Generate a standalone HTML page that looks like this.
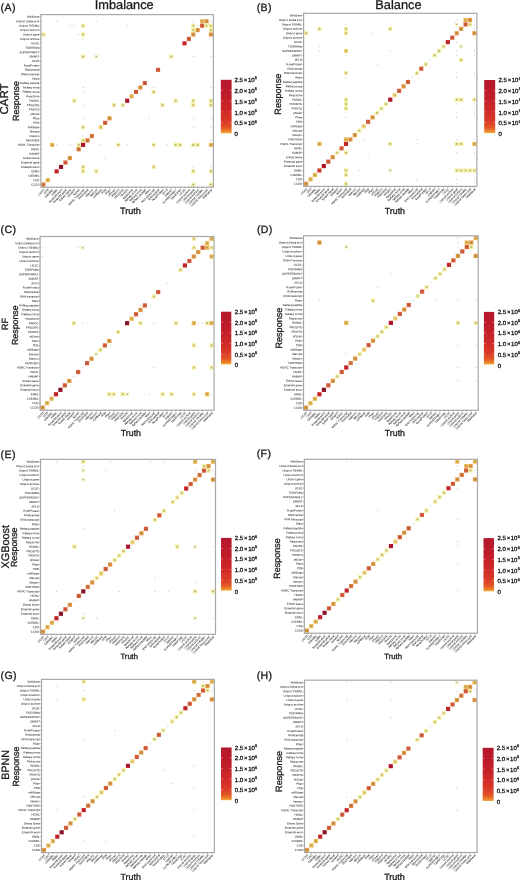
<!DOCTYPE html>
<html><head><meta charset="utf-8"><title>Confusion matrices</title>
<style>
html,body{margin:0;padding:0;background:#fff;}
svg{display:block;will-change:transform;filter:blur(0.45px);}
text{font-family:"Liberation Sans",sans-serif;text-rendering:geometricPrecision;}
.tl{fill:#222;stroke:#222;stroke-width:0.03px;}
.lb{fill:#1a1a1a;stroke:#1a1a1a;stroke-width:0.3px;}
</style></head><body>
<svg width="520" height="880" viewBox="0 0 520 880">
<defs><linearGradient id="cb" x1="0" y1="0" x2="0" y2="1"><stop offset="0" stop-color="#b3182c"/><stop offset="0.3" stop-color="#c01c2a"/><stop offset="0.6" stop-color="#cf2a28"/><stop offset="0.8" stop-color="#db3d26"/><stop offset="0.9" stop-color="#e35826"/><stop offset="0.97" stop-color="#ed8a2c"/><stop offset="1" stop-color="#f4b040"/></linearGradient></defs>
<rect x="0" y="0" width="520" height="880" fill="#fff"/>
<text class="lb" x="94.7" y="9.2" font-size="12.8">Imbalance</text>
<text class="lb" x="375.3" y="8.9" font-size="12.8">Balance</text>
<text class="lb" x="0.6" y="10.5" font-size="10.6" letter-spacing="0.35">(A)</text>
<text class="lb" x="256.7" y="10.5" font-size="10.6" letter-spacing="0.35">(B)</text>
<text class="lb" x="0.6" y="232.6" font-size="10.6" letter-spacing="0.35">(C)</text>
<text class="lb" x="256.9" y="232.8" font-size="10.6" letter-spacing="0.35">(D)</text>
<text class="lb" x="0.6" y="457.8" font-size="10.6" letter-spacing="0.35">(E)</text>
<text class="lb" x="256.7" y="456.8" font-size="10.6" letter-spacing="0.35">(F)</text>
<text class="lb" x="0.6" y="678.5" font-size="10.6" letter-spacing="0.35">(G)</text>
<text class="lb" x="256.7" y="679" font-size="10.6" letter-spacing="0.35">(H)</text>
<text class="lb" font-size="11.4" text-anchor="middle" transform="translate(8.3 99) rotate(-90)">CART</text>
<text class="lb" font-size="9" text-anchor="middle" transform="translate(7.9 324) rotate(-90)">RF</text>
<text class="lb" font-size="10.9" text-anchor="middle" transform="translate(8.6 546.8) rotate(-90)">XGBoost</text>
<text class="lb" font-size="10.7" text-anchor="middle" transform="translate(8.6 764.8) rotate(-90)">BPNN</text>
<text class="lb" font-size="8.85" text-anchor="middle" transform="translate(18.6 101) rotate(-90)">Response</text>
<text class="lb" font-size="9.1" text-anchor="middle" transform="translate(280.8 94.2) rotate(-90)">Response</text>
<text class="lb" font-size="8.8" text-anchor="middle" transform="translate(18.4 325.2) rotate(-90)">Response</text>
<text class="lb" font-size="9.1" text-anchor="middle" transform="translate(281.8 328.1) rotate(-90)">Response</text>
<text class="lb" font-size="8.8" text-anchor="middle" transform="translate(17.3 547.3) rotate(-90)">Response</text>
<text class="lb" font-size="9" text-anchor="middle" transform="translate(280.3 558.5) rotate(-90)">Response</text>
<text class="lb" font-size="8.9" text-anchor="middle" transform="translate(19 766.6) rotate(-90)">Response</text>
<text class="lb" font-size="9.15" text-anchor="middle" transform="translate(282.2 771.4) rotate(-90)">Response</text>
<text class="lb" x="120" y="213.8" font-size="9.1">Truth</text>
<text class="lb" x="384.8" y="213.5" font-size="8.8">Truth</text>
<text class="lb" x="120.8" y="436.1" font-size="8.8">Truth</text>
<text class="lb" x="384.8" y="436.1" font-size="8.8">Truth</text>
<text class="lb" x="120.5" y="658.7" font-size="7.6">Truth</text>
<text class="lb" x="384.2" y="658.5" font-size="7.8">Truth</text>
<text class="lb" x="120.5" y="880" font-size="8.9">Truth</text>
<text class="lb" x="384.2" y="880" font-size="9">Truth</text>
<rect x="41.33" y="32.44" width="4.14" height="4.14" fill="#f6f0a4"/>
<path d="M42.55 33.66L44.25 35.36M44.25 33.66L42.55 35.36" stroke="#3e4518" stroke-opacity="0.48" stroke-width="0.7"/>
<rect x="41.33" y="182.52" width="4.14" height="4.14" fill="#dc7a3c"/>
<path d="M42.55 183.74L44.25 185.44M44.25 183.74L42.55 185.44" stroke="#3c3028" stroke-opacity="0.32" stroke-width="0.7"/>
<rect x="45.74" y="178.11" width="4.14" height="4.14" fill="#eab954"/>
<path d="M46.96 179.33L48.66 181.03M48.66 179.33L46.96 181.03" stroke="#3c3028" stroke-opacity="0.32" stroke-width="0.7"/>
<rect x="50.15" y="142.79" width="4.14" height="4.14" fill="#eab954"/>
<path d="M51.37 144.02L53.07 145.72M53.07 144.02L51.37 145.72" stroke="#3c3028" stroke-opacity="0.32" stroke-width="0.7"/>
<rect x="56.08" y="20.72" width="1.1" height="1.1" fill="#6a7078" fill-opacity="0.35"/>
<rect x="56.08" y="144.32" width="1.1" height="1.1" fill="#6a7078" fill-opacity="0.35"/>
<rect x="54.56" y="169.28" width="4.14" height="4.14" fill="#cb2629"/>
<path d="M55.78 170.5L57.48 172.2M57.48 170.5L55.78 172.2" stroke="#3c3028" stroke-opacity="0.32" stroke-width="0.7"/>
<rect x="58.97" y="164.86" width="4.14" height="4.14" fill="#8f1228"/>
<path d="M60.19 166.09L61.89 167.79M61.89 166.09L60.19 167.79" stroke="#3c3028" stroke-opacity="0.32" stroke-width="0.7"/>
<rect x="63.38" y="160.45" width="4.14" height="4.14" fill="#d9603a"/>
<path d="M64.6 161.67L66.3 163.37M66.3 161.67L64.6 163.37" stroke="#3c3028" stroke-opacity="0.32" stroke-width="0.7"/>
<rect x="69.31" y="25.14" width="1.1" height="1.1" fill="#6a7078" fill-opacity="0.35"/>
<rect x="69.31" y="144.32" width="1.1" height="1.1" fill="#6a7078" fill-opacity="0.35"/>
<rect x="67.79" y="156.04" width="4.14" height="4.14" fill="#e29a44"/>
<path d="M69.01 157.26L70.71 158.96M70.71 157.26L69.01 158.96" stroke="#3c3028" stroke-opacity="0.32" stroke-width="0.7"/>
<rect x="73.72" y="25.14" width="1.1" height="1.1" fill="#6a7078" fill-opacity="0.35"/>
<rect x="72.2" y="98.65" width="4.14" height="4.14" fill="#f6f0a4"/>
<path d="M73.42 99.88L75.12 101.57M75.12 99.88L73.42 101.57" stroke="#3e4518" stroke-opacity="0.48" stroke-width="0.7"/>
<rect x="78.13" y="33.96" width="1.1" height="1.1" fill="#6a7078" fill-opacity="0.35"/>
<rect x="76.6" y="142.79" width="4.14" height="4.14" fill="#f6f0a4"/>
<path d="M77.83 144.02L79.53 145.72M79.53 144.02L77.83 145.72" stroke="#3e4518" stroke-opacity="0.48" stroke-width="0.7"/>
<rect x="76.6" y="147.21" width="4.14" height="4.14" fill="#dc7a3c"/>
<path d="M77.83 148.43L79.53 150.13M79.53 148.43L77.83 150.13" stroke="#3c3028" stroke-opacity="0.32" stroke-width="0.7"/>
<rect x="81.01" y="23.61" width="4.14" height="4.14" fill="#f6f0a4"/>
<path d="M82.24 24.84L83.94 26.54M83.94 24.84L82.24 26.54" stroke="#3e4518" stroke-opacity="0.48" stroke-width="0.7"/>
<rect x="81.01" y="32.44" width="4.14" height="4.14" fill="#f6f0a4"/>
<path d="M82.24 33.66L83.94 35.36M83.94 33.66L82.24 35.36" stroke="#3e4518" stroke-opacity="0.48" stroke-width="0.7"/>
<rect x="82.54" y="38.38" width="1.1" height="1.1" fill="#6a7078" fill-opacity="0.35"/>
<rect x="81.01" y="54.51" width="4.14" height="4.14" fill="#f6f0a4"/>
<path d="M82.24 55.73L83.94 57.43M83.94 55.73L82.24 57.43" stroke="#3e4518" stroke-opacity="0.48" stroke-width="0.7"/>
<rect x="82.54" y="86.93" width="1.1" height="1.1" fill="#6a7078" fill-opacity="0.35"/>
<rect x="82.54" y="91.35" width="1.1" height="1.1" fill="#6a7078" fill-opacity="0.35"/>
<rect x="82.54" y="104.59" width="1.1" height="1.1" fill="#6a7078" fill-opacity="0.35"/>
<rect x="82.54" y="117.83" width="1.1" height="1.1" fill="#6a7078" fill-opacity="0.35"/>
<rect x="81.01" y="125.14" width="4.14" height="4.14" fill="#f6f0a4"/>
<path d="M82.24 126.36L83.94 128.06M83.94 126.36L82.24 128.06" stroke="#3e4518" stroke-opacity="0.48" stroke-width="0.7"/>
<rect x="82.54" y="135.49" width="1.1" height="1.1" fill="#6a7078" fill-opacity="0.35"/>
<rect x="81.01" y="138.38" width="4.14" height="4.14" fill="#f6f0a4"/>
<path d="M82.24 139.6L83.94 141.3M83.94 139.6L82.24 141.3" stroke="#3e4518" stroke-opacity="0.48" stroke-width="0.7"/>
<rect x="81.01" y="142.79" width="4.14" height="4.14" fill="#b5152a"/>
<path d="M82.24 144.02L83.94 145.72M83.94 144.02L82.24 145.72" stroke="#3c3028" stroke-opacity="0.32" stroke-width="0.7"/>
<rect x="81.01" y="164.86" width="4.14" height="4.14" fill="#f6f0a4"/>
<path d="M82.24 166.09L83.94 167.79M83.94 166.09L82.24 167.79" stroke="#3e4518" stroke-opacity="0.48" stroke-width="0.7"/>
<rect x="81.01" y="169.28" width="4.14" height="4.14" fill="#f6f0a4"/>
<path d="M82.24 170.5L83.94 172.2M83.94 170.5L82.24 172.2" stroke="#3e4518" stroke-opacity="0.48" stroke-width="0.7"/>
<rect x="82.54" y="184.04" width="1.1" height="1.1" fill="#6a7078" fill-opacity="0.35"/>
<rect x="85.42" y="138.38" width="4.14" height="4.14" fill="#dc7a3c"/>
<path d="M86.64 139.6L88.34 141.3M88.34 139.6L86.64 141.3" stroke="#3c3028" stroke-opacity="0.32" stroke-width="0.7"/>
<rect x="89.83" y="133.97" width="4.14" height="4.14" fill="#dc7a3c"/>
<path d="M91.05 135.19L92.75 136.89M92.75 135.19L91.05 136.89" stroke="#3c3028" stroke-opacity="0.32" stroke-width="0.7"/>
<rect x="95.76" y="20.72" width="1.1" height="1.1" fill="#6a7078" fill-opacity="0.35"/>
<rect x="94.24" y="54.51" width="4.14" height="4.14" fill="#fbf8d6"/>
<path d="M95.46 55.73L97.16 57.43M97.16 55.73L95.46 57.43" stroke="#3e4518" stroke-opacity="0.48" stroke-width="0.7"/>
<rect x="94.24" y="169.28" width="4.14" height="4.14" fill="#f6f0a4"/>
<path d="M95.46 170.5L97.16 172.2M97.16 170.5L95.46 172.2" stroke="#3e4518" stroke-opacity="0.48" stroke-width="0.7"/>
<rect x="98.65" y="125.14" width="4.14" height="4.14" fill="#f3d77c"/>
<path d="M99.87 126.36L101.57 128.06M101.57 126.36L99.87 128.06" stroke="#3e4518" stroke-opacity="0.32" stroke-width="0.7"/>
<rect x="100.17" y="144.32" width="1.1" height="1.1" fill="#6a7078" fill-opacity="0.35"/>
<rect x="103.06" y="120.72" width="4.14" height="4.14" fill="#d9603a"/>
<path d="M104.28 121.95L105.98 123.65M105.98 121.95L104.28 123.65" stroke="#3c3028" stroke-opacity="0.32" stroke-width="0.7"/>
<rect x="104.58" y="157.56" width="1.1" height="1.1" fill="#6a7078" fill-opacity="0.35"/>
<rect x="107.47" y="116.31" width="4.14" height="4.14" fill="#e29a44"/>
<path d="M108.69 117.53L110.39 119.23M110.39 117.53L108.69 119.23" stroke="#3c3028" stroke-opacity="0.32" stroke-width="0.7"/>
<rect x="111.88" y="103.07" width="4.14" height="4.14" fill="#f6f0a4"/>
<path d="M113.1 104.29L114.8 105.99M114.8 104.29L113.1 105.99" stroke="#3e4518" stroke-opacity="0.48" stroke-width="0.7"/>
<rect x="116.28" y="142.79" width="4.14" height="4.14" fill="#f6f0a4"/>
<path d="M117.51 144.02L119.21 145.72M119.21 144.02L117.51 145.72" stroke="#3e4518" stroke-opacity="0.48" stroke-width="0.7"/>
<rect x="120.69" y="103.07" width="4.14" height="4.14" fill="#f6f0a4"/>
<path d="M121.92 104.29L123.62 105.99M123.62 104.29L121.92 105.99" stroke="#3e4518" stroke-opacity="0.48" stroke-width="0.7"/>
<rect x="126.63" y="25.14" width="1.1" height="1.1" fill="#6a7078" fill-opacity="0.35"/>
<rect x="125.1" y="98.65" width="4.14" height="4.14" fill="#b5152a"/>
<path d="M126.33 99.88L128.03 101.57M128.03 99.88L126.33 101.57" stroke="#3c3028" stroke-opacity="0.32" stroke-width="0.7"/>
<rect x="126.63" y="144.32" width="1.1" height="1.1" fill="#6a7078" fill-opacity="0.35"/>
<rect x="129.51" y="94.24" width="4.14" height="4.14" fill="#eab954"/>
<path d="M130.73 95.46L132.43 97.16M132.43 95.46L130.73 97.16" stroke="#3c3028" stroke-opacity="0.32" stroke-width="0.7"/>
<rect x="133.92" y="89.82" width="4.14" height="4.14" fill="#d9603a"/>
<path d="M135.14 91.05L136.84 92.75M136.84 91.05L135.14 92.75" stroke="#3c3028" stroke-opacity="0.32" stroke-width="0.7"/>
<rect x="138.33" y="85.41" width="4.14" height="4.14" fill="#e29a44"/>
<path d="M139.55 86.63L141.25 88.33M141.25 86.63L139.55 88.33" stroke="#3c3028" stroke-opacity="0.32" stroke-width="0.7"/>
<rect x="142.74" y="81" width="4.14" height="4.14" fill="#d9603a"/>
<path d="M143.96 82.22L145.66 83.92M145.66 82.22L143.96 83.92" stroke="#3c3028" stroke-opacity="0.32" stroke-width="0.7"/>
<rect x="148.67" y="117.83" width="1.1" height="1.1" fill="#6a7078" fill-opacity="0.35"/>
<rect x="153.08" y="86.93" width="1.1" height="1.1" fill="#6a7078" fill-opacity="0.35"/>
<rect x="151.56" y="89.82" width="4.14" height="4.14" fill="#f6f0a4"/>
<path d="M152.78 91.05L154.48 92.75M154.48 91.05L152.78 92.75" stroke="#3e4518" stroke-opacity="0.48" stroke-width="0.7"/>
<rect x="151.56" y="142.79" width="4.14" height="4.14" fill="#f6f0a4"/>
<path d="M152.78 144.02L154.48 145.72M154.48 144.02L152.78 145.72" stroke="#3e4518" stroke-opacity="0.48" stroke-width="0.7"/>
<rect x="151.56" y="164.86" width="4.14" height="4.14" fill="#f6f0a4"/>
<path d="M152.78 166.09L154.48 167.79M154.48 166.09L152.78 167.79" stroke="#3e4518" stroke-opacity="0.48" stroke-width="0.7"/>
<rect x="155.97" y="67.75" width="4.14" height="4.14" fill="#d9603a"/>
<path d="M157.19 68.98L158.89 70.68M158.89 68.98L157.19 70.68" stroke="#3c3028" stroke-opacity="0.32" stroke-width="0.7"/>
<rect x="160.37" y="103.07" width="4.14" height="4.14" fill="#f6f0a4"/>
<path d="M161.6 104.29L163.3 105.99M163.3 104.29L161.6 105.99" stroke="#3e4518" stroke-opacity="0.48" stroke-width="0.7"/>
<rect x="166.31" y="144.32" width="1.1" height="1.1" fill="#6a7078" fill-opacity="0.35"/>
<rect x="169.19" y="54.51" width="4.14" height="4.14" fill="#f6f0a4"/>
<path d="M170.41 55.73L172.11 57.43M172.11 55.73L170.41 57.43" stroke="#3e4518" stroke-opacity="0.48" stroke-width="0.7"/>
<rect x="173.6" y="98.65" width="4.14" height="4.14" fill="#f6f0a4"/>
<path d="M174.82 99.88L176.52 101.57M176.52 99.88L174.82 101.57" stroke="#3e4518" stroke-opacity="0.48" stroke-width="0.7"/>
<rect x="173.6" y="142.79" width="4.14" height="4.14" fill="#f6f0a4"/>
<path d="M174.82 144.02L176.52 145.72M176.52 144.02L174.82 145.72" stroke="#3e4518" stroke-opacity="0.48" stroke-width="0.7"/>
<rect x="178.01" y="142.79" width="4.14" height="4.14" fill="#f6f0a4"/>
<path d="M179.23 144.02L180.93 145.72M180.93 144.02L179.23 145.72" stroke="#3e4518" stroke-opacity="0.48" stroke-width="0.7"/>
<rect x="182.42" y="41.27" width="4.14" height="4.14" fill="#cb2629"/>
<path d="M183.64 42.49L185.34 44.19M185.34 42.49L183.64 44.19" stroke="#3c3028" stroke-opacity="0.32" stroke-width="0.7"/>
<rect x="186.83" y="36.86" width="4.14" height="4.14" fill="#d9603a"/>
<path d="M188.05 38.08L189.75 39.78M189.75 38.08L188.05 39.78" stroke="#3c3028" stroke-opacity="0.32" stroke-width="0.7"/>
<rect x="192.76" y="20.72" width="1.1" height="1.1" fill="#6a7078" fill-opacity="0.35"/>
<rect x="191.24" y="23.61" width="4.14" height="4.14" fill="#f6f0a4"/>
<path d="M192.46 24.84L194.16 26.54M194.16 24.84L192.46 26.54" stroke="#3e4518" stroke-opacity="0.48" stroke-width="0.7"/>
<rect x="191.24" y="28.03" width="4.14" height="4.14" fill="#f6f0a4"/>
<path d="M192.46 29.25L194.16 30.95M194.16 29.25L192.46 30.95" stroke="#3e4518" stroke-opacity="0.48" stroke-width="0.7"/>
<rect x="191.24" y="32.44" width="4.14" height="4.14" fill="#e29a44"/>
<path d="M192.46 33.66L194.16 35.36M194.16 33.66L192.46 35.36" stroke="#3c3028" stroke-opacity="0.32" stroke-width="0.7"/>
<rect x="192.76" y="56.03" width="1.1" height="1.1" fill="#6a7078" fill-opacity="0.35"/>
<rect x="191.24" y="98.65" width="4.14" height="4.14" fill="#f6f0a4"/>
<path d="M192.46 99.88L194.16 101.57M194.16 99.88L192.46 101.57" stroke="#3e4518" stroke-opacity="0.48" stroke-width="0.7"/>
<rect x="191.24" y="103.07" width="4.14" height="4.14" fill="#f6f0a4"/>
<path d="M192.46 104.29L194.16 105.99M194.16 104.29L192.46 105.99" stroke="#3e4518" stroke-opacity="0.48" stroke-width="0.7"/>
<rect x="192.76" y="117.83" width="1.1" height="1.1" fill="#6a7078" fill-opacity="0.35"/>
<rect x="192.76" y="126.66" width="1.1" height="1.1" fill="#6a7078" fill-opacity="0.35"/>
<rect x="191.24" y="142.79" width="4.14" height="4.14" fill="#f6f0a4"/>
<path d="M192.46 144.02L194.16 145.72M194.16 144.02L192.46 145.72" stroke="#3e4518" stroke-opacity="0.48" stroke-width="0.7"/>
<rect x="192.76" y="166.39" width="1.1" height="1.1" fill="#6a7078" fill-opacity="0.35"/>
<rect x="191.24" y="169.28" width="4.14" height="4.14" fill="#f6f0a4"/>
<path d="M192.46 170.5L194.16 172.2M194.16 170.5L192.46 172.2" stroke="#3e4518" stroke-opacity="0.48" stroke-width="0.7"/>
<rect x="191.24" y="182.52" width="4.14" height="4.14" fill="#f6f0a4"/>
<path d="M192.46 183.74L194.16 185.44M194.16 183.74L192.46 185.44" stroke="#3e4518" stroke-opacity="0.48" stroke-width="0.7"/>
<rect x="197.17" y="25.14" width="1.1" height="1.1" fill="#6a7078" fill-opacity="0.35"/>
<rect x="195.65" y="28.03" width="4.14" height="4.14" fill="#e29a44"/>
<path d="M196.87 29.25L198.57 30.95M198.57 29.25L196.87 30.95" stroke="#3c3028" stroke-opacity="0.32" stroke-width="0.7"/>
<rect x="195.65" y="142.79" width="4.14" height="4.14" fill="#f6f0a4"/>
<path d="M196.87 144.02L198.57 145.72M198.57 144.02L196.87 145.72" stroke="#3e4518" stroke-opacity="0.48" stroke-width="0.7"/>
<rect x="200.06" y="19.2" width="4.14" height="4.14" fill="#eab954"/>
<path d="M201.28 20.42L202.98 22.12M202.98 20.42L201.28 22.12" stroke="#3c3028" stroke-opacity="0.32" stroke-width="0.7"/>
<rect x="200.06" y="23.61" width="4.14" height="4.14" fill="#d9603a"/>
<path d="M201.28 24.84L202.98 26.54M202.98 24.84L201.28 26.54" stroke="#3c3028" stroke-opacity="0.32" stroke-width="0.7"/>
<rect x="204.46" y="19.2" width="4.14" height="4.14" fill="#e29a44"/>
<path d="M205.69 20.42L207.39 22.12M207.39 20.42L205.69 22.12" stroke="#3c3028" stroke-opacity="0.32" stroke-width="0.7"/>
<rect x="204.46" y="23.61" width="4.14" height="4.14" fill="#f6f0a4"/>
<path d="M205.69 24.84L207.39 26.54M207.39 24.84L205.69 26.54" stroke="#3e4518" stroke-opacity="0.48" stroke-width="0.7"/>
<rect x="210.4" y="20.72" width="1.1" height="1.1" fill="#6a7078" fill-opacity="0.35"/>
<rect x="208.87" y="23.61" width="4.14" height="4.14" fill="#f6f0a4"/>
<path d="M210.1 24.84L211.8 26.54M211.8 24.84L210.1 26.54" stroke="#3e4518" stroke-opacity="0.48" stroke-width="0.7"/>
<rect x="208.87" y="28.03" width="4.14" height="4.14" fill="#f6f0a4"/>
<path d="M210.1 29.25L211.8 30.95M211.8 29.25L210.1 30.95" stroke="#3e4518" stroke-opacity="0.48" stroke-width="0.7"/>
<rect x="208.87" y="32.44" width="4.14" height="4.14" fill="#e29a44"/>
<path d="M210.1 33.66L211.8 35.36M211.8 33.66L210.1 35.36" stroke="#3c3028" stroke-opacity="0.32" stroke-width="0.7"/>
<rect x="210.4" y="56.03" width="1.1" height="1.1" fill="#6a7078" fill-opacity="0.35"/>
<rect x="210.4" y="86.93" width="1.1" height="1.1" fill="#6a7078" fill-opacity="0.35"/>
<rect x="208.87" y="98.65" width="4.14" height="4.14" fill="#f6f0a4"/>
<path d="M210.1 99.88L211.8 101.57M211.8 99.88L210.1 101.57" stroke="#3e4518" stroke-opacity="0.48" stroke-width="0.7"/>
<rect x="208.87" y="103.07" width="4.14" height="4.14" fill="#f6f0a4"/>
<path d="M210.1 104.29L211.8 105.99M211.8 104.29L210.1 105.99" stroke="#3e4518" stroke-opacity="0.48" stroke-width="0.7"/>
<rect x="210.4" y="117.83" width="1.1" height="1.1" fill="#6a7078" fill-opacity="0.35"/>
<rect x="210.4" y="126.66" width="1.1" height="1.1" fill="#6a7078" fill-opacity="0.35"/>
<rect x="210.4" y="139.9" width="1.1" height="1.1" fill="#6a7078" fill-opacity="0.35"/>
<rect x="208.87" y="142.79" width="4.14" height="4.14" fill="#eab954"/>
<path d="M210.1 144.02L211.8 145.72M211.8 144.02L210.1 145.72" stroke="#3c3028" stroke-opacity="0.32" stroke-width="0.7"/>
<rect x="210.4" y="166.39" width="1.1" height="1.1" fill="#6a7078" fill-opacity="0.35"/>
<rect x="208.87" y="169.28" width="4.14" height="4.14" fill="#f6f0a4"/>
<path d="M210.1 170.5L211.8 172.2M211.8 170.5L210.1 172.2" stroke="#3e4518" stroke-opacity="0.48" stroke-width="0.7"/>
<rect x="208.87" y="182.52" width="4.14" height="4.14" fill="#f6f0a4"/>
<path d="M210.1 183.74L211.8 185.44M211.8 183.74L210.1 185.44" stroke="#3e4518" stroke-opacity="0.48" stroke-width="0.7"/>
<rect x="40.9" y="14.6" width="172.5" height="172.6" fill="none" stroke="#a9a9a9" stroke-width="1.2"/>
<path d="M40.9 16.86h-1.2M43.4 187.2v1.2M40.9 21.27h-1.2M47.81 187.2v1.2M40.9 25.69h-1.2M52.22 187.2v1.2M40.9 30.1h-1.2M56.63 187.2v1.2M40.9 34.51h-1.2M61.04 187.2v1.2M40.9 38.93h-1.2M65.45 187.2v1.2M40.9 43.34h-1.2M69.86 187.2v1.2M40.9 47.76h-1.2M74.27 187.2v1.2M40.9 52.17h-1.2M78.68 187.2v1.2M40.9 56.58h-1.2M83.09 187.2v1.2M40.9 61h-1.2M87.49 187.2v1.2M40.9 65.41h-1.2M91.9 187.2v1.2M40.9 69.83h-1.2M96.31 187.2v1.2M40.9 74.24h-1.2M100.72 187.2v1.2M40.9 78.65h-1.2M105.13 187.2v1.2M40.9 83.07h-1.2M109.54 187.2v1.2M40.9 87.48h-1.2M113.95 187.2v1.2M40.9 91.9h-1.2M118.36 187.2v1.2M40.9 96.31h-1.2M122.77 187.2v1.2M40.9 100.72h-1.2M127.18 187.2v1.2M40.9 105.14h-1.2M131.58 187.2v1.2M40.9 109.55h-1.2M135.99 187.2v1.2M40.9 113.97h-1.2M140.4 187.2v1.2M40.9 118.38h-1.2M144.81 187.2v1.2M40.9 122.8h-1.2M149.22 187.2v1.2M40.9 127.21h-1.2M153.63 187.2v1.2M40.9 131.62h-1.2M158.04 187.2v1.2M40.9 136.04h-1.2M162.45 187.2v1.2M40.9 140.45h-1.2M166.86 187.2v1.2M40.9 144.87h-1.2M171.26 187.2v1.2M40.9 149.28h-1.2M175.67 187.2v1.2M40.9 153.69h-1.2M180.08 187.2v1.2M40.9 158.11h-1.2M184.49 187.2v1.2M40.9 162.52h-1.2M188.9 187.2v1.2M40.9 166.94h-1.2M193.31 187.2v1.2M40.9 171.35h-1.2M197.72 187.2v1.2M40.9 175.76h-1.2M202.13 187.2v1.2M40.9 180.18h-1.2M206.54 187.2v1.2M40.9 184.59h-1.2M210.95 187.2v1.2" stroke="#777" stroke-width="0.5" fill="none"/>
<g class="tl" font-size="2.85" text-anchor="end"><text transform="translate(39.3 17.85) rotate(0.1)">WikiGene</text><text transform="translate(39.3 22.27) rotate(0.1)">Uniprot Swiss-prot</text><text transform="translate(39.3 26.68) rotate(0.1)">Uniprot TrEMBL</text><text transform="translate(39.3 31.1) rotate(0.1)">Uniprot isoform</text><text transform="translate(39.3 35.51) rotate(0.1)">Uniprot gene</text><text transform="translate(39.3 39.93) rotate(0.1)">Uniprot archive</text><text transform="translate(39.3 44.34) rotate(0.1)">UCSC</text><text transform="translate(39.3 48.75) rotate(0.1)">TIGRFAMs</text><text transform="translate(39.3 53.17) rotate(0.1)">SUPERFAMILY</text><text transform="translate(39.3 57.58) rotate(0.1)">SMART</text><text transform="translate(39.3 62) rotate(0.1)">SFLD</text><text transform="translate(39.3 66.41) rotate(0.1)">RoseProtein</text><text transform="translate(39.3 70.82) rotate(0.1)">RNAcentral</text><text transform="translate(39.3 75.24) rotate(0.1)">RNA transcript</text><text transform="translate(39.3 79.65) rotate(0.1)">Rfam</text><text transform="translate(39.3 84.07) rotate(0.1)">Refseq peptide</text><text transform="translate(39.3 88.48) rotate(0.1)">Refseq mrna</text><text transform="translate(39.3 92.89) rotate(0.1)">Refseq ncrna</text><text transform="translate(39.3 97.31) rotate(0.1)">Reactome</text><text transform="translate(39.3 101.72) rotate(0.1)">PANDC</text><text transform="translate(39.3 106.14) rotate(0.1)">PROSITE</text><text transform="translate(39.3 110.55) rotate(0.1)">PRINTS</text><text transform="translate(39.3 114.96) rotate(0.1)">pfScan</text><text transform="translate(39.3 119.38) rotate(0.1)">Pfam</text><text transform="translate(39.3 123.79) rotate(0.1)">PDB</text><text transform="translate(39.3 128.21) rotate(0.1)">miRBase</text><text transform="translate(39.3 132.62) rotate(0.1)">Merops</text><text transform="translate(39.3 137.04) rotate(0.1)">Interpro</text><text transform="translate(39.3 141.45) rotate(0.1)">PANTHER</text><text transform="translate(39.3 145.86) rotate(0.1)">HGNC Transcript</text><text transform="translate(39.3 150.28) rotate(0.1)">HGNC</text><text transform="translate(39.3 154.69) rotate(0.1)">HAMAP</text><text transform="translate(39.3 159.11) rotate(0.1)">Entrez Gene</text><text transform="translate(39.3 163.52) rotate(0.1)">Ensembl gene</text><text transform="translate(39.3 167.93) rotate(0.1)">Ensembl exon</text><text transform="translate(39.3 172.35) rotate(0.1)">EMBL</text><text transform="translate(39.3 176.76) rotate(0.1)">ChEMBL</text><text transform="translate(39.3 181.18) rotate(0.1)">CDD</text><text transform="translate(39.3 185.59) rotate(0.1)">CCDS</text></g>
<g class="tl" font-size="2.85" text-anchor="end"><text transform="translate(44.8 190.1) rotate(-46)">CCDS</text><text transform="translate(49.21 190.1) rotate(-46)">CDD</text><text transform="translate(53.62 190.1) rotate(-46)">ChEMBL</text><text transform="translate(58.03 190.1) rotate(-46)">EMBL</text><text transform="translate(62.44 190.1) rotate(-46)">Ensembl exon</text><text transform="translate(66.85 190.1) rotate(-46)">Ensembl gene</text><text transform="translate(71.26 190.1) rotate(-46)">Entrez Gene</text><text transform="translate(75.67 190.1) rotate(-46)">HAMAP</text><text transform="translate(80.08 190.1) rotate(-46)">HGNC</text><text transform="translate(84.49 190.1) rotate(-46)">HGNC Transcript</text><text transform="translate(88.89 190.1) rotate(-46)">PANTHER</text><text transform="translate(93.3 190.1) rotate(-46)">Interpro</text><text transform="translate(97.71 190.1) rotate(-46)">Merops</text><text transform="translate(102.12 190.1) rotate(-46)">miRBase</text><text transform="translate(106.53 190.1) rotate(-46)">PDB</text><text transform="translate(110.94 190.1) rotate(-46)">Pfam</text><text transform="translate(115.35 190.1) rotate(-46)">pfScan</text><text transform="translate(119.76 190.1) rotate(-46)">PRINTS</text><text transform="translate(124.17 190.1) rotate(-46)">PROSITE</text><text transform="translate(128.58 190.1) rotate(-46)">PANDC</text><text transform="translate(132.98 190.1) rotate(-46)">Reactome</text><text transform="translate(137.39 190.1) rotate(-46)">Refseq ncrna</text><text transform="translate(141.8 190.1) rotate(-46)">Refseq mrna</text><text transform="translate(146.21 190.1) rotate(-46)">Refseq peptide</text><text transform="translate(150.62 190.1) rotate(-46)">Rfam</text><text transform="translate(155.03 190.1) rotate(-46)">RNA transcript</text><text transform="translate(159.44 190.1) rotate(-46)">RNAcentral</text><text transform="translate(163.85 190.1) rotate(-46)">RoseProtein</text><text transform="translate(168.26 190.1) rotate(-46)">SFLD</text><text transform="translate(172.66 190.1) rotate(-46)">SMART</text><text transform="translate(177.07 190.1) rotate(-46)">SUPERFAMILY</text><text transform="translate(181.48 190.1) rotate(-46)">TIGRFAMs</text><text transform="translate(185.89 190.1) rotate(-46)">UCSC</text><text transform="translate(190.3 190.1) rotate(-46)">Uniprot archive</text><text transform="translate(194.71 190.1) rotate(-46)">Uniprot gene</text><text transform="translate(199.12 190.1) rotate(-46)">Uniprot isoform</text><text transform="translate(203.53 190.1) rotate(-46)">Uniprot TrEMBL</text><text transform="translate(207.94 190.1) rotate(-46)">Uniprot Swiss-prot</text><text transform="translate(212.35 190.1) rotate(-46)">WikiGene</text></g>
<rect x="304.03" y="31.19" width="4.16" height="4.16" fill="#f6f0a4"/>
<path d="M305.26 32.42L306.96 34.12M306.96 32.42L305.26 34.12" stroke="#3e4518" stroke-opacity="0.48" stroke-width="0.7"/>
<rect x="304.03" y="181.7" width="4.16" height="4.16" fill="#e29a44"/>
<path d="M305.26 182.94L306.96 184.64M306.96 182.94L305.26 184.64" stroke="#3c3028" stroke-opacity="0.32" stroke-width="0.7"/>
<rect x="308.46" y="177.28" width="4.16" height="4.16" fill="#eab954"/>
<path d="M309.69 178.51L311.39 180.21M311.39 178.51L309.69 180.21" stroke="#3c3028" stroke-opacity="0.32" stroke-width="0.7"/>
<rect x="312.89" y="172.85" width="4.16" height="4.16" fill="#eab954"/>
<path d="M314.12 174.08L315.82 175.78M315.82 174.08L314.12 175.78" stroke="#3c3028" stroke-opacity="0.32" stroke-width="0.7"/>
<rect x="317.32" y="26.76" width="4.16" height="4.16" fill="#f6f0a4"/>
<path d="M318.55 27.99L320.25 29.69M320.25 27.99L318.55 29.69" stroke="#3e4518" stroke-opacity="0.48" stroke-width="0.7"/>
<rect x="318.85" y="46" width="1.1" height="1.1" fill="#6a7078" fill-opacity="0.35"/>
<rect x="318.85" y="50.43" width="1.1" height="1.1" fill="#6a7078" fill-opacity="0.35"/>
<rect x="318.85" y="103.55" width="1.1" height="1.1" fill="#6a7078" fill-opacity="0.35"/>
<rect x="317.32" y="141.86" width="4.16" height="4.16" fill="#eab954"/>
<path d="M318.55 143.09L320.25 144.79M320.25 143.09L318.55 144.79" stroke="#3c3028" stroke-opacity="0.32" stroke-width="0.7"/>
<rect x="317.32" y="168.42" width="4.16" height="4.16" fill="#d0402e"/>
<path d="M318.55 169.66L320.25 171.36M320.25 169.66L318.55 171.36" stroke="#3c3028" stroke-opacity="0.32" stroke-width="0.7"/>
<rect x="321.75" y="164" width="4.16" height="4.16" fill="#b5152a"/>
<path d="M322.98 165.23L324.68 166.93M324.68 165.23L322.98 166.93" stroke="#3c3028" stroke-opacity="0.32" stroke-width="0.7"/>
<rect x="326.18" y="159.57" width="4.16" height="4.16" fill="#d9603a"/>
<path d="M327.41 160.8L329.11 162.5M329.11 160.8L327.41 162.5" stroke="#3c3028" stroke-opacity="0.32" stroke-width="0.7"/>
<rect x="330.61" y="155.14" width="4.16" height="4.16" fill="#e29a44"/>
<path d="M331.84 156.38L333.54 158.07M333.54 156.38L331.84 158.07" stroke="#3c3028" stroke-opacity="0.32" stroke-width="0.7"/>
<rect x="335.04" y="150.72" width="4.16" height="4.16" fill="#f6f0a4"/>
<path d="M336.27 151.95L337.97 153.65M337.97 151.95L336.27 153.65" stroke="#3e4518" stroke-opacity="0.48" stroke-width="0.7"/>
<rect x="339.47" y="146.29" width="4.16" height="4.16" fill="#d9603a"/>
<path d="M340.7 147.52L342.4 149.22M342.4 147.52L340.7 149.22" stroke="#3c3028" stroke-opacity="0.32" stroke-width="0.7"/>
<rect x="345.43" y="23.87" width="1.1" height="1.1" fill="#6a7078" fill-opacity="0.35"/>
<rect x="343.9" y="26.76" width="4.16" height="4.16" fill="#f6f0a4"/>
<path d="M345.13 27.99L346.83 29.69M346.83 27.99L345.13 29.69" stroke="#3e4518" stroke-opacity="0.48" stroke-width="0.7"/>
<rect x="343.9" y="31.19" width="4.16" height="4.16" fill="#f6f0a4"/>
<path d="M345.13 32.42L346.83 34.12M346.83 32.42L345.13 34.12" stroke="#3e4518" stroke-opacity="0.48" stroke-width="0.7"/>
<rect x="343.9" y="48.9" width="4.16" height="4.16" fill="#f3d77c"/>
<path d="M345.13 50.13L346.83 51.83M346.83 50.13L345.13 51.83" stroke="#3e4518" stroke-opacity="0.32" stroke-width="0.7"/>
<rect x="345.43" y="54.86" width="1.1" height="1.1" fill="#6a7078" fill-opacity="0.35"/>
<rect x="343.9" y="71.03" width="4.16" height="4.16" fill="#f6f0a4"/>
<path d="M345.13 72.26L346.83 73.96M346.83 72.26L345.13 73.96" stroke="#3e4518" stroke-opacity="0.48" stroke-width="0.7"/>
<rect x="345.43" y="76.99" width="1.1" height="1.1" fill="#6a7078" fill-opacity="0.35"/>
<rect x="343.9" y="97.59" width="4.16" height="4.16" fill="#f6f0a4"/>
<path d="M345.13 98.83L346.83 100.53M346.83 98.83L345.13 100.53" stroke="#3e4518" stroke-opacity="0.48" stroke-width="0.7"/>
<rect x="343.9" y="102.02" width="4.16" height="4.16" fill="#f6f0a4"/>
<path d="M345.13 103.25L346.83 104.95M346.83 103.25L345.13 104.95" stroke="#3e4518" stroke-opacity="0.48" stroke-width="0.7"/>
<rect x="343.9" y="106.45" width="4.16" height="4.16" fill="#f6f0a4"/>
<path d="M345.13 107.68L346.83 109.38M346.83 107.68L345.13 109.38" stroke="#3e4518" stroke-opacity="0.48" stroke-width="0.7"/>
<rect x="345.43" y="116.83" width="1.1" height="1.1" fill="#6a7078" fill-opacity="0.35"/>
<rect x="343.9" y="137.44" width="4.16" height="4.16" fill="#eab954"/>
<path d="M345.13 138.67L346.83 140.37M346.83 138.67L345.13 140.37" stroke="#3c3028" stroke-opacity="0.32" stroke-width="0.7"/>
<rect x="343.9" y="141.86" width="4.16" height="4.16" fill="#cb2629"/>
<path d="M345.13 143.09L346.83 144.79M346.83 143.09L345.13 144.79" stroke="#3c3028" stroke-opacity="0.32" stroke-width="0.7"/>
<rect x="343.9" y="150.72" width="4.16" height="4.16" fill="#f6f0a4"/>
<path d="M345.13 151.95L346.83 153.65M346.83 151.95L345.13 153.65" stroke="#3e4518" stroke-opacity="0.48" stroke-width="0.7"/>
<rect x="343.9" y="168.42" width="4.16" height="4.16" fill="#f6f0a4"/>
<path d="M345.13 169.66L346.83 171.36M346.83 169.66L345.13 171.36" stroke="#3e4518" stroke-opacity="0.48" stroke-width="0.7"/>
<rect x="343.9" y="172.85" width="4.16" height="4.16" fill="#f6f0a4"/>
<path d="M345.13 174.08L346.83 175.78M346.83 174.08L345.13 175.78" stroke="#3e4518" stroke-opacity="0.48" stroke-width="0.7"/>
<rect x="343.9" y="181.7" width="4.16" height="4.16" fill="#f6f0a4"/>
<path d="M345.13 182.94L346.83 184.64M346.83 182.94L345.13 184.64" stroke="#3e4518" stroke-opacity="0.48" stroke-width="0.7"/>
<rect x="348.33" y="137.44" width="4.16" height="4.16" fill="#e29a44"/>
<path d="M349.56 138.67L351.26 140.37M351.26 138.67L349.56 140.37" stroke="#3c3028" stroke-opacity="0.32" stroke-width="0.7"/>
<rect x="352.76" y="133.01" width="4.16" height="4.16" fill="#e29a44"/>
<path d="M353.99 134.24L355.69 135.94M355.69 134.24L353.99 135.94" stroke="#3c3028" stroke-opacity="0.32" stroke-width="0.7"/>
<rect x="357.19" y="128.58" width="4.16" height="4.16" fill="#f6f0a4"/>
<path d="M358.42 129.81L360.12 131.51M360.12 129.81L358.42 131.51" stroke="#3e4518" stroke-opacity="0.48" stroke-width="0.7"/>
<rect x="358.72" y="169.96" width="1.1" height="1.1" fill="#6a7078" fill-opacity="0.35"/>
<rect x="361.62" y="124.15" width="4.16" height="4.16" fill="#f3d77c"/>
<path d="M362.85 125.39L364.55 127.09M364.55 125.39L362.85 127.09" stroke="#3e4518" stroke-opacity="0.32" stroke-width="0.7"/>
<rect x="363.15" y="138.97" width="1.1" height="1.1" fill="#6a7078" fill-opacity="0.35"/>
<rect x="366.05" y="119.73" width="4.16" height="4.16" fill="#d9603a"/>
<path d="M367.28 120.96L368.98 122.66M368.98 120.96L367.28 122.66" stroke="#3c3028" stroke-opacity="0.32" stroke-width="0.7"/>
<rect x="367.58" y="156.67" width="1.1" height="1.1" fill="#6a7078" fill-opacity="0.35"/>
<rect x="372.01" y="32.72" width="1.1" height="1.1" fill="#6a7078" fill-opacity="0.35"/>
<rect x="370.48" y="115.3" width="4.16" height="4.16" fill="#e29a44"/>
<path d="M371.71 116.53L373.41 118.23M373.41 116.53L371.71 118.23" stroke="#3c3028" stroke-opacity="0.32" stroke-width="0.7"/>
<rect x="376.44" y="63.71" width="1.1" height="1.1" fill="#6a7078" fill-opacity="0.35"/>
<rect x="374.9" y="110.87" width="4.16" height="4.16" fill="#f6f0a4"/>
<path d="M376.14 112.11L377.84 113.81M377.84 112.11L376.14 113.81" stroke="#3e4518" stroke-opacity="0.48" stroke-width="0.7"/>
<rect x="379.33" y="106.45" width="4.16" height="4.16" fill="#f6f0a4"/>
<path d="M380.57 107.68L382.27 109.38M382.27 107.68L380.57 109.38" stroke="#3e4518" stroke-opacity="0.48" stroke-width="0.7"/>
<rect x="383.76" y="102.02" width="4.16" height="4.16" fill="#f6f0a4"/>
<path d="M385 103.25L386.7 104.95M386.7 103.25L385 104.95" stroke="#3e4518" stroke-opacity="0.48" stroke-width="0.7"/>
<rect x="388.19" y="26.76" width="4.16" height="4.16" fill="#f6f0a4"/>
<path d="M389.42 27.99L391.12 29.69M391.12 27.99L389.42 29.69" stroke="#3e4518" stroke-opacity="0.48" stroke-width="0.7"/>
<rect x="389.72" y="50.43" width="1.1" height="1.1" fill="#6a7078" fill-opacity="0.35"/>
<rect x="388.19" y="97.59" width="4.16" height="4.16" fill="#b5152a"/>
<path d="M389.42 98.83L391.12 100.53M391.12 98.83L389.42 100.53" stroke="#3c3028" stroke-opacity="0.32" stroke-width="0.7"/>
<rect x="388.19" y="141.86" width="4.16" height="4.16" fill="#f6f0a4"/>
<path d="M389.42 143.09L391.12 144.79M391.12 143.09L389.42 144.79" stroke="#3e4518" stroke-opacity="0.48" stroke-width="0.7"/>
<rect x="388.19" y="168.42" width="4.16" height="4.16" fill="#fbf8d6"/>
<path d="M389.42 169.66L391.12 171.36M391.12 169.66L389.42 171.36" stroke="#3e4518" stroke-opacity="0.48" stroke-width="0.7"/>
<rect x="392.62" y="93.17" width="4.16" height="4.16" fill="#f3d77c"/>
<path d="M393.85 94.4L395.55 96.1M395.55 94.4L393.85 96.1" stroke="#3e4518" stroke-opacity="0.32" stroke-width="0.7"/>
<rect x="397.05" y="88.74" width="4.16" height="4.16" fill="#d9603a"/>
<path d="M398.28 89.97L399.98 91.67M399.98 89.97L398.28 91.67" stroke="#3c3028" stroke-opacity="0.32" stroke-width="0.7"/>
<rect x="401.48" y="84.31" width="4.16" height="4.16" fill="#e29a44"/>
<path d="M402.71 85.54L404.41 87.24M404.41 85.54L402.71 87.24" stroke="#3c3028" stroke-opacity="0.32" stroke-width="0.7"/>
<rect x="405.91" y="79.89" width="4.16" height="4.16" fill="#d9603a"/>
<path d="M407.14 81.12L408.84 82.82M408.84 81.12L407.14 82.82" stroke="#3c3028" stroke-opacity="0.32" stroke-width="0.7"/>
<rect x="411.87" y="76.99" width="1.1" height="1.1" fill="#6a7078" fill-opacity="0.35"/>
<rect x="414.77" y="71.03" width="4.16" height="4.16" fill="#f6f0a4"/>
<path d="M416 72.26L417.7 73.96M417.7 72.26L416 73.96" stroke="#3e4518" stroke-opacity="0.48" stroke-width="0.7"/>
<rect x="416.3" y="138.97" width="1.1" height="1.1" fill="#6a7078" fill-opacity="0.35"/>
<rect x="416.3" y="143.39" width="1.1" height="1.1" fill="#6a7078" fill-opacity="0.35"/>
<rect x="416.3" y="178.81" width="1.1" height="1.1" fill="#6a7078" fill-opacity="0.35"/>
<rect x="419.2" y="66.6" width="4.16" height="4.16" fill="#d9603a"/>
<path d="M420.43 67.84L422.13 69.54M422.13 67.84L420.43 69.54" stroke="#3c3028" stroke-opacity="0.32" stroke-width="0.7"/>
<rect x="423.63" y="62.18" width="4.16" height="4.16" fill="#f6f0a4"/>
<path d="M424.86 63.41L426.56 65.11M426.56 63.41L424.86 65.11" stroke="#3e4518" stroke-opacity="0.48" stroke-width="0.7"/>
<rect x="429.59" y="59.28" width="1.1" height="1.1" fill="#6a7078" fill-opacity="0.35"/>
<rect x="432.49" y="53.32" width="4.16" height="4.16" fill="#f6f0a4"/>
<path d="M433.72 54.56L435.42 56.26M435.42 54.56L433.72 56.26" stroke="#3e4518" stroke-opacity="0.48" stroke-width="0.7"/>
<rect x="436.92" y="48.9" width="4.16" height="4.16" fill="#f6f0a4"/>
<path d="M438.15 50.13L439.85 51.83M439.85 50.13L438.15 51.83" stroke="#3e4518" stroke-opacity="0.48" stroke-width="0.7"/>
<rect x="441.35" y="44.47" width="4.16" height="4.16" fill="#f6f0a4"/>
<path d="M442.58 45.7L444.28 47.4M444.28 45.7L442.58 47.4" stroke="#3e4518" stroke-opacity="0.48" stroke-width="0.7"/>
<rect x="445.78" y="40.04" width="4.16" height="4.16" fill="#cb2629"/>
<path d="M447.01 41.27L448.71 42.98M448.71 41.27L447.01 42.98" stroke="#3c3028" stroke-opacity="0.32" stroke-width="0.7"/>
<rect x="450.21" y="35.62" width="4.16" height="4.16" fill="#d9603a"/>
<path d="M451.44 36.85L453.14 38.55M453.14 36.85L451.44 38.55" stroke="#3c3028" stroke-opacity="0.32" stroke-width="0.7"/>
<rect x="456.17" y="19.44" width="1.1" height="1.1" fill="#6a7078" fill-opacity="0.35"/>
<rect x="454.64" y="22.34" width="4.16" height="4.16" fill="#fbf8d6"/>
<path d="M455.87 23.57L457.57 25.27M457.57 23.57L455.87 25.27" stroke="#3e4518" stroke-opacity="0.48" stroke-width="0.7"/>
<rect x="454.64" y="31.19" width="4.16" height="4.16" fill="#e29a44"/>
<path d="M455.87 32.42L457.57 34.12M457.57 32.42L455.87 34.12" stroke="#3c3028" stroke-opacity="0.32" stroke-width="0.7"/>
<rect x="456.17" y="41.58" width="1.1" height="1.1" fill="#6a7078" fill-opacity="0.35"/>
<rect x="456.17" y="50.43" width="1.1" height="1.1" fill="#6a7078" fill-opacity="0.35"/>
<rect x="456.17" y="54.86" width="1.1" height="1.1" fill="#6a7078" fill-opacity="0.35"/>
<rect x="456.17" y="72.56" width="1.1" height="1.1" fill="#6a7078" fill-opacity="0.35"/>
<rect x="456.17" y="76.99" width="1.1" height="1.1" fill="#6a7078" fill-opacity="0.35"/>
<rect x="454.64" y="97.59" width="4.16" height="4.16" fill="#f6f0a4"/>
<path d="M455.87 98.83L457.57 100.53M457.57 98.83L455.87 100.53" stroke="#3e4518" stroke-opacity="0.48" stroke-width="0.7"/>
<rect x="456.17" y="103.55" width="1.1" height="1.1" fill="#6a7078" fill-opacity="0.35"/>
<rect x="456.17" y="112.41" width="1.1" height="1.1" fill="#6a7078" fill-opacity="0.35"/>
<rect x="456.17" y="116.83" width="1.1" height="1.1" fill="#6a7078" fill-opacity="0.35"/>
<rect x="456.17" y="138.97" width="1.1" height="1.1" fill="#6a7078" fill-opacity="0.35"/>
<rect x="454.64" y="141.86" width="4.16" height="4.16" fill="#f6f0a4"/>
<path d="M455.87 143.09L457.57 144.79M457.57 143.09L455.87 144.79" stroke="#3e4518" stroke-opacity="0.48" stroke-width="0.7"/>
<rect x="456.17" y="152.25" width="1.1" height="1.1" fill="#6a7078" fill-opacity="0.35"/>
<rect x="454.64" y="168.42" width="4.16" height="4.16" fill="#f6f0a4"/>
<path d="M455.87 169.66L457.57 171.36M457.57 169.66L455.87 171.36" stroke="#3e4518" stroke-opacity="0.48" stroke-width="0.7"/>
<rect x="456.17" y="178.81" width="1.1" height="1.1" fill="#6a7078" fill-opacity="0.35"/>
<rect x="456.17" y="183.24" width="1.1" height="1.1" fill="#6a7078" fill-opacity="0.35"/>
<rect x="459.06" y="26.76" width="4.16" height="4.16" fill="#e29a44"/>
<path d="M460.3 27.99L462 29.69M462 27.99L460.3 29.69" stroke="#3c3028" stroke-opacity="0.32" stroke-width="0.7"/>
<rect x="459.06" y="44.47" width="4.16" height="4.16" fill="#fbf8d6"/>
<path d="M460.3 45.7L462 47.4M462 45.7L460.3 47.4" stroke="#3e4518" stroke-opacity="0.48" stroke-width="0.7"/>
<rect x="459.06" y="57.75" width="4.16" height="4.16" fill="#f6f0a4"/>
<path d="M460.3 58.98L462 60.68M462 58.98L460.3 60.68" stroke="#3e4518" stroke-opacity="0.48" stroke-width="0.7"/>
<rect x="459.06" y="97.59" width="4.16" height="4.16" fill="#f6f0a4"/>
<path d="M460.3 98.83L462 100.53M462 98.83L460.3 100.53" stroke="#3e4518" stroke-opacity="0.48" stroke-width="0.7"/>
<rect x="459.06" y="141.86" width="4.16" height="4.16" fill="#f6f0a4"/>
<path d="M460.3 143.09L462 144.79M462 143.09L460.3 144.79" stroke="#3e4518" stroke-opacity="0.48" stroke-width="0.7"/>
<rect x="459.06" y="168.42" width="4.16" height="4.16" fill="#f6f0a4"/>
<path d="M460.3 169.66L462 171.36M462 169.66L460.3 171.36" stroke="#3e4518" stroke-opacity="0.48" stroke-width="0.7"/>
<rect x="463.49" y="17.91" width="4.16" height="4.16" fill="#eab954"/>
<path d="M464.73 19.14L466.43 20.84M466.43 19.14L464.73 20.84" stroke="#3c3028" stroke-opacity="0.32" stroke-width="0.7"/>
<rect x="463.49" y="22.34" width="4.16" height="4.16" fill="#d9603a"/>
<path d="M464.73 23.57L466.43 25.27M466.43 23.57L464.73 25.27" stroke="#3c3028" stroke-opacity="0.32" stroke-width="0.7"/>
<rect x="463.49" y="168.42" width="4.16" height="4.16" fill="#f6f0a4"/>
<path d="M464.73 169.66L466.43 171.36M466.43 169.66L464.73 171.36" stroke="#3e4518" stroke-opacity="0.48" stroke-width="0.7"/>
<rect x="467.92" y="17.91" width="4.16" height="4.16" fill="#e29a44"/>
<path d="M469.16 19.14L470.86 20.84M470.86 19.14L469.16 20.84" stroke="#3c3028" stroke-opacity="0.32" stroke-width="0.7"/>
<rect x="467.92" y="22.34" width="4.16" height="4.16" fill="#f6f0a4"/>
<path d="M469.16 23.57L470.86 25.27M470.86 23.57L469.16 25.27" stroke="#3e4518" stroke-opacity="0.48" stroke-width="0.7"/>
<rect x="467.92" y="168.42" width="4.16" height="4.16" fill="#f6f0a4"/>
<path d="M469.16 169.66L470.86 171.36M470.86 169.66L469.16 171.36" stroke="#3e4518" stroke-opacity="0.48" stroke-width="0.7"/>
<rect x="473.89" y="19.44" width="1.1" height="1.1" fill="#6a7078" fill-opacity="0.35"/>
<rect x="473.89" y="23.87" width="1.1" height="1.1" fill="#6a7078" fill-opacity="0.35"/>
<rect x="473.89" y="28.29" width="1.1" height="1.1" fill="#6a7078" fill-opacity="0.35"/>
<rect x="472.35" y="31.19" width="4.16" height="4.16" fill="#e29a44"/>
<path d="M473.59 32.42L475.29 34.12M475.29 32.42L473.59 34.12" stroke="#3c3028" stroke-opacity="0.32" stroke-width="0.7"/>
<rect x="473.89" y="50.43" width="1.1" height="1.1" fill="#6a7078" fill-opacity="0.35"/>
<rect x="473.89" y="54.86" width="1.1" height="1.1" fill="#6a7078" fill-opacity="0.35"/>
<rect x="473.89" y="72.56" width="1.1" height="1.1" fill="#6a7078" fill-opacity="0.35"/>
<rect x="472.35" y="97.59" width="4.16" height="4.16" fill="#f6f0a4"/>
<path d="M473.59 98.83L475.29 100.53M475.29 98.83L473.59 100.53" stroke="#3e4518" stroke-opacity="0.48" stroke-width="0.7"/>
<rect x="473.89" y="103.55" width="1.1" height="1.1" fill="#6a7078" fill-opacity="0.35"/>
<rect x="473.89" y="112.41" width="1.1" height="1.1" fill="#6a7078" fill-opacity="0.35"/>
<rect x="473.89" y="138.97" width="1.1" height="1.1" fill="#6a7078" fill-opacity="0.35"/>
<rect x="472.35" y="141.86" width="4.16" height="4.16" fill="#eab954"/>
<path d="M473.59 143.09L475.29 144.79M475.29 143.09L473.59 144.79" stroke="#3c3028" stroke-opacity="0.32" stroke-width="0.7"/>
<rect x="473.89" y="152.25" width="1.1" height="1.1" fill="#6a7078" fill-opacity="0.35"/>
<rect x="472.35" y="168.42" width="4.16" height="4.16" fill="#f6f0a4"/>
<path d="M473.59 169.66L475.29 171.36M475.29 169.66L473.59 171.36" stroke="#3e4518" stroke-opacity="0.48" stroke-width="0.7"/>
<rect x="473.89" y="183.24" width="1.1" height="1.1" fill="#6a7078" fill-opacity="0.35"/>
<rect x="303.6" y="13.3" width="173.3" height="173.1" fill="none" stroke="#a9a9a9" stroke-width="1.2"/>
<path d="M303.6 15.56h-1.2M306.11 186.4v1.2M303.6 19.99h-1.2M310.54 186.4v1.2M303.6 24.42h-1.2M314.97 186.4v1.2M303.6 28.84h-1.2M319.4 186.4v1.2M303.6 33.27h-1.2M323.83 186.4v1.2M303.6 37.7h-1.2M328.26 186.4v1.2M303.6 42.12h-1.2M332.69 186.4v1.2M303.6 46.55h-1.2M337.12 186.4v1.2M303.6 50.98h-1.2M341.55 186.4v1.2M303.6 55.41h-1.2M345.98 186.4v1.2M303.6 59.83h-1.2M350.41 186.4v1.2M303.6 64.26h-1.2M354.84 186.4v1.2M303.6 68.69h-1.2M359.27 186.4v1.2M303.6 73.11h-1.2M363.7 186.4v1.2M303.6 77.54h-1.2M368.13 186.4v1.2M303.6 81.97h-1.2M372.56 186.4v1.2M303.6 86.39h-1.2M376.99 186.4v1.2M303.6 90.82h-1.2M381.42 186.4v1.2M303.6 95.25h-1.2M385.85 186.4v1.2M303.6 99.68h-1.2M390.27 186.4v1.2M303.6 104.1h-1.2M394.7 186.4v1.2M303.6 108.53h-1.2M399.13 186.4v1.2M303.6 112.96h-1.2M403.56 186.4v1.2M303.6 117.38h-1.2M407.99 186.4v1.2M303.6 121.81h-1.2M412.42 186.4v1.2M303.6 126.24h-1.2M416.85 186.4v1.2M303.6 130.66h-1.2M421.28 186.4v1.2M303.6 135.09h-1.2M425.71 186.4v1.2M303.6 139.52h-1.2M430.14 186.4v1.2M303.6 143.94h-1.2M434.57 186.4v1.2M303.6 148.37h-1.2M439 186.4v1.2M303.6 152.8h-1.2M443.43 186.4v1.2M303.6 157.22h-1.2M447.86 186.4v1.2M303.6 161.65h-1.2M452.29 186.4v1.2M303.6 166.08h-1.2M456.72 186.4v1.2M303.6 170.51h-1.2M461.15 186.4v1.2M303.6 174.93h-1.2M465.58 186.4v1.2M303.6 179.36h-1.2M470.01 186.4v1.2M303.6 183.79h-1.2M474.44 186.4v1.2" stroke="#777" stroke-width="0.5" fill="none"/>
<g class="tl" font-size="2.85" text-anchor="end"><text transform="translate(302 16.56) rotate(0.1)">WikiGene</text><text transform="translate(302 20.99) rotate(0.1)">Uniprot Swiss-prot</text><text transform="translate(302 25.41) rotate(0.1)">Uniprot TrEMBL</text><text transform="translate(302 29.84) rotate(0.1)">Uniprot isoform</text><text transform="translate(302 34.27) rotate(0.1)">Uniprot gene</text><text transform="translate(302 38.7) rotate(0.1)">Uniprot archive</text><text transform="translate(302 43.12) rotate(0.1)">UCSC</text><text transform="translate(302 47.55) rotate(0.1)">TIGRFAMs</text><text transform="translate(302 51.98) rotate(0.1)">SUPERFAMILY</text><text transform="translate(302 56.4) rotate(0.1)">SMART</text><text transform="translate(302 60.83) rotate(0.1)">SFLD</text><text transform="translate(302 65.26) rotate(0.1)">RoseProtein</text><text transform="translate(302 69.68) rotate(0.1)">RNAcentral</text><text transform="translate(302 74.11) rotate(0.1)">RNA transcript</text><text transform="translate(302 78.54) rotate(0.1)">Rfam</text><text transform="translate(302 82.96) rotate(0.1)">Refseq peptide</text><text transform="translate(302 87.39) rotate(0.1)">Refseq mrna</text><text transform="translate(302 91.82) rotate(0.1)">Refseq ncrna</text><text transform="translate(302 96.25) rotate(0.1)">Reactome</text><text transform="translate(302 100.67) rotate(0.1)">PANDC</text><text transform="translate(302 105.1) rotate(0.1)">PROSITE</text><text transform="translate(302 109.53) rotate(0.1)">PRINTS</text><text transform="translate(302 113.95) rotate(0.1)">pfScan</text><text transform="translate(302 118.38) rotate(0.1)">Pfam</text><text transform="translate(302 122.81) rotate(0.1)">PDB</text><text transform="translate(302 127.23) rotate(0.1)">miRBase</text><text transform="translate(302 131.66) rotate(0.1)">Merops</text><text transform="translate(302 136.09) rotate(0.1)">Interpro</text><text transform="translate(302 140.51) rotate(0.1)">PANTHER</text><text transform="translate(302 144.94) rotate(0.1)">HGNC Transcript</text><text transform="translate(302 149.37) rotate(0.1)">HGNC</text><text transform="translate(302 153.8) rotate(0.1)">HAMAP</text><text transform="translate(302 158.22) rotate(0.1)">Entrez Gene</text><text transform="translate(302 162.65) rotate(0.1)">Ensembl gene</text><text transform="translate(302 167.08) rotate(0.1)">Ensembl exon</text><text transform="translate(302 171.5) rotate(0.1)">EMBL</text><text transform="translate(302 175.93) rotate(0.1)">ChEMBL</text><text transform="translate(302 180.36) rotate(0.1)">CDD</text><text transform="translate(302 184.78) rotate(0.1)">CCDS</text></g>
<g class="tl" font-size="2.85" text-anchor="end"><text transform="translate(307.51 189.3) rotate(-46)">CCDS</text><text transform="translate(311.94 189.3) rotate(-46)">CDD</text><text transform="translate(316.37 189.3) rotate(-46)">ChEMBL</text><text transform="translate(320.8 189.3) rotate(-46)">EMBL</text><text transform="translate(325.23 189.3) rotate(-46)">Ensembl exon</text><text transform="translate(329.66 189.3) rotate(-46)">Ensembl gene</text><text transform="translate(334.09 189.3) rotate(-46)">Entrez Gene</text><text transform="translate(338.52 189.3) rotate(-46)">HAMAP</text><text transform="translate(342.95 189.3) rotate(-46)">HGNC</text><text transform="translate(347.38 189.3) rotate(-46)">HGNC Transcript</text><text transform="translate(351.81 189.3) rotate(-46)">PANTHER</text><text transform="translate(356.24 189.3) rotate(-46)">Interpro</text><text transform="translate(360.67 189.3) rotate(-46)">Merops</text><text transform="translate(365.1 189.3) rotate(-46)">miRBase</text><text transform="translate(369.53 189.3) rotate(-46)">PDB</text><text transform="translate(373.96 189.3) rotate(-46)">Pfam</text><text transform="translate(378.39 189.3) rotate(-46)">pfScan</text><text transform="translate(382.82 189.3) rotate(-46)">PRINTS</text><text transform="translate(387.25 189.3) rotate(-46)">PROSITE</text><text transform="translate(391.67 189.3) rotate(-46)">PANDC</text><text transform="translate(396.1 189.3) rotate(-46)">Reactome</text><text transform="translate(400.53 189.3) rotate(-46)">Refseq ncrna</text><text transform="translate(404.96 189.3) rotate(-46)">Refseq mrna</text><text transform="translate(409.39 189.3) rotate(-46)">Refseq peptide</text><text transform="translate(413.82 189.3) rotate(-46)">Rfam</text><text transform="translate(418.25 189.3) rotate(-46)">RNA transcript</text><text transform="translate(422.68 189.3) rotate(-46)">RNAcentral</text><text transform="translate(427.11 189.3) rotate(-46)">RoseProtein</text><text transform="translate(431.54 189.3) rotate(-46)">SFLD</text><text transform="translate(435.97 189.3) rotate(-46)">SMART</text><text transform="translate(440.4 189.3) rotate(-46)">SUPERFAMILY</text><text transform="translate(444.83 189.3) rotate(-46)">TIGRFAMs</text><text transform="translate(449.26 189.3) rotate(-46)">UCSC</text><text transform="translate(453.69 189.3) rotate(-46)">Uniprot archive</text><text transform="translate(458.12 189.3) rotate(-46)">Uniprot gene</text><text transform="translate(462.55 189.3) rotate(-46)">Uniprot isoform</text><text transform="translate(466.98 189.3) rotate(-46)">Uniprot TrEMBL</text><text transform="translate(471.41 189.3) rotate(-46)">Uniprot Swiss-prot</text><text transform="translate(475.84 189.3) rotate(-46)">WikiGene</text></g>
<rect x="42.07" y="247.11" width="1.1" height="1.1" fill="#6a7078" fill-opacity="0.35"/>
<rect x="42.07" y="255.99" width="1.1" height="1.1" fill="#6a7078" fill-opacity="0.35"/>
<rect x="40.53" y="405.49" width="4.18" height="4.18" fill="#e29a44"/>
<path d="M41.77 406.73L43.47 408.43M43.47 406.73L41.77 408.43" stroke="#3c3028" stroke-opacity="0.32" stroke-width="0.7"/>
<rect x="44.98" y="401.05" width="4.18" height="4.18" fill="#eab954"/>
<path d="M46.22 402.29L47.92 403.99M47.92 402.29L46.22 403.99" stroke="#3c3028" stroke-opacity="0.32" stroke-width="0.7"/>
<rect x="49.43" y="396.6" width="4.18" height="4.18" fill="#eab954"/>
<path d="M50.67 397.84L52.37 399.54M52.37 397.84L50.67 399.54" stroke="#3c3028" stroke-opacity="0.32" stroke-width="0.7"/>
<rect x="53.87" y="392.16" width="4.18" height="4.18" fill="#cb2629"/>
<path d="M55.11 393.4L56.81 395.1M56.81 393.4L55.11 395.1" stroke="#3c3028" stroke-opacity="0.32" stroke-width="0.7"/>
<rect x="58.32" y="387.72" width="4.18" height="4.18" fill="#8f1228"/>
<path d="M59.56 388.96L61.26 390.66M61.26 388.96L59.56 390.66" stroke="#3c3028" stroke-opacity="0.32" stroke-width="0.7"/>
<rect x="62.76" y="383.28" width="4.18" height="4.18" fill="#d9603a"/>
<path d="M64 384.52L65.7 386.22M65.7 384.52L64 386.22" stroke="#3c3028" stroke-opacity="0.32" stroke-width="0.7"/>
<rect x="67.21" y="378.84" width="4.18" height="4.18" fill="#e29a44"/>
<path d="M68.45 380.07L70.15 381.78M70.15 380.07L68.45 381.78" stroke="#3c3028" stroke-opacity="0.32" stroke-width="0.7"/>
<rect x="71.66" y="321.09" width="4.18" height="4.18" fill="#f6f0a4"/>
<path d="M72.9 322.32L74.6 324.03M74.6 322.32L72.9 324.03" stroke="#3e4518" stroke-opacity="0.48" stroke-width="0.7"/>
<rect x="73.2" y="375.93" width="1.1" height="1.1" fill="#6a7078" fill-opacity="0.35"/>
<rect x="77.64" y="247.11" width="1.1" height="1.1" fill="#6a7078" fill-opacity="0.35"/>
<rect x="76.1" y="369.95" width="4.18" height="4.18" fill="#d9603a"/>
<path d="M77.34 371.19L79.04 372.89M79.04 371.19L77.34 372.89" stroke="#3c3028" stroke-opacity="0.32" stroke-width="0.7"/>
<rect x="80.55" y="245.57" width="4.18" height="4.18" fill="#fbf8d6"/>
<path d="M81.79 246.81L83.49 248.51M83.49 246.81L81.79 248.51" stroke="#3e4518" stroke-opacity="0.48" stroke-width="0.7"/>
<rect x="82.09" y="322.62" width="1.1" height="1.1" fill="#6a7078" fill-opacity="0.35"/>
<rect x="82.09" y="367.05" width="1.1" height="1.1" fill="#6a7078" fill-opacity="0.35"/>
<rect x="84.99" y="361.07" width="4.18" height="4.18" fill="#d9603a"/>
<path d="M86.23 362.31L87.93 364.01M87.93 362.31L86.23 364.01" stroke="#3c3028" stroke-opacity="0.32" stroke-width="0.7"/>
<rect x="89.44" y="356.62" width="4.18" height="4.18" fill="#e29a44"/>
<path d="M90.68 357.86L92.38 359.56M92.38 357.86L90.68 359.56" stroke="#3c3028" stroke-opacity="0.32" stroke-width="0.7"/>
<rect x="93.89" y="352.18" width="4.18" height="4.18" fill="#fbf8d6"/>
<path d="M95.13 353.42L96.83 355.12M96.83 353.42L95.13 355.12" stroke="#3e4518" stroke-opacity="0.48" stroke-width="0.7"/>
<rect x="98.33" y="347.74" width="4.18" height="4.18" fill="#f6f0a4"/>
<path d="M99.57 348.98L101.27 350.68M101.27 348.98L99.57 350.68" stroke="#3e4518" stroke-opacity="0.48" stroke-width="0.7"/>
<rect x="102.78" y="343.3" width="4.18" height="4.18" fill="#d9603a"/>
<path d="M104.02 344.54L105.72 346.24M105.72 344.54L104.02 346.24" stroke="#3c3028" stroke-opacity="0.32" stroke-width="0.7"/>
<rect x="107.23" y="338.85" width="4.18" height="4.18" fill="#e29a44"/>
<path d="M108.47 340.09L110.17 341.79M110.17 340.09L108.47 341.79" stroke="#3c3028" stroke-opacity="0.32" stroke-width="0.7"/>
<rect x="107.23" y="392.16" width="4.18" height="4.18" fill="#f6f0a4"/>
<path d="M108.47 393.4L110.17 395.1M110.17 393.4L108.47 395.1" stroke="#3e4518" stroke-opacity="0.48" stroke-width="0.7"/>
<rect x="111.67" y="392.16" width="4.18" height="4.18" fill="#f6f0a4"/>
<path d="M112.91 393.4L114.61 395.1M114.61 393.4L112.91 395.1" stroke="#3e4518" stroke-opacity="0.48" stroke-width="0.7"/>
<rect x="116.12" y="329.97" width="4.18" height="4.18" fill="#f6f0a4"/>
<path d="M117.36 331.21L119.06 332.91M119.06 331.21L117.36 332.91" stroke="#3e4518" stroke-opacity="0.48" stroke-width="0.7"/>
<rect x="120.56" y="392.16" width="4.18" height="4.18" fill="#f6f0a4"/>
<path d="M121.8 393.4L123.5 395.1M123.5 393.4L121.8 395.1" stroke="#3e4518" stroke-opacity="0.48" stroke-width="0.7"/>
<rect x="125.01" y="321.09" width="4.18" height="4.18" fill="#8f1228"/>
<path d="M126.25 322.32L127.95 324.03M127.95 322.32L126.25 324.03" stroke="#3c3028" stroke-opacity="0.32" stroke-width="0.7"/>
<rect x="125.01" y="392.16" width="4.18" height="4.18" fill="#fbf8d6"/>
<path d="M126.25 393.4L127.95 395.1M127.95 393.4L126.25 395.1" stroke="#3e4518" stroke-opacity="0.48" stroke-width="0.7"/>
<rect x="129.46" y="316.64" width="4.18" height="4.18" fill="#eab954"/>
<path d="M130.7 317.88L132.4 319.58M132.4 317.88L130.7 319.58" stroke="#3c3028" stroke-opacity="0.32" stroke-width="0.7"/>
<rect x="133.9" y="312.2" width="4.18" height="4.18" fill="#d9603a"/>
<path d="M135.14 313.44L136.84 315.14M136.84 313.44L135.14 315.14" stroke="#3c3028" stroke-opacity="0.32" stroke-width="0.7"/>
<rect x="139.89" y="304.86" width="1.1" height="1.1" fill="#6a7078" fill-opacity="0.35"/>
<rect x="138.35" y="307.76" width="4.18" height="4.18" fill="#e29a44"/>
<path d="M139.59 309L141.29 310.7M141.29 309L139.59 310.7" stroke="#3c3028" stroke-opacity="0.32" stroke-width="0.7"/>
<rect x="138.35" y="321.09" width="4.18" height="4.18" fill="#f6f0a4"/>
<path d="M139.59 322.32L141.29 324.03M141.29 322.32L139.59 324.03" stroke="#3e4518" stroke-opacity="0.48" stroke-width="0.7"/>
<rect x="142.79" y="303.32" width="4.18" height="4.18" fill="#d9603a"/>
<path d="M144.03 304.56L145.73 306.26M145.73 304.56L144.03 306.26" stroke="#3c3028" stroke-opacity="0.32" stroke-width="0.7"/>
<rect x="148.78" y="393.7" width="1.1" height="1.1" fill="#6a7078" fill-opacity="0.35"/>
<rect x="151.69" y="294.43" width="4.18" height="4.18" fill="#f6f0a4"/>
<path d="M152.93 295.67L154.63 297.37M154.63 295.67L152.93 297.37" stroke="#3e4518" stroke-opacity="0.48" stroke-width="0.7"/>
<rect x="153.23" y="322.62" width="1.1" height="1.1" fill="#6a7078" fill-opacity="0.35"/>
<rect x="153.23" y="367.05" width="1.1" height="1.1" fill="#6a7078" fill-opacity="0.35"/>
<rect x="156.13" y="289.99" width="4.18" height="4.18" fill="#d9603a"/>
<path d="M157.37 291.23L159.07 292.93M159.07 291.23L157.37 292.93" stroke="#3c3028" stroke-opacity="0.32" stroke-width="0.7"/>
<rect x="160.58" y="392.16" width="4.18" height="4.18" fill="#f6f0a4"/>
<path d="M161.82 393.4L163.52 395.1M163.52 393.4L161.82 395.1" stroke="#3e4518" stroke-opacity="0.48" stroke-width="0.7"/>
<rect x="166.57" y="282.64" width="1.1" height="1.1" fill="#6a7078" fill-opacity="0.35"/>
<rect x="169.47" y="392.16" width="4.18" height="4.18" fill="#f6f0a4"/>
<path d="M170.71 393.4L172.41 395.1M172.41 393.4L170.71 395.1" stroke="#3e4518" stroke-opacity="0.48" stroke-width="0.7"/>
<rect x="173.92" y="321.09" width="4.18" height="4.18" fill="#f6f0a4"/>
<path d="M175.16 322.32L176.86 324.03M176.86 322.32L175.16 324.03" stroke="#3e4518" stroke-opacity="0.48" stroke-width="0.7"/>
<rect x="178.36" y="267.78" width="4.18" height="4.18" fill="#f6f0a4"/>
<path d="M179.6 269.02L181.3 270.72M181.3 269.02L179.6 270.72" stroke="#3e4518" stroke-opacity="0.48" stroke-width="0.7"/>
<rect x="182.81" y="263.34" width="4.18" height="4.18" fill="#cb2629"/>
<path d="M184.05 264.57L185.75 266.28M185.75 264.57L184.05 266.28" stroke="#3c3028" stroke-opacity="0.32" stroke-width="0.7"/>
<rect x="187.26" y="258.89" width="4.18" height="4.18" fill="#d9603a"/>
<path d="M188.5 260.13L190.2 261.83M190.2 260.13L188.5 261.83" stroke="#3c3028" stroke-opacity="0.32" stroke-width="0.7"/>
<rect x="191.7" y="236.68" width="4.18" height="4.18" fill="#f6f0a4"/>
<path d="M192.94 237.92L194.64 239.62M194.64 237.92L192.94 239.62" stroke="#3e4518" stroke-opacity="0.48" stroke-width="0.7"/>
<rect x="191.7" y="245.57" width="4.18" height="4.18" fill="#f6f0a4"/>
<path d="M192.94 246.81L194.64 248.51M194.64 246.81L192.94 248.51" stroke="#3e4518" stroke-opacity="0.48" stroke-width="0.7"/>
<rect x="191.7" y="254.45" width="4.18" height="4.18" fill="#e29a44"/>
<path d="M192.94 255.69L194.64 257.39M194.64 255.69L192.94 257.39" stroke="#3c3028" stroke-opacity="0.32" stroke-width="0.7"/>
<rect x="191.7" y="321.09" width="4.18" height="4.18" fill="#eab954"/>
<path d="M192.94 322.32L194.64 324.03M194.64 322.32L192.94 324.03" stroke="#3c3028" stroke-opacity="0.32" stroke-width="0.7"/>
<rect x="191.7" y="343.3" width="4.18" height="4.18" fill="#f6f0a4"/>
<path d="M192.94 344.54L194.64 346.24M194.64 344.54L192.94 346.24" stroke="#3e4518" stroke-opacity="0.48" stroke-width="0.7"/>
<rect x="191.7" y="365.51" width="4.18" height="4.18" fill="#f6f0a4"/>
<path d="M192.94 366.75L194.64 368.45M194.64 366.75L192.94 368.45" stroke="#3e4518" stroke-opacity="0.48" stroke-width="0.7"/>
<rect x="191.7" y="392.16" width="4.18" height="4.18" fill="#f6f0a4"/>
<path d="M192.94 393.4L194.64 395.1M194.64 393.4L192.94 395.1" stroke="#3e4518" stroke-opacity="0.48" stroke-width="0.7"/>
<rect x="196.15" y="250.01" width="4.18" height="4.18" fill="#e29a44"/>
<path d="M197.39 251.25L199.09 252.95M199.09 251.25L197.39 252.95" stroke="#3c3028" stroke-opacity="0.32" stroke-width="0.7"/>
<rect x="197.69" y="322.62" width="1.1" height="1.1" fill="#6a7078" fill-opacity="0.35"/>
<rect x="202.13" y="242.66" width="1.1" height="1.1" fill="#6a7078" fill-opacity="0.35"/>
<rect x="200.59" y="245.57" width="4.18" height="4.18" fill="#d9603a"/>
<path d="M201.83 246.81L203.53 248.51M203.53 246.81L201.83 248.51" stroke="#3c3028" stroke-opacity="0.32" stroke-width="0.7"/>
<rect x="202.13" y="322.62" width="1.1" height="1.1" fill="#6a7078" fill-opacity="0.35"/>
<rect x="202.13" y="393.7" width="1.1" height="1.1" fill="#6a7078" fill-opacity="0.35"/>
<rect x="205.04" y="241.12" width="4.18" height="4.18" fill="#eab954"/>
<path d="M206.28 242.36L207.98 244.06M207.98 242.36L206.28 244.06" stroke="#3c3028" stroke-opacity="0.32" stroke-width="0.7"/>
<rect x="205.04" y="245.57" width="4.18" height="4.18" fill="#eab954"/>
<path d="M206.28 246.81L207.98 248.51M207.98 246.81L206.28 248.51" stroke="#3c3028" stroke-opacity="0.32" stroke-width="0.7"/>
<rect x="205.04" y="321.09" width="4.18" height="4.18" fill="#f6f0a4"/>
<path d="M206.28 322.32L207.98 324.03M207.98 322.32L206.28 324.03" stroke="#3e4518" stroke-opacity="0.48" stroke-width="0.7"/>
<rect x="205.04" y="392.16" width="4.18" height="4.18" fill="#eab954"/>
<path d="M206.28 393.4L207.98 395.1M207.98 393.4L206.28 395.1" stroke="#3c3028" stroke-opacity="0.32" stroke-width="0.7"/>
<rect x="209.49" y="236.68" width="4.18" height="4.18" fill="#eab954"/>
<path d="M210.73 237.92L212.43 239.62M212.43 237.92L210.73 239.62" stroke="#3c3028" stroke-opacity="0.32" stroke-width="0.7"/>
<rect x="209.49" y="245.57" width="4.18" height="4.18" fill="#f6f0a4"/>
<path d="M210.73 246.81L212.43 248.51M212.43 246.81L210.73 248.51" stroke="#3e4518" stroke-opacity="0.48" stroke-width="0.7"/>
<rect x="209.49" y="254.45" width="4.18" height="4.18" fill="#eab954"/>
<path d="M210.73 255.69L212.43 257.39M212.43 255.69L210.73 257.39" stroke="#3c3028" stroke-opacity="0.32" stroke-width="0.7"/>
<rect x="209.49" y="321.09" width="4.18" height="4.18" fill="#eab954"/>
<path d="M210.73 322.32L212.43 324.03M212.43 322.32L210.73 324.03" stroke="#3c3028" stroke-opacity="0.32" stroke-width="0.7"/>
<rect x="209.49" y="343.3" width="4.18" height="4.18" fill="#f6f0a4"/>
<path d="M210.73 344.54L212.43 346.24M212.43 344.54L210.73 346.24" stroke="#3e4518" stroke-opacity="0.48" stroke-width="0.7"/>
<rect x="209.49" y="365.51" width="4.18" height="4.18" fill="#f6f0a4"/>
<path d="M210.73 366.75L212.43 368.45M212.43 366.75L210.73 368.45" stroke="#3e4518" stroke-opacity="0.48" stroke-width="0.7"/>
<rect x="211.03" y="393.7" width="1.1" height="1.1" fill="#6a7078" fill-opacity="0.35"/>
<rect x="40.1" y="236.5" width="173.95" height="173.7" fill="none" stroke="#a9a9a9" stroke-width="1.2"/>
<path d="M40.1 238.77h-1.2M42.62 410.2v1.2M40.1 243.21h-1.2M47.07 410.2v1.2M40.1 247.66h-1.2M51.52 410.2v1.2M40.1 252.1h-1.2M55.96 410.2v1.2M40.1 256.54h-1.2M60.41 410.2v1.2M40.1 260.98h-1.2M64.85 410.2v1.2M40.1 265.43h-1.2M69.3 410.2v1.2M40.1 269.87h-1.2M73.75 410.2v1.2M40.1 274.31h-1.2M78.19 410.2v1.2M40.1 278.75h-1.2M82.64 410.2v1.2M40.1 283.19h-1.2M87.08 410.2v1.2M40.1 287.64h-1.2M91.53 410.2v1.2M40.1 292.08h-1.2M95.98 410.2v1.2M40.1 296.52h-1.2M100.42 410.2v1.2M40.1 300.96h-1.2M104.87 410.2v1.2M40.1 305.41h-1.2M109.32 410.2v1.2M40.1 309.85h-1.2M113.76 410.2v1.2M40.1 314.29h-1.2M118.21 410.2v1.2M40.1 318.73h-1.2M122.65 410.2v1.2M40.1 323.18h-1.2M127.1 410.2v1.2M40.1 327.62h-1.2M131.55 410.2v1.2M40.1 332.06h-1.2M135.99 410.2v1.2M40.1 336.5h-1.2M140.44 410.2v1.2M40.1 340.94h-1.2M144.88 410.2v1.2M40.1 345.39h-1.2M149.33 410.2v1.2M40.1 349.83h-1.2M153.78 410.2v1.2M40.1 354.27h-1.2M158.22 410.2v1.2M40.1 358.71h-1.2M162.67 410.2v1.2M40.1 363.16h-1.2M167.12 410.2v1.2M40.1 367.6h-1.2M171.56 410.2v1.2M40.1 372.04h-1.2M176.01 410.2v1.2M40.1 376.48h-1.2M180.45 410.2v1.2M40.1 380.93h-1.2M184.9 410.2v1.2M40.1 385.37h-1.2M189.35 410.2v1.2M40.1 389.81h-1.2M193.79 410.2v1.2M40.1 394.25h-1.2M198.24 410.2v1.2M40.1 398.69h-1.2M202.68 410.2v1.2M40.1 403.14h-1.2M207.13 410.2v1.2M40.1 407.58h-1.2M211.58 410.2v1.2" stroke="#777" stroke-width="0.5" fill="none"/>
<g class="tl" font-size="2.85" text-anchor="end"><text transform="translate(38.5 239.77) rotate(0.1)">WikiGene</text><text transform="translate(38.5 244.21) rotate(0.1)">Uniprot Swiss-prot</text><text transform="translate(38.5 248.65) rotate(0.1)">Uniprot TrEMBL</text><text transform="translate(38.5 253.1) rotate(0.1)">Uniprot isoform</text><text transform="translate(38.5 257.54) rotate(0.1)">Uniprot gene</text><text transform="translate(38.5 261.98) rotate(0.1)">Uniprot archive</text><text transform="translate(38.5 266.42) rotate(0.1)">UCSC</text><text transform="translate(38.5 270.86) rotate(0.1)">TIGRFAMs</text><text transform="translate(38.5 275.31) rotate(0.1)">SUPERFAMILY</text><text transform="translate(38.5 279.75) rotate(0.1)">SMART</text><text transform="translate(38.5 284.19) rotate(0.1)">SFLD</text><text transform="translate(38.5 288.63) rotate(0.1)">RoseProtein</text><text transform="translate(38.5 293.08) rotate(0.1)">RNAcentral</text><text transform="translate(38.5 297.52) rotate(0.1)">RNA transcript</text><text transform="translate(38.5 301.96) rotate(0.1)">Rfam</text><text transform="translate(38.5 306.4) rotate(0.1)">Refseq peptide</text><text transform="translate(38.5 310.85) rotate(0.1)">Refseq mrna</text><text transform="translate(38.5 315.29) rotate(0.1)">Refseq ncrna</text><text transform="translate(38.5 319.73) rotate(0.1)">Reactome</text><text transform="translate(38.5 324.17) rotate(0.1)">PANDC</text><text transform="translate(38.5 328.61) rotate(0.1)">PROSITE</text><text transform="translate(38.5 333.06) rotate(0.1)">PRINTS</text><text transform="translate(38.5 337.5) rotate(0.1)">pfScan</text><text transform="translate(38.5 341.94) rotate(0.1)">Pfam</text><text transform="translate(38.5 346.38) rotate(0.1)">PDB</text><text transform="translate(38.5 350.83) rotate(0.1)">miRBase</text><text transform="translate(38.5 355.27) rotate(0.1)">Merops</text><text transform="translate(38.5 359.71) rotate(0.1)">Interpro</text><text transform="translate(38.5 364.15) rotate(0.1)">PANTHER</text><text transform="translate(38.5 368.6) rotate(0.1)">HGNC Transcript</text><text transform="translate(38.5 373.04) rotate(0.1)">HGNC</text><text transform="translate(38.5 377.48) rotate(0.1)">HAMAP</text><text transform="translate(38.5 381.92) rotate(0.1)">Entrez Gene</text><text transform="translate(38.5 386.36) rotate(0.1)">Ensembl gene</text><text transform="translate(38.5 390.81) rotate(0.1)">Ensembl exon</text><text transform="translate(38.5 395.25) rotate(0.1)">EMBL</text><text transform="translate(38.5 399.69) rotate(0.1)">ChEMBL</text><text transform="translate(38.5 404.13) rotate(0.1)">CDD</text><text transform="translate(38.5 408.58) rotate(0.1)">CCDS</text></g>
<g class="tl" font-size="2.85" text-anchor="end"><text transform="translate(44.02 413.1) rotate(-46)">CCDS</text><text transform="translate(48.47 413.1) rotate(-46)">CDD</text><text transform="translate(52.92 413.1) rotate(-46)">ChEMBL</text><text transform="translate(57.36 413.1) rotate(-46)">EMBL</text><text transform="translate(61.81 413.1) rotate(-46)">Ensembl exon</text><text transform="translate(66.25 413.1) rotate(-46)">Ensembl gene</text><text transform="translate(70.7 413.1) rotate(-46)">Entrez Gene</text><text transform="translate(75.15 413.1) rotate(-46)">HAMAP</text><text transform="translate(79.59 413.1) rotate(-46)">HGNC</text><text transform="translate(84.04 413.1) rotate(-46)">HGNC Transcript</text><text transform="translate(88.48 413.1) rotate(-46)">PANTHER</text><text transform="translate(92.93 413.1) rotate(-46)">Interpro</text><text transform="translate(97.38 413.1) rotate(-46)">Merops</text><text transform="translate(101.82 413.1) rotate(-46)">miRBase</text><text transform="translate(106.27 413.1) rotate(-46)">PDB</text><text transform="translate(110.72 413.1) rotate(-46)">Pfam</text><text transform="translate(115.16 413.1) rotate(-46)">pfScan</text><text transform="translate(119.61 413.1) rotate(-46)">PRINTS</text><text transform="translate(124.05 413.1) rotate(-46)">PROSITE</text><text transform="translate(128.5 413.1) rotate(-46)">PANDC</text><text transform="translate(132.95 413.1) rotate(-46)">Reactome</text><text transform="translate(137.39 413.1) rotate(-46)">Refseq ncrna</text><text transform="translate(141.84 413.1) rotate(-46)">Refseq mrna</text><text transform="translate(146.28 413.1) rotate(-46)">Refseq peptide</text><text transform="translate(150.73 413.1) rotate(-46)">Rfam</text><text transform="translate(155.18 413.1) rotate(-46)">RNA transcript</text><text transform="translate(159.62 413.1) rotate(-46)">RNAcentral</text><text transform="translate(164.07 413.1) rotate(-46)">RoseProtein</text><text transform="translate(168.52 413.1) rotate(-46)">SFLD</text><text transform="translate(172.96 413.1) rotate(-46)">SMART</text><text transform="translate(177.41 413.1) rotate(-46)">SUPERFAMILY</text><text transform="translate(181.85 413.1) rotate(-46)">TIGRFAMs</text><text transform="translate(186.3 413.1) rotate(-46)">UCSC</text><text transform="translate(190.75 413.1) rotate(-46)">Uniprot archive</text><text transform="translate(195.19 413.1) rotate(-46)">Uniprot gene</text><text transform="translate(199.64 413.1) rotate(-46)">Uniprot isoform</text><text transform="translate(204.08 413.1) rotate(-46)">Uniprot TrEMBL</text><text transform="translate(208.53 413.1) rotate(-46)">Uniprot Swiss-prot</text><text transform="translate(212.98 413.1) rotate(-46)">WikiGene</text></g>
<rect x="305.48" y="255.38" width="1.1" height="1.1" fill="#6a7078" fill-opacity="0.35"/>
<rect x="303.93" y="405.57" width="4.2" height="4.2" fill="#e29a44"/>
<path d="M305.18 406.82L306.88 408.52M306.88 406.82L305.18 408.52" stroke="#3c3028" stroke-opacity="0.32" stroke-width="0.7"/>
<rect x="308.4" y="401.11" width="4.2" height="4.2" fill="#eab954"/>
<path d="M309.65 402.36L311.35 404.06M311.35 402.36L309.65 404.06" stroke="#3c3028" stroke-opacity="0.32" stroke-width="0.7"/>
<rect x="312.86" y="396.64" width="4.2" height="4.2" fill="#eab954"/>
<path d="M314.11 397.89L315.81 399.59M315.81 397.89L314.11 399.59" stroke="#3c3028" stroke-opacity="0.32" stroke-width="0.7"/>
<rect x="317.33" y="240.45" width="4.2" height="4.2" fill="#e29a44"/>
<path d="M318.58 241.69L320.28 243.39M320.28 241.69L318.58 243.39" stroke="#3c3028" stroke-opacity="0.32" stroke-width="0.7"/>
<rect x="318.88" y="300.01" width="1.1" height="1.1" fill="#6a7078" fill-opacity="0.35"/>
<rect x="317.33" y="392.18" width="4.2" height="4.2" fill="#cb2629"/>
<path d="M318.58 393.43L320.28 395.13M320.28 393.43L318.58 395.13" stroke="#3c3028" stroke-opacity="0.32" stroke-width="0.7"/>
<rect x="321.8" y="387.72" width="4.2" height="4.2" fill="#8f1228"/>
<path d="M323.04 388.97L324.74 390.67M324.74 388.97L323.04 390.67" stroke="#3c3028" stroke-opacity="0.32" stroke-width="0.7"/>
<rect x="326.26" y="383.26" width="4.2" height="4.2" fill="#d9603a"/>
<path d="M327.51 384.5L329.21 386.2M329.21 384.5L327.51 386.2" stroke="#3c3028" stroke-opacity="0.32" stroke-width="0.7"/>
<rect x="330.73" y="378.79" width="4.2" height="4.2" fill="#e29a44"/>
<path d="M331.97 380.04L333.68 381.74M333.68 380.04L331.97 381.74" stroke="#3c3028" stroke-opacity="0.32" stroke-width="0.7"/>
<rect x="335.19" y="374.33" width="4.2" height="4.2" fill="#f6f0a4"/>
<path d="M336.44 375.58L338.14 377.28M338.14 375.58L336.44 377.28" stroke="#3e4518" stroke-opacity="0.48" stroke-width="0.7"/>
<rect x="339.66" y="369.87" width="4.2" height="4.2" fill="#d9603a"/>
<path d="M340.91 371.12L342.61 372.82M342.61 371.12L340.91 372.82" stroke="#3c3028" stroke-opacity="0.32" stroke-width="0.7"/>
<rect x="344.12" y="244.91" width="4.2" height="4.2" fill="#fbf8d6"/>
<path d="M345.37 246.16L347.07 247.86M347.07 246.16L345.37 247.86" stroke="#3e4518" stroke-opacity="0.48" stroke-width="0.7"/>
<rect x="345.67" y="295.55" width="1.1" height="1.1" fill="#6a7078" fill-opacity="0.35"/>
<rect x="344.12" y="320.78" width="4.2" height="4.2" fill="#eab954"/>
<path d="M345.37 322.02L347.07 323.73M347.07 322.02L345.37 323.73" stroke="#3c3028" stroke-opacity="0.32" stroke-width="0.7"/>
<rect x="345.67" y="353.56" width="1.1" height="1.1" fill="#6a7078" fill-opacity="0.35"/>
<rect x="344.12" y="365.4" width="4.2" height="4.2" fill="#cb2629"/>
<path d="M345.37 366.65L347.07 368.35M347.07 366.65L345.37 368.35" stroke="#3c3028" stroke-opacity="0.32" stroke-width="0.7"/>
<rect x="348.59" y="360.94" width="4.2" height="4.2" fill="#dc7a3c"/>
<path d="M349.84 362.19L351.54 363.89M351.54 362.19L349.84 363.89" stroke="#3c3028" stroke-opacity="0.32" stroke-width="0.7"/>
<rect x="353.05" y="356.48" width="4.2" height="4.2" fill="#e29a44"/>
<path d="M354.3 357.73L356 359.43M356 357.73L354.3 359.43" stroke="#3c3028" stroke-opacity="0.32" stroke-width="0.7"/>
<rect x="357.52" y="352.02" width="4.2" height="4.2" fill="#f6f0a4"/>
<path d="M358.77 353.26L360.47 354.96M360.47 353.26L358.77 354.96" stroke="#3e4518" stroke-opacity="0.48" stroke-width="0.7"/>
<rect x="361.98" y="347.55" width="4.2" height="4.2" fill="#f3d77c"/>
<path d="M363.23 348.8L364.93 350.5M364.93 348.8L363.23 350.5" stroke="#3e4518" stroke-opacity="0.32" stroke-width="0.7"/>
<rect x="366.45" y="343.09" width="4.2" height="4.2" fill="#d9603a"/>
<path d="M367.7 344.34L369.4 346.04M369.4 344.34L367.7 346.04" stroke="#3c3028" stroke-opacity="0.32" stroke-width="0.7"/>
<rect x="370.91" y="298.46" width="4.2" height="4.2" fill="#f6f0a4"/>
<path d="M372.16 299.71L373.86 301.41M373.86 299.71L372.16 301.41" stroke="#3e4518" stroke-opacity="0.48" stroke-width="0.7"/>
<rect x="370.91" y="338.63" width="4.2" height="4.2" fill="#e29a44"/>
<path d="M372.16 339.88L373.86 341.58M373.86 339.88L372.16 341.58" stroke="#3c3028" stroke-opacity="0.32" stroke-width="0.7"/>
<rect x="376.93" y="286.62" width="1.1" height="1.1" fill="#6a7078" fill-opacity="0.35"/>
<rect x="375.38" y="334.16" width="4.2" height="4.2" fill="#f6f0a4"/>
<path d="M376.63 335.41L378.33 337.11M378.33 335.41L376.63 337.11" stroke="#3e4518" stroke-opacity="0.48" stroke-width="0.7"/>
<rect x="379.85" y="329.7" width="4.2" height="4.2" fill="#f6f0a4"/>
<path d="M381.09 330.95L382.79 332.65M382.79 330.95L381.09 332.65" stroke="#3e4518" stroke-opacity="0.48" stroke-width="0.7"/>
<rect x="384.31" y="325.24" width="4.2" height="4.2" fill="#f6f0a4"/>
<path d="M385.56 326.49L387.26 328.19M387.26 326.49L385.56 328.19" stroke="#3e4518" stroke-opacity="0.48" stroke-width="0.7"/>
<rect x="390.32" y="273.23" width="1.1" height="1.1" fill="#6a7078" fill-opacity="0.35"/>
<rect x="388.78" y="320.78" width="4.2" height="4.2" fill="#b5152a"/>
<path d="M390.02 322.02L391.73 323.73M391.73 322.02L390.02 323.73" stroke="#3c3028" stroke-opacity="0.32" stroke-width="0.7"/>
<rect x="393.24" y="316.31" width="4.2" height="4.2" fill="#f3d77c"/>
<path d="M394.49 317.56L396.19 319.26M396.19 317.56L394.49 319.26" stroke="#3e4518" stroke-opacity="0.32" stroke-width="0.7"/>
<rect x="397.71" y="311.85" width="4.2" height="4.2" fill="#d9603a"/>
<path d="M398.96 313.1L400.66 314.8M400.66 313.1L398.96 314.8" stroke="#3c3028" stroke-opacity="0.32" stroke-width="0.7"/>
<rect x="402.17" y="307.39" width="4.2" height="4.2" fill="#e29a44"/>
<path d="M403.42 308.64L405.12 310.34M405.12 308.64L403.42 310.34" stroke="#3c3028" stroke-opacity="0.32" stroke-width="0.7"/>
<rect x="406.64" y="302.92" width="4.2" height="4.2" fill="#d9603a"/>
<path d="M407.89 304.17L409.59 305.87M409.59 304.17L407.89 305.87" stroke="#3c3028" stroke-opacity="0.32" stroke-width="0.7"/>
<rect x="412.65" y="300.01" width="1.1" height="1.1" fill="#6a7078" fill-opacity="0.35"/>
<rect x="415.57" y="294" width="4.2" height="4.2" fill="#f6f0a4"/>
<path d="M416.82 295.25L418.52 296.95M418.52 295.25L416.82 296.95" stroke="#3e4518" stroke-opacity="0.48" stroke-width="0.7"/>
<rect x="420.03" y="289.54" width="4.2" height="4.2" fill="#d9603a"/>
<path d="M421.28 290.79L422.98 292.49M422.98 290.79L421.28 292.49" stroke="#3c3028" stroke-opacity="0.32" stroke-width="0.7"/>
<rect x="424.5" y="285.07" width="4.2" height="4.2" fill="#f6f0a4"/>
<path d="M425.75 286.32L427.45 288.02M427.45 286.32L425.75 288.02" stroke="#3e4518" stroke-opacity="0.48" stroke-width="0.7"/>
<rect x="430.51" y="282.16" width="1.1" height="1.1" fill="#6a7078" fill-opacity="0.35"/>
<rect x="433.43" y="276.15" width="4.2" height="4.2" fill="#f6f0a4"/>
<path d="M434.68 277.4L436.38 279.1M436.38 277.4L434.68 279.1" stroke="#3e4518" stroke-opacity="0.48" stroke-width="0.7"/>
<rect x="434.98" y="300.01" width="1.1" height="1.1" fill="#6a7078" fill-opacity="0.35"/>
<rect x="437.9" y="271.69" width="4.2" height="4.2" fill="#f6f0a4"/>
<path d="M439.14 272.93L440.84 274.63M440.84 272.93L439.14 274.63" stroke="#3e4518" stroke-opacity="0.48" stroke-width="0.7"/>
<rect x="442.36" y="267.22" width="4.2" height="4.2" fill="#f6f0a4"/>
<path d="M443.61 268.47L445.31 270.17M445.31 268.47L443.61 270.17" stroke="#3e4518" stroke-opacity="0.48" stroke-width="0.7"/>
<rect x="446.83" y="262.76" width="4.2" height="4.2" fill="#cb2629"/>
<path d="M448.07 264.01L449.77 265.71M449.77 264.01L448.07 265.71" stroke="#3c3028" stroke-opacity="0.32" stroke-width="0.7"/>
<rect x="451.29" y="258.3" width="4.2" height="4.2" fill="#d9603a"/>
<path d="M452.54 259.55L454.24 261.25M454.24 259.55L452.54 261.25" stroke="#3c3028" stroke-opacity="0.32" stroke-width="0.7"/>
<rect x="457.31" y="237.53" width="1.1" height="1.1" fill="#6a7078" fill-opacity="0.35"/>
<rect x="457.31" y="241.99" width="1.1" height="1.1" fill="#6a7078" fill-opacity="0.35"/>
<rect x="457.31" y="246.46" width="1.1" height="1.1" fill="#6a7078" fill-opacity="0.35"/>
<rect x="455.76" y="253.83" width="4.2" height="4.2" fill="#e29a44"/>
<path d="M457.01 255.08L458.71 256.78M458.71 255.08L457.01 256.78" stroke="#3c3028" stroke-opacity="0.32" stroke-width="0.7"/>
<rect x="457.31" y="300.01" width="1.1" height="1.1" fill="#6a7078" fill-opacity="0.35"/>
<rect x="455.76" y="320.78" width="4.2" height="4.2" fill="#f6f0a4"/>
<path d="M457.01 322.02L458.71 323.73M458.71 322.02L457.01 323.73" stroke="#3e4518" stroke-opacity="0.48" stroke-width="0.7"/>
<rect x="457.31" y="344.64" width="1.1" height="1.1" fill="#6a7078" fill-opacity="0.35"/>
<rect x="457.31" y="366.95" width="1.1" height="1.1" fill="#6a7078" fill-opacity="0.35"/>
<rect x="457.31" y="380.34" width="1.1" height="1.1" fill="#6a7078" fill-opacity="0.35"/>
<rect x="460.22" y="249.37" width="4.2" height="4.2" fill="#d9603a"/>
<path d="M461.47 250.62L463.17 252.32M463.17 250.62L461.47 252.32" stroke="#3c3028" stroke-opacity="0.32" stroke-width="0.7"/>
<rect x="464.69" y="240.45" width="4.2" height="4.2" fill="#eab954"/>
<path d="M465.94 241.69L467.64 243.39M467.64 241.69L465.94 243.39" stroke="#3c3028" stroke-opacity="0.32" stroke-width="0.7"/>
<rect x="464.69" y="244.91" width="4.2" height="4.2" fill="#d9603a"/>
<path d="M465.94 246.16L467.64 247.86M467.64 246.16L465.94 247.86" stroke="#3c3028" stroke-opacity="0.32" stroke-width="0.7"/>
<rect x="469.15" y="240.45" width="4.2" height="4.2" fill="#e29a44"/>
<path d="M470.4 241.69L472.1 243.39M472.1 241.69L470.4 243.39" stroke="#3c3028" stroke-opacity="0.32" stroke-width="0.7"/>
<rect x="469.15" y="244.91" width="4.2" height="4.2" fill="#f6f0a4"/>
<path d="M470.4 246.16L472.1 247.86M472.1 246.16L470.4 247.86" stroke="#3e4518" stroke-opacity="0.48" stroke-width="0.7"/>
<rect x="473.62" y="235.98" width="4.2" height="4.2" fill="#eab954"/>
<path d="M474.87 237.23L476.57 238.93M476.57 237.23L474.87 238.93" stroke="#3c3028" stroke-opacity="0.32" stroke-width="0.7"/>
<rect x="473.62" y="253.83" width="4.2" height="4.2" fill="#e29a44"/>
<path d="M474.87 255.08L476.57 256.78M476.57 255.08L474.87 256.78" stroke="#3c3028" stroke-opacity="0.32" stroke-width="0.7"/>
<rect x="475.17" y="300.01" width="1.1" height="1.1" fill="#6a7078" fill-opacity="0.35"/>
<rect x="473.62" y="320.78" width="4.2" height="4.2" fill="#f6f0a4"/>
<path d="M474.87 322.02L476.57 323.73M476.57 322.02L474.87 323.73" stroke="#3e4518" stroke-opacity="0.48" stroke-width="0.7"/>
<rect x="475.17" y="344.64" width="1.1" height="1.1" fill="#6a7078" fill-opacity="0.35"/>
<rect x="475.17" y="366.95" width="1.1" height="1.1" fill="#6a7078" fill-opacity="0.35"/>
<rect x="475.17" y="380.34" width="1.1" height="1.1" fill="#6a7078" fill-opacity="0.35"/>
<rect x="303.5" y="235.8" width="174.7" height="174.5" fill="none" stroke="#a9a9a9" stroke-width="1.2"/>
<path d="M303.5 238.08h-1.2M306.03 410.3v1.2M303.5 242.54h-1.2M310.5 410.3v1.2M303.5 247.01h-1.2M314.96 410.3v1.2M303.5 251.47h-1.2M319.43 410.3v1.2M303.5 255.93h-1.2M323.89 410.3v1.2M303.5 260.4h-1.2M328.36 410.3v1.2M303.5 264.86h-1.2M332.82 410.3v1.2M303.5 269.32h-1.2M337.29 410.3v1.2M303.5 273.78h-1.2M341.76 410.3v1.2M303.5 278.25h-1.2M346.22 410.3v1.2M303.5 282.71h-1.2M350.69 410.3v1.2M303.5 287.17h-1.2M355.15 410.3v1.2M303.5 291.64h-1.2M359.62 410.3v1.2M303.5 296.1h-1.2M364.08 410.3v1.2M303.5 300.56h-1.2M368.55 410.3v1.2M303.5 305.02h-1.2M373.01 410.3v1.2M303.5 309.49h-1.2M377.48 410.3v1.2M303.5 313.95h-1.2M381.94 410.3v1.2M303.5 318.41h-1.2M386.41 410.3v1.2M303.5 322.88h-1.2M390.88 410.3v1.2M303.5 327.34h-1.2M395.34 410.3v1.2M303.5 331.8h-1.2M399.81 410.3v1.2M303.5 336.26h-1.2M404.27 410.3v1.2M303.5 340.73h-1.2M408.74 410.3v1.2M303.5 345.19h-1.2M413.2 410.3v1.2M303.5 349.65h-1.2M417.67 410.3v1.2M303.5 354.11h-1.2M422.13 410.3v1.2M303.5 358.58h-1.2M426.6 410.3v1.2M303.5 363.04h-1.2M431.06 410.3v1.2M303.5 367.5h-1.2M435.53 410.3v1.2M303.5 371.97h-1.2M439.99 410.3v1.2M303.5 376.43h-1.2M444.46 410.3v1.2M303.5 380.89h-1.2M448.92 410.3v1.2M303.5 385.35h-1.2M453.39 410.3v1.2M303.5 389.82h-1.2M457.86 410.3v1.2M303.5 394.28h-1.2M462.32 410.3v1.2M303.5 398.74h-1.2M466.79 410.3v1.2M303.5 403.21h-1.2M471.25 410.3v1.2M303.5 407.67h-1.2M475.72 410.3v1.2" stroke="#777" stroke-width="0.5" fill="none"/>
<g class="tl" font-size="2.85" text-anchor="end"><text transform="translate(301.9 239.08) rotate(0.1)">WikiGene</text><text transform="translate(301.9 243.54) rotate(0.1)">Uniprot Swiss-prot</text><text transform="translate(301.9 248) rotate(0.1)">Uniprot TrEMBL</text><text transform="translate(301.9 252.47) rotate(0.1)">Uniprot isoform</text><text transform="translate(301.9 256.93) rotate(0.1)">Uniprot gene</text><text transform="translate(301.9 261.39) rotate(0.1)">Uniprot archive</text><text transform="translate(301.9 265.86) rotate(0.1)">UCSC</text><text transform="translate(301.9 270.32) rotate(0.1)">TIGRFAMs</text><text transform="translate(301.9 274.78) rotate(0.1)">SUPERFAMILY</text><text transform="translate(301.9 279.24) rotate(0.1)">SMART</text><text transform="translate(301.9 283.71) rotate(0.1)">SFLD</text><text transform="translate(301.9 288.17) rotate(0.1)">RoseProtein</text><text transform="translate(301.9 292.63) rotate(0.1)">RNAcentral</text><text transform="translate(301.9 297.1) rotate(0.1)">RNA transcript</text><text transform="translate(301.9 301.56) rotate(0.1)">Rfam</text><text transform="translate(301.9 306.02) rotate(0.1)">Refseq peptide</text><text transform="translate(301.9 310.48) rotate(0.1)">Refseq mrna</text><text transform="translate(301.9 314.95) rotate(0.1)">Refseq ncrna</text><text transform="translate(301.9 319.41) rotate(0.1)">Reactome</text><text transform="translate(301.9 323.87) rotate(0.1)">PANDC</text><text transform="translate(301.9 328.34) rotate(0.1)">PROSITE</text><text transform="translate(301.9 332.8) rotate(0.1)">PRINTS</text><text transform="translate(301.9 337.26) rotate(0.1)">pfScan</text><text transform="translate(301.9 341.72) rotate(0.1)">Pfam</text><text transform="translate(301.9 346.19) rotate(0.1)">PDB</text><text transform="translate(301.9 350.65) rotate(0.1)">miRBase</text><text transform="translate(301.9 355.11) rotate(0.1)">Merops</text><text transform="translate(301.9 359.58) rotate(0.1)">Interpro</text><text transform="translate(301.9 364.04) rotate(0.1)">PANTHER</text><text transform="translate(301.9 368.5) rotate(0.1)">HGNC Transcript</text><text transform="translate(301.9 372.96) rotate(0.1)">HGNC</text><text transform="translate(301.9 377.43) rotate(0.1)">HAMAP</text><text transform="translate(301.9 381.89) rotate(0.1)">Entrez Gene</text><text transform="translate(301.9 386.35) rotate(0.1)">Ensembl gene</text><text transform="translate(301.9 390.81) rotate(0.1)">Ensembl exon</text><text transform="translate(301.9 395.28) rotate(0.1)">EMBL</text><text transform="translate(301.9 399.74) rotate(0.1)">ChEMBL</text><text transform="translate(301.9 404.2) rotate(0.1)">CDD</text><text transform="translate(301.9 408.67) rotate(0.1)">CCDS</text></g>
<g class="tl" font-size="2.85" text-anchor="end"><text transform="translate(307.43 413.2) rotate(-46)">CCDS</text><text transform="translate(311.9 413.2) rotate(-46)">CDD</text><text transform="translate(316.36 413.2) rotate(-46)">ChEMBL</text><text transform="translate(320.83 413.2) rotate(-46)">EMBL</text><text transform="translate(325.29 413.2) rotate(-46)">Ensembl exon</text><text transform="translate(329.76 413.2) rotate(-46)">Ensembl gene</text><text transform="translate(334.22 413.2) rotate(-46)">Entrez Gene</text><text transform="translate(338.69 413.2) rotate(-46)">HAMAP</text><text transform="translate(343.16 413.2) rotate(-46)">HGNC</text><text transform="translate(347.62 413.2) rotate(-46)">HGNC Transcript</text><text transform="translate(352.09 413.2) rotate(-46)">PANTHER</text><text transform="translate(356.55 413.2) rotate(-46)">Interpro</text><text transform="translate(361.02 413.2) rotate(-46)">Merops</text><text transform="translate(365.48 413.2) rotate(-46)">miRBase</text><text transform="translate(369.95 413.2) rotate(-46)">PDB</text><text transform="translate(374.41 413.2) rotate(-46)">Pfam</text><text transform="translate(378.88 413.2) rotate(-46)">pfScan</text><text transform="translate(383.34 413.2) rotate(-46)">PRINTS</text><text transform="translate(387.81 413.2) rotate(-46)">PROSITE</text><text transform="translate(392.27 413.2) rotate(-46)">PANDC</text><text transform="translate(396.74 413.2) rotate(-46)">Reactome</text><text transform="translate(401.21 413.2) rotate(-46)">Refseq ncrna</text><text transform="translate(405.67 413.2) rotate(-46)">Refseq mrna</text><text transform="translate(410.14 413.2) rotate(-46)">Refseq peptide</text><text transform="translate(414.6 413.2) rotate(-46)">Rfam</text><text transform="translate(419.07 413.2) rotate(-46)">RNA transcript</text><text transform="translate(423.53 413.2) rotate(-46)">RNAcentral</text><text transform="translate(428 413.2) rotate(-46)">RoseProtein</text><text transform="translate(432.46 413.2) rotate(-46)">SFLD</text><text transform="translate(436.93 413.2) rotate(-46)">SMART</text><text transform="translate(441.39 413.2) rotate(-46)">SUPERFAMILY</text><text transform="translate(445.86 413.2) rotate(-46)">TIGRFAMs</text><text transform="translate(450.32 413.2) rotate(-46)">UCSC</text><text transform="translate(454.79 413.2) rotate(-46)">Uniprot archive</text><text transform="translate(459.26 413.2) rotate(-46)">Uniprot gene</text><text transform="translate(463.72 413.2) rotate(-46)">Uniprot isoform</text><text transform="translate(468.19 413.2) rotate(-46)">Uniprot TrEMBL</text><text transform="translate(472.65 413.2) rotate(-46)">Uniprot Swiss-prot</text><text transform="translate(477.12 413.2) rotate(-46)">WikiGene</text></g>
<rect x="40.93" y="629.56" width="4.2" height="4.2" fill="#e29a44"/>
<path d="M42.19 630.81L43.89 632.51M43.89 630.81L42.19 632.51" stroke="#3c3028" stroke-opacity="0.32" stroke-width="0.7"/>
<rect x="45.41" y="625.09" width="4.2" height="4.2" fill="#eab954"/>
<path d="M46.66 626.34L48.36 628.04M48.36 626.34L46.66 628.04" stroke="#3c3028" stroke-opacity="0.32" stroke-width="0.7"/>
<rect x="49.88" y="620.61" width="4.2" height="4.2" fill="#eab954"/>
<path d="M51.13 621.87L52.83 623.57M52.83 621.87L51.13 623.57" stroke="#3c3028" stroke-opacity="0.32" stroke-width="0.7"/>
<rect x="55.91" y="461.14" width="1.1" height="1.1" fill="#6a7078" fill-opacity="0.35"/>
<rect x="55.91" y="590.86" width="1.1" height="1.1" fill="#6a7078" fill-opacity="0.35"/>
<rect x="54.35" y="616.14" width="4.2" height="4.2" fill="#cb2629"/>
<path d="M55.61 617.39L57.31 619.09M57.31 617.39L55.61 619.09" stroke="#3c3028" stroke-opacity="0.32" stroke-width="0.7"/>
<rect x="58.83" y="611.67" width="4.2" height="4.2" fill="#8f1228"/>
<path d="M60.08 612.92L61.78 614.62M61.78 612.92L60.08 614.62" stroke="#3c3028" stroke-opacity="0.32" stroke-width="0.7"/>
<rect x="63.3" y="607.2" width="4.2" height="4.2" fill="#d9603a"/>
<path d="M64.55 608.45L66.25 610.15M66.25 608.45L64.55 610.15" stroke="#3c3028" stroke-opacity="0.32" stroke-width="0.7"/>
<rect x="67.77" y="602.72" width="4.2" height="4.2" fill="#e29a44"/>
<path d="M69.03 603.98L70.72 605.68M70.72 603.98L69.03 605.68" stroke="#3c3028" stroke-opacity="0.32" stroke-width="0.7"/>
<rect x="72.25" y="544.57" width="4.2" height="4.2" fill="#f6f0a4"/>
<path d="M73.5 545.82L75.2 547.52M75.2 545.82L73.5 547.52" stroke="#3e4518" stroke-opacity="0.48" stroke-width="0.7"/>
<rect x="73.8" y="599.8" width="1.1" height="1.1" fill="#6a7078" fill-opacity="0.35"/>
<rect x="76.72" y="593.78" width="4.2" height="4.2" fill="#d9603a"/>
<path d="M77.97 595.03L79.67 596.73M79.67 595.03L77.97 596.73" stroke="#3c3028" stroke-opacity="0.32" stroke-width="0.7"/>
<rect x="81.19" y="459.58" width="4.2" height="4.2" fill="#f6f0a4"/>
<path d="M82.44 460.84L84.14 462.54M84.14 460.84L82.44 462.54" stroke="#3e4518" stroke-opacity="0.48" stroke-width="0.7"/>
<rect x="82.74" y="465.61" width="1.1" height="1.1" fill="#6a7078" fill-opacity="0.35"/>
<rect x="81.19" y="468.53" width="4.2" height="4.2" fill="#fbf8d6"/>
<path d="M82.44 469.78L84.14 471.48M84.14 469.78L82.44 471.48" stroke="#3e4518" stroke-opacity="0.48" stroke-width="0.7"/>
<rect x="81.19" y="477.48" width="4.2" height="4.2" fill="#fbf8d6"/>
<path d="M82.44 478.73L84.14 480.43M84.14 478.73L82.44 480.43" stroke="#3e4518" stroke-opacity="0.48" stroke-width="0.7"/>
<rect x="82.74" y="528.23" width="1.1" height="1.1" fill="#6a7078" fill-opacity="0.35"/>
<rect x="81.19" y="589.3" width="4.2" height="4.2" fill="#8f1228"/>
<path d="M82.44 590.56L84.14 592.26M84.14 590.56L82.44 592.26" stroke="#3c3028" stroke-opacity="0.32" stroke-width="0.7"/>
<rect x="82.74" y="613.22" width="1.1" height="1.1" fill="#6a7078" fill-opacity="0.35"/>
<rect x="81.19" y="616.14" width="4.2" height="4.2" fill="#fbf8d6"/>
<path d="M82.44 617.39L84.14 619.09M84.14 617.39L82.44 619.09" stroke="#3e4518" stroke-opacity="0.48" stroke-width="0.7"/>
<rect x="85.66" y="584.83" width="4.2" height="4.2" fill="#dc7a3c"/>
<path d="M86.92 586.08L88.62 587.78M88.62 586.08L86.92 587.78" stroke="#3c3028" stroke-opacity="0.32" stroke-width="0.7"/>
<rect x="90.14" y="580.36" width="4.2" height="4.2" fill="#e29a44"/>
<path d="M91.39 581.61L93.09 583.31M93.09 581.61L91.39 583.31" stroke="#3c3028" stroke-opacity="0.32" stroke-width="0.7"/>
<rect x="94.61" y="575.88" width="4.2" height="4.2" fill="#f6f0a4"/>
<path d="M95.86 577.14L97.56 578.84M97.56 577.14L95.86 578.84" stroke="#3e4518" stroke-opacity="0.48" stroke-width="0.7"/>
<rect x="96.16" y="617.69" width="1.1" height="1.1" fill="#6a7078" fill-opacity="0.35"/>
<rect x="99.08" y="571.41" width="4.2" height="4.2" fill="#f3d77c"/>
<path d="M100.34 572.66L102.04 574.36M102.04 572.66L100.34 574.36" stroke="#3e4518" stroke-opacity="0.32" stroke-width="0.7"/>
<rect x="105.11" y="470.08" width="1.1" height="1.1" fill="#6a7078" fill-opacity="0.35"/>
<rect x="103.56" y="566.94" width="4.2" height="4.2" fill="#d9603a"/>
<path d="M104.81 568.19L106.51 569.89M106.51 568.19L104.81 569.89" stroke="#3c3028" stroke-opacity="0.32" stroke-width="0.7"/>
<rect x="109.58" y="461.14" width="1.1" height="1.1" fill="#6a7078" fill-opacity="0.35"/>
<rect x="108.03" y="562.46" width="4.2" height="4.2" fill="#e29a44"/>
<path d="M109.28 563.72L110.98 565.42M110.98 563.72L109.28 565.42" stroke="#3c3028" stroke-opacity="0.32" stroke-width="0.7"/>
<rect x="114.06" y="510.34" width="1.1" height="1.1" fill="#6a7078" fill-opacity="0.35"/>
<rect x="112.5" y="557.99" width="4.2" height="4.2" fill="#f6f0a4"/>
<path d="M113.76 559.24L115.46 560.94M115.46 559.24L113.76 560.94" stroke="#3e4518" stroke-opacity="0.48" stroke-width="0.7"/>
<rect x="116.98" y="553.52" width="4.2" height="4.2" fill="#f6f0a4"/>
<path d="M118.23 554.77L119.93 556.47M119.93 554.77L118.23 556.47" stroke="#3e4518" stroke-opacity="0.48" stroke-width="0.7"/>
<rect x="118.53" y="590.86" width="1.1" height="1.1" fill="#6a7078" fill-opacity="0.35"/>
<rect x="121.45" y="549.05" width="4.2" height="4.2" fill="#f6f0a4"/>
<path d="M122.7 550.3L124.4 552M124.4 550.3L122.7 552" stroke="#3e4518" stroke-opacity="0.48" stroke-width="0.7"/>
<rect x="125.92" y="544.57" width="4.2" height="4.2" fill="#b5152a"/>
<path d="M127.18 545.82L128.88 547.52M128.88 545.82L127.18 547.52" stroke="#3c3028" stroke-opacity="0.32" stroke-width="0.7"/>
<rect x="130.4" y="540.1" width="4.2" height="4.2" fill="#f3d77c"/>
<path d="M131.65 541.35L133.35 543.05M133.35 541.35L131.65 543.05" stroke="#3e4518" stroke-opacity="0.32" stroke-width="0.7"/>
<rect x="134.87" y="535.63" width="4.2" height="4.2" fill="#d9603a"/>
<path d="M136.12 536.88L137.82 538.58M137.82 536.88L136.12 538.58" stroke="#3c3028" stroke-opacity="0.32" stroke-width="0.7"/>
<rect x="139.34" y="531.15" width="4.2" height="4.2" fill="#e29a44"/>
<path d="M140.59 532.41L142.29 534.11M142.29 532.41L140.59 534.11" stroke="#3c3028" stroke-opacity="0.32" stroke-width="0.7"/>
<rect x="143.81" y="526.68" width="4.2" height="4.2" fill="#d9603a"/>
<path d="M145.07 527.93L146.77 529.63M146.77 527.93L145.07 529.63" stroke="#3c3028" stroke-opacity="0.32" stroke-width="0.7"/>
<rect x="149.84" y="461.14" width="1.1" height="1.1" fill="#6a7078" fill-opacity="0.35"/>
<rect x="152.76" y="517.73" width="4.2" height="4.2" fill="#f6f0a4"/>
<path d="M154.01 518.99L155.71 520.69M155.71 518.99L154.01 520.69" stroke="#3e4518" stroke-opacity="0.48" stroke-width="0.7"/>
<rect x="154.31" y="577.44" width="1.1" height="1.1" fill="#6a7078" fill-opacity="0.35"/>
<rect x="154.31" y="590.86" width="1.1" height="1.1" fill="#6a7078" fill-opacity="0.35"/>
<rect x="157.23" y="513.26" width="4.2" height="4.2" fill="#d9603a"/>
<path d="M158.49 514.51L160.19 516.21M160.19 514.51L158.49 516.21" stroke="#3c3028" stroke-opacity="0.32" stroke-width="0.7"/>
<rect x="163.26" y="461.14" width="1.1" height="1.1" fill="#6a7078" fill-opacity="0.35"/>
<rect x="161.71" y="508.79" width="4.2" height="4.2" fill="#f6f0a4"/>
<path d="M162.96 510.04L164.66 511.74M164.66 510.04L162.96 511.74" stroke="#3e4518" stroke-opacity="0.48" stroke-width="0.7"/>
<rect x="167.73" y="590.86" width="1.1" height="1.1" fill="#6a7078" fill-opacity="0.35"/>
<rect x="170.65" y="499.84" width="4.2" height="4.2" fill="#f6f0a4"/>
<path d="M171.91 501.09L173.61 502.79M173.61 501.09L171.91 502.79" stroke="#3e4518" stroke-opacity="0.48" stroke-width="0.7"/>
<rect x="175.13" y="495.37" width="4.2" height="4.2" fill="#f6f0a4"/>
<path d="M176.38 496.62L178.08 498.32M178.08 496.62L176.38 498.32" stroke="#3e4518" stroke-opacity="0.48" stroke-width="0.7"/>
<rect x="175.13" y="544.57" width="4.2" height="4.2" fill="#f6f0a4"/>
<path d="M176.38 545.82L178.08 547.52M178.08 545.82L176.38 547.52" stroke="#3e4518" stroke-opacity="0.48" stroke-width="0.7"/>
<rect x="179.6" y="490.9" width="4.2" height="4.2" fill="#f6f0a4"/>
<path d="M180.85 492.15L182.55 493.85M182.55 492.15L180.85 493.85" stroke="#3e4518" stroke-opacity="0.48" stroke-width="0.7"/>
<rect x="184.07" y="486.42" width="4.2" height="4.2" fill="#cb2629"/>
<path d="M185.33 487.67L187.03 489.38M187.03 487.67L185.33 489.38" stroke="#3c3028" stroke-opacity="0.32" stroke-width="0.7"/>
<rect x="188.55" y="481.95" width="4.2" height="4.2" fill="#d9603a"/>
<path d="M189.8 483.2L191.5 484.9M191.5 483.2L189.8 484.9" stroke="#3c3028" stroke-opacity="0.32" stroke-width="0.7"/>
<rect x="193.02" y="459.58" width="4.2" height="4.2" fill="#eab954"/>
<path d="M194.27 460.84L195.97 462.54M195.97 460.84L194.27 462.54" stroke="#3c3028" stroke-opacity="0.32" stroke-width="0.7"/>
<rect x="194.57" y="470.08" width="1.1" height="1.1" fill="#6a7078" fill-opacity="0.35"/>
<rect x="193.02" y="477.48" width="4.2" height="4.2" fill="#e29a44"/>
<path d="M194.27 478.73L195.97 480.43M195.97 478.73L194.27 480.43" stroke="#3c3028" stroke-opacity="0.32" stroke-width="0.7"/>
<rect x="193.02" y="544.57" width="4.2" height="4.2" fill="#fbf8d6"/>
<path d="M194.27 545.82L195.97 547.52M195.97 545.82L194.27 547.52" stroke="#3e4518" stroke-opacity="0.48" stroke-width="0.7"/>
<rect x="194.57" y="581.91" width="1.1" height="1.1" fill="#6a7078" fill-opacity="0.35"/>
<rect x="193.02" y="589.3" width="4.2" height="4.2" fill="#f6f0a4"/>
<path d="M194.27 590.56L195.97 592.26M195.97 590.56L194.27 592.26" stroke="#3e4518" stroke-opacity="0.48" stroke-width="0.7"/>
<rect x="193.02" y="616.14" width="4.2" height="4.2" fill="#fbf8d6"/>
<path d="M194.27 617.39L195.97 619.09M195.97 617.39L194.27 619.09" stroke="#3e4518" stroke-opacity="0.48" stroke-width="0.7"/>
<rect x="197.49" y="473" width="4.2" height="4.2" fill="#dc7a3c"/>
<path d="M198.74 474.26L200.44 475.96M200.44 474.26L198.74 475.96" stroke="#3c3028" stroke-opacity="0.32" stroke-width="0.7"/>
<rect x="201.96" y="464.06" width="4.2" height="4.2" fill="#f6f0a4"/>
<path d="M203.22 465.31L204.92 467.01M204.92 465.31L203.22 467.01" stroke="#3e4518" stroke-opacity="0.48" stroke-width="0.7"/>
<rect x="201.96" y="468.53" width="4.2" height="4.2" fill="#d9603a"/>
<path d="M203.22 469.78L204.92 471.48M204.92 469.78L203.22 471.48" stroke="#3c3028" stroke-opacity="0.32" stroke-width="0.7"/>
<rect x="206.44" y="464.06" width="4.2" height="4.2" fill="#e29a44"/>
<path d="M207.69 465.31L209.39 467.01M209.39 465.31L207.69 467.01" stroke="#3c3028" stroke-opacity="0.32" stroke-width="0.7"/>
<rect x="206.44" y="468.53" width="4.2" height="4.2" fill="#f6f0a4"/>
<path d="M207.69 469.78L209.39 471.48M209.39 469.78L207.69 471.48" stroke="#3e4518" stroke-opacity="0.48" stroke-width="0.7"/>
<rect x="210.91" y="459.58" width="4.2" height="4.2" fill="#eab954"/>
<path d="M212.16 460.84L213.86 462.54M213.86 460.84L212.16 462.54" stroke="#3c3028" stroke-opacity="0.32" stroke-width="0.7"/>
<rect x="212.46" y="470.08" width="1.1" height="1.1" fill="#6a7078" fill-opacity="0.35"/>
<rect x="210.91" y="477.48" width="4.2" height="4.2" fill="#e29a44"/>
<path d="M212.16 478.73L213.86 480.43M213.86 478.73L212.16 480.43" stroke="#3c3028" stroke-opacity="0.32" stroke-width="0.7"/>
<rect x="212.46" y="546.12" width="1.1" height="1.1" fill="#6a7078" fill-opacity="0.35"/>
<rect x="210.91" y="589.3" width="4.2" height="4.2" fill="#f6f0a4"/>
<path d="M212.16 590.56L213.86 592.26M213.86 590.56L212.16 592.26" stroke="#3e4518" stroke-opacity="0.48" stroke-width="0.7"/>
<rect x="212.46" y="617.69" width="1.1" height="1.1" fill="#6a7078" fill-opacity="0.35"/>
<rect x="40.5" y="459.4" width="175" height="174.9" fill="none" stroke="#a9a9a9" stroke-width="1.2"/>
<path d="M40.5 461.69h-1.2M43.04 634.3v1.2M40.5 466.16h-1.2M47.51 634.3v1.2M40.5 470.63h-1.2M51.98 634.3v1.2M40.5 475.11h-1.2M56.46 634.3v1.2M40.5 479.58h-1.2M60.93 634.3v1.2M40.5 484.05h-1.2M65.4 634.3v1.2M40.5 488.52h-1.2M69.88 634.3v1.2M40.5 493h-1.2M74.35 634.3v1.2M40.5 497.47h-1.2M78.82 634.3v1.2M40.5 501.94h-1.2M83.29 634.3v1.2M40.5 506.42h-1.2M87.77 634.3v1.2M40.5 510.89h-1.2M92.24 634.3v1.2M40.5 515.36h-1.2M96.71 634.3v1.2M40.5 519.84h-1.2M101.19 634.3v1.2M40.5 524.31h-1.2M105.66 634.3v1.2M40.5 528.78h-1.2M110.13 634.3v1.2M40.5 533.26h-1.2M114.61 634.3v1.2M40.5 537.73h-1.2M119.08 634.3v1.2M40.5 542.2h-1.2M123.55 634.3v1.2M40.5 546.67h-1.2M128.03 634.3v1.2M40.5 551.15h-1.2M132.5 634.3v1.2M40.5 555.62h-1.2M136.97 634.3v1.2M40.5 560.09h-1.2M141.44 634.3v1.2M40.5 564.57h-1.2M145.92 634.3v1.2M40.5 569.04h-1.2M150.39 634.3v1.2M40.5 573.51h-1.2M154.86 634.3v1.2M40.5 577.99h-1.2M159.34 634.3v1.2M40.5 582.46h-1.2M163.81 634.3v1.2M40.5 586.93h-1.2M168.28 634.3v1.2M40.5 591.41h-1.2M172.76 634.3v1.2M40.5 595.88h-1.2M177.23 634.3v1.2M40.5 600.35h-1.2M181.7 634.3v1.2M40.5 604.83h-1.2M186.18 634.3v1.2M40.5 609.3h-1.2M190.65 634.3v1.2M40.5 613.77h-1.2M195.12 634.3v1.2M40.5 618.24h-1.2M199.59 634.3v1.2M40.5 622.72h-1.2M204.07 634.3v1.2M40.5 627.19h-1.2M208.54 634.3v1.2M40.5 631.66h-1.2M213.01 634.3v1.2" stroke="#777" stroke-width="0.5" fill="none"/>
<g class="tl" font-size="2.85" text-anchor="end"><text transform="translate(38.9 462.68) rotate(0.1)">WikiGene</text><text transform="translate(38.9 467.16) rotate(0.1)">Uniprot Swiss-prot</text><text transform="translate(38.9 471.63) rotate(0.1)">Uniprot TrEMBL</text><text transform="translate(38.9 476.1) rotate(0.1)">Uniprot isoform</text><text transform="translate(38.9 480.58) rotate(0.1)">Uniprot gene</text><text transform="translate(38.9 485.05) rotate(0.1)">Uniprot archive</text><text transform="translate(38.9 489.52) rotate(0.1)">UCSC</text><text transform="translate(38.9 494) rotate(0.1)">TIGRFAMs</text><text transform="translate(38.9 498.47) rotate(0.1)">SUPERFAMILY</text><text transform="translate(38.9 502.94) rotate(0.1)">SMART</text><text transform="translate(38.9 507.41) rotate(0.1)">SFLD</text><text transform="translate(38.9 511.89) rotate(0.1)">RoseProtein</text><text transform="translate(38.9 516.36) rotate(0.1)">RNAcentral</text><text transform="translate(38.9 520.83) rotate(0.1)">RNA transcript</text><text transform="translate(38.9 525.31) rotate(0.1)">Rfam</text><text transform="translate(38.9 529.78) rotate(0.1)">Refseq peptide</text><text transform="translate(38.9 534.25) rotate(0.1)">Refseq mrna</text><text transform="translate(38.9 538.73) rotate(0.1)">Refseq ncrna</text><text transform="translate(38.9 543.2) rotate(0.1)">Reactome</text><text transform="translate(38.9 547.67) rotate(0.1)">PANDC</text><text transform="translate(38.9 552.15) rotate(0.1)">PROSITE</text><text transform="translate(38.9 556.62) rotate(0.1)">PRINTS</text><text transform="translate(38.9 561.09) rotate(0.1)">pfScan</text><text transform="translate(38.9 565.56) rotate(0.1)">Pfam</text><text transform="translate(38.9 570.04) rotate(0.1)">PDB</text><text transform="translate(38.9 574.51) rotate(0.1)">miRBase</text><text transform="translate(38.9 578.98) rotate(0.1)">Merops</text><text transform="translate(38.9 583.46) rotate(0.1)">Interpro</text><text transform="translate(38.9 587.93) rotate(0.1)">PANTHER</text><text transform="translate(38.9 592.4) rotate(0.1)">HGNC Transcript</text><text transform="translate(38.9 596.88) rotate(0.1)">HGNC</text><text transform="translate(38.9 601.35) rotate(0.1)">HAMAP</text><text transform="translate(38.9 605.82) rotate(0.1)">Entrez Gene</text><text transform="translate(38.9 610.3) rotate(0.1)">Ensembl gene</text><text transform="translate(38.9 614.77) rotate(0.1)">Ensembl exon</text><text transform="translate(38.9 619.24) rotate(0.1)">EMBL</text><text transform="translate(38.9 623.71) rotate(0.1)">ChEMBL</text><text transform="translate(38.9 628.19) rotate(0.1)">CDD</text><text transform="translate(38.9 632.66) rotate(0.1)">CCDS</text></g>
<g class="tl" font-size="2.85" text-anchor="end"><text transform="translate(44.44 637.2) rotate(-46)">CCDS</text><text transform="translate(48.91 637.2) rotate(-46)">CDD</text><text transform="translate(53.38 637.2) rotate(-46)">ChEMBL</text><text transform="translate(57.86 637.2) rotate(-46)">EMBL</text><text transform="translate(62.33 637.2) rotate(-46)">Ensembl exon</text><text transform="translate(66.8 637.2) rotate(-46)">Ensembl gene</text><text transform="translate(71.28 637.2) rotate(-46)">Entrez Gene</text><text transform="translate(75.75 637.2) rotate(-46)">HAMAP</text><text transform="translate(80.22 637.2) rotate(-46)">HGNC</text><text transform="translate(84.69 637.2) rotate(-46)">HGNC Transcript</text><text transform="translate(89.17 637.2) rotate(-46)">PANTHER</text><text transform="translate(93.64 637.2) rotate(-46)">Interpro</text><text transform="translate(98.11 637.2) rotate(-46)">Merops</text><text transform="translate(102.59 637.2) rotate(-46)">miRBase</text><text transform="translate(107.06 637.2) rotate(-46)">PDB</text><text transform="translate(111.53 637.2) rotate(-46)">Pfam</text><text transform="translate(116.01 637.2) rotate(-46)">pfScan</text><text transform="translate(120.48 637.2) rotate(-46)">PRINTS</text><text transform="translate(124.95 637.2) rotate(-46)">PROSITE</text><text transform="translate(129.43 637.2) rotate(-46)">PANDC</text><text transform="translate(133.9 637.2) rotate(-46)">Reactome</text><text transform="translate(138.37 637.2) rotate(-46)">Refseq ncrna</text><text transform="translate(142.84 637.2) rotate(-46)">Refseq mrna</text><text transform="translate(147.32 637.2) rotate(-46)">Refseq peptide</text><text transform="translate(151.79 637.2) rotate(-46)">Rfam</text><text transform="translate(156.26 637.2) rotate(-46)">RNA transcript</text><text transform="translate(160.74 637.2) rotate(-46)">RNAcentral</text><text transform="translate(165.21 637.2) rotate(-46)">RoseProtein</text><text transform="translate(169.68 637.2) rotate(-46)">SFLD</text><text transform="translate(174.16 637.2) rotate(-46)">SMART</text><text transform="translate(178.63 637.2) rotate(-46)">SUPERFAMILY</text><text transform="translate(183.1 637.2) rotate(-46)">TIGRFAMs</text><text transform="translate(187.58 637.2) rotate(-46)">UCSC</text><text transform="translate(192.05 637.2) rotate(-46)">Uniprot archive</text><text transform="translate(196.52 637.2) rotate(-46)">Uniprot gene</text><text transform="translate(200.99 637.2) rotate(-46)">Uniprot isoform</text><text transform="translate(205.47 637.2) rotate(-46)">Uniprot TrEMBL</text><text transform="translate(209.94 637.2) rotate(-46)">Uniprot Swiss-prot</text><text transform="translate(214.41 637.2) rotate(-46)">WikiGene</text></g>
<rect x="304.78" y="628.5" width="4.16" height="4.16" fill="#e29a44"/>
<path d="M306.01 629.73L307.71 631.43M307.71 629.73L306.01 631.43" stroke="#3c3028" stroke-opacity="0.32" stroke-width="0.7"/>
<rect x="309.21" y="624.05" width="4.16" height="4.16" fill="#eab954"/>
<path d="M310.44 625.28L312.14 626.98M312.14 625.28L310.44 626.98" stroke="#3c3028" stroke-opacity="0.32" stroke-width="0.7"/>
<rect x="313.63" y="619.6" width="4.16" height="4.16" fill="#eab954"/>
<path d="M314.86 620.83L316.56 622.53M316.56 620.83L314.86 622.53" stroke="#3c3028" stroke-opacity="0.32" stroke-width="0.7"/>
<rect x="318.06" y="615.15" width="4.16" height="4.16" fill="#cb2629"/>
<path d="M319.29 616.38L320.99 618.08M320.99 616.38L319.29 618.08" stroke="#3c3028" stroke-opacity="0.32" stroke-width="0.7"/>
<rect x="322.49" y="610.71" width="4.16" height="4.16" fill="#8f1228"/>
<path d="M323.72 611.94L325.42 613.64M325.42 611.94L323.72 613.64" stroke="#3c3028" stroke-opacity="0.32" stroke-width="0.7"/>
<rect x="326.91" y="606.26" width="4.16" height="4.16" fill="#d9603a"/>
<path d="M328.14 607.49L329.84 609.19M329.84 607.49L328.14 609.19" stroke="#3c3028" stroke-opacity="0.32" stroke-width="0.7"/>
<rect x="331.34" y="601.81" width="4.16" height="4.16" fill="#e29a44"/>
<path d="M332.57 603.04L334.27 604.74M334.27 603.04L332.57 604.74" stroke="#3c3028" stroke-opacity="0.32" stroke-width="0.7"/>
<rect x="335.76" y="597.36" width="4.16" height="4.16" fill="#f6f0a4"/>
<path d="M336.99 598.59L338.69 600.29M338.69 598.59L336.99 600.29" stroke="#3e4518" stroke-opacity="0.48" stroke-width="0.7"/>
<rect x="340.19" y="592.92" width="4.16" height="4.16" fill="#d9603a"/>
<path d="M341.42 594.15L343.12 595.85M343.12 594.15L341.42 595.85" stroke="#3c3028" stroke-opacity="0.32" stroke-width="0.7"/>
<rect x="346.14" y="461.02" width="1.1" height="1.1" fill="#6a7078" fill-opacity="0.35"/>
<rect x="344.61" y="588.47" width="4.16" height="4.16" fill="#cb2629"/>
<path d="M345.84 589.7L347.54 591.4M347.54 589.7L345.84 591.4" stroke="#3c3028" stroke-opacity="0.32" stroke-width="0.7"/>
<rect x="349.04" y="584.02" width="4.16" height="4.16" fill="#dc7a3c"/>
<path d="M350.27 585.25L351.97 586.95M351.97 585.25L350.27 586.95" stroke="#3c3028" stroke-opacity="0.32" stroke-width="0.7"/>
<rect x="353.46" y="579.57" width="4.16" height="4.16" fill="#e29a44"/>
<path d="M354.69 580.8L356.39 582.5M356.39 580.8L354.69 582.5" stroke="#3c3028" stroke-opacity="0.32" stroke-width="0.7"/>
<rect x="357.89" y="575.13" width="4.16" height="4.16" fill="#f6f0a4"/>
<path d="M359.12 576.36L360.82 578.06M360.82 576.36L359.12 578.06" stroke="#3e4518" stroke-opacity="0.48" stroke-width="0.7"/>
<rect x="362.32" y="570.68" width="4.16" height="4.16" fill="#f3d77c"/>
<path d="M363.55 571.91L365.25 573.61M365.25 571.91L363.55 573.61" stroke="#3e4518" stroke-opacity="0.32" stroke-width="0.7"/>
<rect x="366.74" y="566.23" width="4.16" height="4.16" fill="#d9603a"/>
<path d="M367.97 567.46L369.67 569.16M369.67 567.46L367.97 569.16" stroke="#3c3028" stroke-opacity="0.32" stroke-width="0.7"/>
<rect x="371.17" y="561.78" width="4.16" height="4.16" fill="#e29a44"/>
<path d="M372.4 563.01L374.1 564.71M374.1 563.01L372.4 564.71" stroke="#3c3028" stroke-opacity="0.32" stroke-width="0.7"/>
<rect x="377.12" y="509.95" width="1.1" height="1.1" fill="#6a7078" fill-opacity="0.35"/>
<rect x="375.59" y="557.34" width="4.16" height="4.16" fill="#f6f0a4"/>
<path d="M376.82 558.57L378.52 560.27M378.52 558.57L376.82 560.27" stroke="#3e4518" stroke-opacity="0.48" stroke-width="0.7"/>
<rect x="380.02" y="552.89" width="4.16" height="4.16" fill="#f6f0a4"/>
<path d="M381.25 554.12L382.95 555.82M382.95 554.12L381.25 555.82" stroke="#3e4518" stroke-opacity="0.48" stroke-width="0.7"/>
<rect x="384.44" y="548.44" width="4.16" height="4.16" fill="#f6f0a4"/>
<path d="M385.67 549.67L387.37 551.37M387.37 549.67L385.67 551.37" stroke="#3e4518" stroke-opacity="0.48" stroke-width="0.7"/>
<rect x="388.87" y="543.99" width="4.16" height="4.16" fill="#b5152a"/>
<path d="M390.1 545.23L391.8 546.93M391.8 545.23L390.1 546.93" stroke="#3c3028" stroke-opacity="0.32" stroke-width="0.7"/>
<rect x="393.3" y="539.55" width="4.16" height="4.16" fill="#f3d77c"/>
<path d="M394.53 540.78L396.23 542.48M396.23 540.78L394.53 542.48" stroke="#3e4518" stroke-opacity="0.32" stroke-width="0.7"/>
<rect x="397.72" y="535.1" width="4.16" height="4.16" fill="#d9603a"/>
<path d="M398.95 536.33L400.65 538.03M400.65 536.33L398.95 538.03" stroke="#3c3028" stroke-opacity="0.32" stroke-width="0.7"/>
<rect x="402.15" y="530.65" width="4.16" height="4.16" fill="#e29a44"/>
<path d="M403.38 531.88L405.08 533.58M405.08 531.88L403.38 533.58" stroke="#3c3028" stroke-opacity="0.32" stroke-width="0.7"/>
<rect x="406.57" y="526.21" width="4.16" height="4.16" fill="#d9603a"/>
<path d="M407.8 527.44L409.5 529.14M409.5 527.44L407.8 529.14" stroke="#3c3028" stroke-opacity="0.32" stroke-width="0.7"/>
<rect x="412.53" y="523.29" width="1.1" height="1.1" fill="#6a7078" fill-opacity="0.35"/>
<rect x="415.42" y="517.31" width="4.16" height="4.16" fill="#f6f0a4"/>
<path d="M416.65 518.54L418.35 520.24M418.35 518.54L416.65 520.24" stroke="#3e4518" stroke-opacity="0.48" stroke-width="0.7"/>
<rect x="419.85" y="512.86" width="4.16" height="4.16" fill="#d9603a"/>
<path d="M421.08 514.09L422.78 515.79M422.78 514.09L421.08 515.79" stroke="#3c3028" stroke-opacity="0.32" stroke-width="0.7"/>
<rect x="424.28" y="508.42" width="4.16" height="4.16" fill="#f6f0a4"/>
<path d="M425.51 509.65L427.21 511.35M427.21 509.65L425.51 511.35" stroke="#3e4518" stroke-opacity="0.48" stroke-width="0.7"/>
<rect x="430.23" y="505.5" width="1.1" height="1.1" fill="#6a7078" fill-opacity="0.35"/>
<rect x="433.13" y="499.52" width="4.16" height="4.16" fill="#f6f0a4"/>
<path d="M434.36 500.75L436.06 502.45M436.06 500.75L434.36 502.45" stroke="#3e4518" stroke-opacity="0.48" stroke-width="0.7"/>
<rect x="437.55" y="495.07" width="4.16" height="4.16" fill="#f6f0a4"/>
<path d="M438.78 496.3L440.48 498M440.48 496.3L438.78 498" stroke="#3e4518" stroke-opacity="0.48" stroke-width="0.7"/>
<rect x="441.98" y="490.63" width="4.16" height="4.16" fill="#f6f0a4"/>
<path d="M443.21 491.86L444.91 493.56M444.91 491.86L443.21 493.56" stroke="#3e4518" stroke-opacity="0.48" stroke-width="0.7"/>
<rect x="446.4" y="486.18" width="4.16" height="4.16" fill="#cb2629"/>
<path d="M447.63 487.41L449.33 489.11M449.33 487.41L447.63 489.11" stroke="#3c3028" stroke-opacity="0.32" stroke-width="0.7"/>
<rect x="450.83" y="481.73" width="4.16" height="4.16" fill="#d9603a"/>
<path d="M452.06 482.96L453.76 484.66M453.76 482.96L452.06 484.66" stroke="#3c3028" stroke-opacity="0.32" stroke-width="0.7"/>
<rect x="455.25" y="459.49" width="4.16" height="4.16" fill="#eab954"/>
<path d="M456.48 460.72L458.18 462.42M458.18 460.72L456.48 462.42" stroke="#3c3028" stroke-opacity="0.32" stroke-width="0.7"/>
<rect x="456.78" y="465.47" width="1.1" height="1.1" fill="#6a7078" fill-opacity="0.35"/>
<rect x="456.78" y="469.92" width="1.1" height="1.1" fill="#6a7078" fill-opacity="0.35"/>
<rect x="455.25" y="477.28" width="4.16" height="4.16" fill="#e29a44"/>
<path d="M456.48 478.51L458.18 480.21M458.18 478.51L456.48 480.21" stroke="#3c3028" stroke-opacity="0.32" stroke-width="0.7"/>
<rect x="456.78" y="487.71" width="1.1" height="1.1" fill="#6a7078" fill-opacity="0.35"/>
<rect x="456.78" y="518.84" width="1.1" height="1.1" fill="#6a7078" fill-opacity="0.35"/>
<rect x="456.78" y="541.08" width="1.1" height="1.1" fill="#6a7078" fill-opacity="0.35"/>
<rect x="456.78" y="545.53" width="1.1" height="1.1" fill="#6a7078" fill-opacity="0.35"/>
<rect x="456.78" y="563.31" width="1.1" height="1.1" fill="#6a7078" fill-opacity="0.35"/>
<rect x="456.78" y="590" width="1.1" height="1.1" fill="#6a7078" fill-opacity="0.35"/>
<rect x="459.68" y="472.84" width="4.16" height="4.16" fill="#dc7a3c"/>
<path d="M460.91 474.07L462.61 475.77M462.61 474.07L460.91 475.77" stroke="#3c3028" stroke-opacity="0.32" stroke-width="0.7"/>
<rect x="465.64" y="461.02" width="1.1" height="1.1" fill="#6a7078" fill-opacity="0.35"/>
<rect x="464.11" y="463.94" width="4.16" height="4.16" fill="#eab954"/>
<path d="M465.34 465.17L467.04 466.87M467.04 465.17L465.34 466.87" stroke="#3c3028" stroke-opacity="0.32" stroke-width="0.7"/>
<rect x="464.11" y="468.39" width="4.16" height="4.16" fill="#d9603a"/>
<path d="M465.34 469.62L467.04 471.32M467.04 469.62L465.34 471.32" stroke="#3c3028" stroke-opacity="0.32" stroke-width="0.7"/>
<rect x="468.53" y="463.94" width="4.16" height="4.16" fill="#e29a44"/>
<path d="M469.76 465.17L471.46 466.87M471.46 465.17L469.76 466.87" stroke="#3c3028" stroke-opacity="0.32" stroke-width="0.7"/>
<rect x="468.53" y="468.39" width="4.16" height="4.16" fill="#f6f0a4"/>
<path d="M469.76 469.62L471.46 471.32M471.46 469.62L469.76 471.32" stroke="#3e4518" stroke-opacity="0.48" stroke-width="0.7"/>
<rect x="472.96" y="459.49" width="4.16" height="4.16" fill="#eab954"/>
<path d="M474.19 460.72L475.89 462.42M475.89 460.72L474.19 462.42" stroke="#3c3028" stroke-opacity="0.32" stroke-width="0.7"/>
<rect x="474.49" y="469.92" width="1.1" height="1.1" fill="#6a7078" fill-opacity="0.35"/>
<rect x="472.96" y="477.28" width="4.16" height="4.16" fill="#e29a44"/>
<path d="M474.19 478.51L475.89 480.21M475.89 478.51L474.19 480.21" stroke="#3c3028" stroke-opacity="0.32" stroke-width="0.7"/>
<rect x="304.35" y="459.3" width="173.15" height="173.9" fill="none" stroke="#a9a9a9" stroke-width="1.2"/>
<path d="M304.35 461.57h-1.2M306.86 633.2v1.2M304.35 466.02h-1.2M311.29 633.2v1.2M304.35 470.47h-1.2M315.71 633.2v1.2M304.35 474.92h-1.2M320.14 633.2v1.2M304.35 479.36h-1.2M324.57 633.2v1.2M304.35 483.81h-1.2M328.99 633.2v1.2M304.35 488.26h-1.2M333.42 633.2v1.2M304.35 492.71h-1.2M337.84 633.2v1.2M304.35 497.15h-1.2M342.27 633.2v1.2M304.35 501.6h-1.2M346.69 633.2v1.2M304.35 506.05h-1.2M351.12 633.2v1.2M304.35 510.5h-1.2M355.54 633.2v1.2M304.35 514.94h-1.2M359.97 633.2v1.2M304.35 519.39h-1.2M364.4 633.2v1.2M304.35 523.84h-1.2M368.82 633.2v1.2M304.35 528.29h-1.2M373.25 633.2v1.2M304.35 532.73h-1.2M377.67 633.2v1.2M304.35 537.18h-1.2M382.1 633.2v1.2M304.35 541.63h-1.2M386.52 633.2v1.2M304.35 546.08h-1.2M390.95 633.2v1.2M304.35 550.52h-1.2M395.38 633.2v1.2M304.35 554.97h-1.2M399.8 633.2v1.2M304.35 559.42h-1.2M404.23 633.2v1.2M304.35 563.86h-1.2M408.65 633.2v1.2M304.35 568.31h-1.2M413.08 633.2v1.2M304.35 572.76h-1.2M417.5 633.2v1.2M304.35 577.21h-1.2M421.93 633.2v1.2M304.35 581.65h-1.2M426.36 633.2v1.2M304.35 586.1h-1.2M430.78 633.2v1.2M304.35 590.55h-1.2M435.21 633.2v1.2M304.35 595h-1.2M439.63 633.2v1.2M304.35 599.44h-1.2M444.06 633.2v1.2M304.35 603.89h-1.2M448.48 633.2v1.2M304.35 608.34h-1.2M452.91 633.2v1.2M304.35 612.79h-1.2M457.33 633.2v1.2M304.35 617.23h-1.2M461.76 633.2v1.2M304.35 621.68h-1.2M466.19 633.2v1.2M304.35 626.13h-1.2M470.61 633.2v1.2M304.35 630.58h-1.2M475.04 633.2v1.2" stroke="#777" stroke-width="0.5" fill="none"/>
<g class="tl" font-size="2.85" text-anchor="end"><text transform="translate(302.75 462.57) rotate(0.1)">WikiGene</text><text transform="translate(302.75 467.02) rotate(0.1)">Uniprot Swiss-prot</text><text transform="translate(302.75 471.47) rotate(0.1)">Uniprot TrEMBL</text><text transform="translate(302.75 475.91) rotate(0.1)">Uniprot isoform</text><text transform="translate(302.75 480.36) rotate(0.1)">Uniprot gene</text><text transform="translate(302.75 484.81) rotate(0.1)">Uniprot archive</text><text transform="translate(302.75 489.26) rotate(0.1)">UCSC</text><text transform="translate(302.75 493.7) rotate(0.1)">TIGRFAMs</text><text transform="translate(302.75 498.15) rotate(0.1)">SUPERFAMILY</text><text transform="translate(302.75 502.6) rotate(0.1)">SMART</text><text transform="translate(302.75 507.05) rotate(0.1)">SFLD</text><text transform="translate(302.75 511.49) rotate(0.1)">RoseProtein</text><text transform="translate(302.75 515.94) rotate(0.1)">RNAcentral</text><text transform="translate(302.75 520.39) rotate(0.1)">RNA transcript</text><text transform="translate(302.75 524.84) rotate(0.1)">Rfam</text><text transform="translate(302.75 529.28) rotate(0.1)">Refseq peptide</text><text transform="translate(302.75 533.73) rotate(0.1)">Refseq mrna</text><text transform="translate(302.75 538.18) rotate(0.1)">Refseq ncrna</text><text transform="translate(302.75 542.63) rotate(0.1)">Reactome</text><text transform="translate(302.75 547.07) rotate(0.1)">PANDC</text><text transform="translate(302.75 551.52) rotate(0.1)">PROSITE</text><text transform="translate(302.75 555.97) rotate(0.1)">PRINTS</text><text transform="translate(302.75 560.41) rotate(0.1)">pfScan</text><text transform="translate(302.75 564.86) rotate(0.1)">Pfam</text><text transform="translate(302.75 569.31) rotate(0.1)">PDB</text><text transform="translate(302.75 573.76) rotate(0.1)">miRBase</text><text transform="translate(302.75 578.2) rotate(0.1)">Merops</text><text transform="translate(302.75 582.65) rotate(0.1)">Interpro</text><text transform="translate(302.75 587.1) rotate(0.1)">PANTHER</text><text transform="translate(302.75 591.55) rotate(0.1)">HGNC Transcript</text><text transform="translate(302.75 595.99) rotate(0.1)">HGNC</text><text transform="translate(302.75 600.44) rotate(0.1)">HAMAP</text><text transform="translate(302.75 604.89) rotate(0.1)">Entrez Gene</text><text transform="translate(302.75 609.34) rotate(0.1)">Ensembl gene</text><text transform="translate(302.75 613.78) rotate(0.1)">Ensembl exon</text><text transform="translate(302.75 618.23) rotate(0.1)">EMBL</text><text transform="translate(302.75 622.68) rotate(0.1)">ChEMBL</text><text transform="translate(302.75 627.13) rotate(0.1)">CDD</text><text transform="translate(302.75 631.57) rotate(0.1)">CCDS</text></g>
<g class="tl" font-size="2.85" text-anchor="end"><text transform="translate(308.26 636.1) rotate(-46)">CCDS</text><text transform="translate(312.69 636.1) rotate(-46)">CDD</text><text transform="translate(317.11 636.1) rotate(-46)">ChEMBL</text><text transform="translate(321.54 636.1) rotate(-46)">EMBL</text><text transform="translate(325.97 636.1) rotate(-46)">Ensembl exon</text><text transform="translate(330.39 636.1) rotate(-46)">Ensembl gene</text><text transform="translate(334.82 636.1) rotate(-46)">Entrez Gene</text><text transform="translate(339.24 636.1) rotate(-46)">HAMAP</text><text transform="translate(343.67 636.1) rotate(-46)">HGNC</text><text transform="translate(348.09 636.1) rotate(-46)">HGNC Transcript</text><text transform="translate(352.52 636.1) rotate(-46)">PANTHER</text><text transform="translate(356.94 636.1) rotate(-46)">Interpro</text><text transform="translate(361.37 636.1) rotate(-46)">Merops</text><text transform="translate(365.8 636.1) rotate(-46)">miRBase</text><text transform="translate(370.22 636.1) rotate(-46)">PDB</text><text transform="translate(374.65 636.1) rotate(-46)">Pfam</text><text transform="translate(379.07 636.1) rotate(-46)">pfScan</text><text transform="translate(383.5 636.1) rotate(-46)">PRINTS</text><text transform="translate(387.92 636.1) rotate(-46)">PROSITE</text><text transform="translate(392.35 636.1) rotate(-46)">PANDC</text><text transform="translate(396.78 636.1) rotate(-46)">Reactome</text><text transform="translate(401.2 636.1) rotate(-46)">Refseq ncrna</text><text transform="translate(405.63 636.1) rotate(-46)">Refseq mrna</text><text transform="translate(410.05 636.1) rotate(-46)">Refseq peptide</text><text transform="translate(414.48 636.1) rotate(-46)">Rfam</text><text transform="translate(418.9 636.1) rotate(-46)">RNA transcript</text><text transform="translate(423.33 636.1) rotate(-46)">RNAcentral</text><text transform="translate(427.76 636.1) rotate(-46)">RoseProtein</text><text transform="translate(432.18 636.1) rotate(-46)">SFLD</text><text transform="translate(436.61 636.1) rotate(-46)">SMART</text><text transform="translate(441.03 636.1) rotate(-46)">SUPERFAMILY</text><text transform="translate(445.46 636.1) rotate(-46)">TIGRFAMs</text><text transform="translate(449.88 636.1) rotate(-46)">UCSC</text><text transform="translate(454.31 636.1) rotate(-46)">Uniprot archive</text><text transform="translate(458.73 636.1) rotate(-46)">Uniprot gene</text><text transform="translate(463.16 636.1) rotate(-46)">Uniprot isoform</text><text transform="translate(467.59 636.1) rotate(-46)">Uniprot TrEMBL</text><text transform="translate(472.01 636.1) rotate(-46)">Uniprot Swiss-prot</text><text transform="translate(476.44 636.1) rotate(-46)">WikiGene</text></g>
<rect x="41.93" y="847.91" width="4.15" height="4.15" fill="#e29a44"/>
<path d="M43.16 849.14L44.86 850.84M44.86 849.14L43.16 850.84" stroke="#3c3028" stroke-opacity="0.32" stroke-width="0.7"/>
<rect x="46.35" y="843.48" width="4.15" height="4.15" fill="#eab954"/>
<path d="M47.58 844.71L49.28 846.41M49.28 844.71L47.58 846.41" stroke="#3c3028" stroke-opacity="0.32" stroke-width="0.7"/>
<rect x="50.77" y="839.05" width="4.15" height="4.15" fill="#eab954"/>
<path d="M51.99 840.28L53.69 841.98M53.69 840.28L51.99 841.98" stroke="#3c3028" stroke-opacity="0.32" stroke-width="0.7"/>
<rect x="56.71" y="685.54" width="1.1" height="1.1" fill="#6a7078" fill-opacity="0.35"/>
<rect x="56.71" y="698.83" width="1.1" height="1.1" fill="#6a7078" fill-opacity="0.35"/>
<rect x="56.71" y="809.57" width="1.1" height="1.1" fill="#6a7078" fill-opacity="0.35"/>
<rect x="55.19" y="834.62" width="4.15" height="4.15" fill="#cb2629"/>
<path d="M56.41 835.85L58.11 837.55M58.11 835.85L56.41 837.55" stroke="#3c3028" stroke-opacity="0.32" stroke-width="0.7"/>
<rect x="59.6" y="830.19" width="4.15" height="4.15" fill="#8f1228"/>
<path d="M60.83 831.42L62.53 833.12M62.53 831.42L60.83 833.12" stroke="#3c3028" stroke-opacity="0.32" stroke-width="0.7"/>
<rect x="64.02" y="825.76" width="4.15" height="4.15" fill="#d9603a"/>
<path d="M65.25 826.99L66.95 828.69M66.95 826.99L65.25 828.69" stroke="#3c3028" stroke-opacity="0.32" stroke-width="0.7"/>
<rect x="68.44" y="821.33" width="4.15" height="4.15" fill="#e29a44"/>
<path d="M69.67 822.56L71.37 824.26M71.37 822.56L69.67 824.26" stroke="#3c3028" stroke-opacity="0.32" stroke-width="0.7"/>
<rect x="72.86" y="816.9" width="4.15" height="4.15" fill="#f6f0a4"/>
<path d="M74.08 818.13L75.78 819.83M75.78 818.13L74.08 819.83" stroke="#3e4518" stroke-opacity="0.48" stroke-width="0.7"/>
<rect x="77.28" y="812.47" width="4.15" height="4.15" fill="#d9603a"/>
<path d="M78.5 813.7L80.2 815.4M80.2 813.7L78.5 815.4" stroke="#3c3028" stroke-opacity="0.32" stroke-width="0.7"/>
<rect x="81.69" y="679.59" width="4.15" height="4.15" fill="#f6f0a4"/>
<path d="M82.92 680.81L84.62 682.51M84.62 680.81L82.92 682.51" stroke="#3e4518" stroke-opacity="0.48" stroke-width="0.7"/>
<rect x="83.22" y="689.97" width="1.1" height="1.1" fill="#6a7078" fill-opacity="0.35"/>
<rect x="81.69" y="697.31" width="4.15" height="4.15" fill="#f6f0a4"/>
<path d="M82.92 698.53L84.62 700.23M84.62 698.53L82.92 700.23" stroke="#3e4518" stroke-opacity="0.48" stroke-width="0.7"/>
<rect x="83.22" y="738.7" width="1.1" height="1.1" fill="#6a7078" fill-opacity="0.35"/>
<rect x="83.22" y="796.28" width="1.1" height="1.1" fill="#6a7078" fill-opacity="0.35"/>
<rect x="81.69" y="808.04" width="4.15" height="4.15" fill="#cb2629"/>
<path d="M82.92 809.27L84.62 810.97M84.62 809.27L82.92 810.97" stroke="#3c3028" stroke-opacity="0.32" stroke-width="0.7"/>
<rect x="83.22" y="840.58" width="1.1" height="1.1" fill="#6a7078" fill-opacity="0.35"/>
<rect x="86.11" y="803.61" width="4.15" height="4.15" fill="#dc7a3c"/>
<path d="M87.34 804.84L89.04 806.54M89.04 804.84L87.34 806.54" stroke="#3c3028" stroke-opacity="0.32" stroke-width="0.7"/>
<rect x="90.53" y="799.18" width="4.15" height="4.15" fill="#e29a44"/>
<path d="M91.76 800.41L93.46 802.11M93.46 800.41L91.76 802.11" stroke="#3c3028" stroke-opacity="0.32" stroke-width="0.7"/>
<rect x="94.95" y="794.75" width="4.15" height="4.15" fill="#f6f0a4"/>
<path d="M96.17 795.98L97.87 797.68M97.87 795.98L96.17 797.68" stroke="#3e4518" stroke-opacity="0.48" stroke-width="0.7"/>
<rect x="99.37" y="790.33" width="4.15" height="4.15" fill="#f3d77c"/>
<path d="M100.59 791.55L102.29 793.25M102.29 791.55L100.59 793.25" stroke="#3e4518" stroke-opacity="0.32" stroke-width="0.7"/>
<rect x="103.78" y="785.9" width="4.15" height="4.15" fill="#d9603a"/>
<path d="M105.01 787.12L106.71 788.82M106.71 787.12L105.01 788.82" stroke="#3c3028" stroke-opacity="0.32" stroke-width="0.7"/>
<rect x="105.31" y="840.58" width="1.1" height="1.1" fill="#6a7078" fill-opacity="0.35"/>
<rect x="108.2" y="781.47" width="4.15" height="4.15" fill="#e29a44"/>
<path d="M109.43 782.69L111.13 784.39M111.13 782.69L109.43 784.39" stroke="#3c3028" stroke-opacity="0.32" stroke-width="0.7"/>
<rect x="114.15" y="729.84" width="1.1" height="1.1" fill="#6a7078" fill-opacity="0.35"/>
<rect x="112.62" y="777.04" width="4.15" height="4.15" fill="#f6f0a4"/>
<path d="M113.85 778.26L115.55 779.96M115.55 778.26L113.85 779.96" stroke="#3e4518" stroke-opacity="0.48" stroke-width="0.7"/>
<rect x="117.04" y="772.61" width="4.15" height="4.15" fill="#f6f0a4"/>
<path d="M118.26 773.83L119.96 775.53M119.96 773.83L118.26 775.53" stroke="#3e4518" stroke-opacity="0.48" stroke-width="0.7"/>
<rect x="121.46" y="768.18" width="4.15" height="4.15" fill="#f6f0a4"/>
<path d="M122.68 769.4L124.38 771.1M124.38 769.4L122.68 771.1" stroke="#3e4518" stroke-opacity="0.48" stroke-width="0.7"/>
<rect x="127.4" y="716.55" width="1.1" height="1.1" fill="#6a7078" fill-opacity="0.35"/>
<rect x="125.87" y="763.75" width="4.15" height="4.15" fill="#b5152a"/>
<path d="M127.1 764.98L128.8 766.68M128.8 764.98L127.1 766.68" stroke="#3c3028" stroke-opacity="0.32" stroke-width="0.7"/>
<rect x="130.29" y="759.32" width="4.15" height="4.15" fill="#f3d77c"/>
<path d="M131.52 760.55L133.22 762.25M133.22 760.55L131.52 762.25" stroke="#3e4518" stroke-opacity="0.32" stroke-width="0.7"/>
<rect x="134.71" y="754.89" width="4.15" height="4.15" fill="#d9603a"/>
<path d="M135.94 756.12L137.64 757.82M137.64 756.12L135.94 757.82" stroke="#3c3028" stroke-opacity="0.32" stroke-width="0.7"/>
<rect x="139.13" y="750.46" width="4.15" height="4.15" fill="#e29a44"/>
<path d="M140.35 751.69L142.05 753.39M142.05 751.69L140.35 753.39" stroke="#3c3028" stroke-opacity="0.32" stroke-width="0.7"/>
<rect x="143.55" y="746.03" width="4.15" height="4.15" fill="#d9603a"/>
<path d="M144.77 747.26L146.47 748.96M146.47 747.26L144.77 748.96" stroke="#3c3028" stroke-opacity="0.32" stroke-width="0.7"/>
<rect x="149.49" y="743.13" width="1.1" height="1.1" fill="#6a7078" fill-opacity="0.35"/>
<rect x="152.38" y="737.17" width="4.15" height="4.15" fill="#f6f0a4"/>
<path d="M153.61 738.4L155.31 740.1M155.31 738.4L153.61 740.1" stroke="#3e4518" stroke-opacity="0.48" stroke-width="0.7"/>
<rect x="156.8" y="732.74" width="4.15" height="4.15" fill="#d9603a"/>
<path d="M158.03 733.97L159.73 735.67M159.73 733.97L158.03 735.67" stroke="#3c3028" stroke-opacity="0.32" stroke-width="0.7"/>
<rect x="161.22" y="728.31" width="4.15" height="4.15" fill="#f6f0a4"/>
<path d="M162.44 729.54L164.14 731.24M164.14 729.54L162.44 731.24" stroke="#3e4518" stroke-opacity="0.48" stroke-width="0.7"/>
<rect x="162.74" y="769.7" width="1.1" height="1.1" fill="#6a7078" fill-opacity="0.35"/>
<rect x="167.16" y="725.41" width="1.1" height="1.1" fill="#6a7078" fill-opacity="0.35"/>
<rect x="170.05" y="719.45" width="4.15" height="4.15" fill="#f6f0a4"/>
<path d="M171.28 720.68L172.98 722.38M172.98 720.68L171.28 722.38" stroke="#3e4518" stroke-opacity="0.48" stroke-width="0.7"/>
<rect x="171.58" y="782.99" width="1.1" height="1.1" fill="#6a7078" fill-opacity="0.35"/>
<rect x="174.47" y="715.02" width="4.15" height="4.15" fill="#f6f0a4"/>
<path d="M175.7 716.25L177.4 717.95M177.4 716.25L175.7 717.95" stroke="#3e4518" stroke-opacity="0.48" stroke-width="0.7"/>
<rect x="178.89" y="710.59" width="4.15" height="4.15" fill="#f6f0a4"/>
<path d="M180.12 711.82L181.82 713.52M181.82 711.82L180.12 713.52" stroke="#3e4518" stroke-opacity="0.48" stroke-width="0.7"/>
<rect x="183.31" y="706.17" width="4.15" height="4.15" fill="#cb2629"/>
<path d="M184.53 707.39L186.23 709.09M186.23 707.39L184.53 709.09" stroke="#3c3028" stroke-opacity="0.32" stroke-width="0.7"/>
<rect x="187.72" y="701.74" width="4.15" height="4.15" fill="#d9603a"/>
<path d="M188.95 702.96L190.65 704.66M190.65 702.96L188.95 704.66" stroke="#3c3028" stroke-opacity="0.32" stroke-width="0.7"/>
<rect x="192.14" y="679.59" width="4.15" height="4.15" fill="#eab954"/>
<path d="M193.37 680.81L195.07 682.51M195.07 680.81L193.37 682.51" stroke="#3c3028" stroke-opacity="0.32" stroke-width="0.7"/>
<rect x="193.67" y="689.97" width="1.1" height="1.1" fill="#6a7078" fill-opacity="0.35"/>
<rect x="192.14" y="697.31" width="4.15" height="4.15" fill="#e29a44"/>
<path d="M193.37 698.53L195.07 700.23M195.07 698.53L193.37 700.23" stroke="#3c3028" stroke-opacity="0.32" stroke-width="0.7"/>
<rect x="193.67" y="765.28" width="1.1" height="1.1" fill="#6a7078" fill-opacity="0.35"/>
<rect x="193.67" y="787.42" width="1.1" height="1.1" fill="#6a7078" fill-opacity="0.35"/>
<rect x="193.67" y="809.57" width="1.1" height="1.1" fill="#6a7078" fill-opacity="0.35"/>
<rect x="193.67" y="836.15" width="1.1" height="1.1" fill="#6a7078" fill-opacity="0.35"/>
<rect x="196.56" y="692.88" width="4.15" height="4.15" fill="#dc7a3c"/>
<path d="M197.79 694.1L199.49 695.8M199.49 694.1L197.79 695.8" stroke="#3c3028" stroke-opacity="0.32" stroke-width="0.7"/>
<rect x="202.51" y="681.11" width="1.1" height="1.1" fill="#6a7078" fill-opacity="0.35"/>
<rect x="200.98" y="684.02" width="4.15" height="4.15" fill="#f6f0a4"/>
<path d="M202.21 685.24L203.91 686.94M203.91 685.24L202.21 686.94" stroke="#3e4518" stroke-opacity="0.48" stroke-width="0.7"/>
<rect x="200.98" y="688.45" width="4.15" height="4.15" fill="#d9603a"/>
<path d="M202.21 689.67L203.91 691.37M203.91 689.67L202.21 691.37" stroke="#3c3028" stroke-opacity="0.32" stroke-width="0.7"/>
<rect x="205.4" y="684.02" width="4.15" height="4.15" fill="#e29a44"/>
<path d="M206.62 685.24L208.32 686.94M208.32 685.24L206.62 686.94" stroke="#3c3028" stroke-opacity="0.32" stroke-width="0.7"/>
<rect x="205.4" y="688.45" width="4.15" height="4.15" fill="#f6f0a4"/>
<path d="M206.62 689.67L208.32 691.37M208.32 689.67L206.62 691.37" stroke="#3e4518" stroke-opacity="0.48" stroke-width="0.7"/>
<rect x="209.81" y="679.59" width="4.15" height="4.15" fill="#eab954"/>
<path d="M211.04 680.81L212.74 682.51M212.74 680.81L211.04 682.51" stroke="#3c3028" stroke-opacity="0.32" stroke-width="0.7"/>
<rect x="211.34" y="689.97" width="1.1" height="1.1" fill="#6a7078" fill-opacity="0.35"/>
<rect x="209.81" y="697.31" width="4.15" height="4.15" fill="#e29a44"/>
<path d="M211.04 698.53L212.74 700.23M212.74 698.53L211.04 700.23" stroke="#3c3028" stroke-opacity="0.32" stroke-width="0.7"/>
<rect x="41.5" y="679.4" width="172.85" height="173.2" fill="none" stroke="#a9a9a9" stroke-width="1.2"/>
<path d="M41.5 681.66h-1.2M44.01 852.6v1.2M41.5 686.09h-1.2M48.43 852.6v1.2M41.5 690.52h-1.2M52.84 852.6v1.2M41.5 694.95h-1.2M57.26 852.6v1.2M41.5 699.38h-1.2M61.68 852.6v1.2M41.5 703.81h-1.2M66.1 852.6v1.2M41.5 708.24h-1.2M70.52 852.6v1.2M41.5 712.67h-1.2M74.93 852.6v1.2M41.5 717.1h-1.2M79.35 852.6v1.2M41.5 721.53h-1.2M83.77 852.6v1.2M41.5 725.96h-1.2M88.19 852.6v1.2M41.5 730.39h-1.2M92.61 852.6v1.2M41.5 734.82h-1.2M97.02 852.6v1.2M41.5 739.25h-1.2M101.44 852.6v1.2M41.5 743.68h-1.2M105.86 852.6v1.2M41.5 748.11h-1.2M110.28 852.6v1.2M41.5 752.54h-1.2M114.7 852.6v1.2M41.5 756.97h-1.2M119.11 852.6v1.2M41.5 761.4h-1.2M123.53 852.6v1.2M41.5 765.83h-1.2M127.95 852.6v1.2M41.5 770.25h-1.2M132.37 852.6v1.2M41.5 774.68h-1.2M136.79 852.6v1.2M41.5 779.11h-1.2M141.2 852.6v1.2M41.5 783.54h-1.2M145.62 852.6v1.2M41.5 787.97h-1.2M150.04 852.6v1.2M41.5 792.4h-1.2M154.46 852.6v1.2M41.5 796.83h-1.2M158.88 852.6v1.2M41.5 801.26h-1.2M163.29 852.6v1.2M41.5 805.69h-1.2M167.71 852.6v1.2M41.5 810.12h-1.2M172.13 852.6v1.2M41.5 814.55h-1.2M176.55 852.6v1.2M41.5 818.98h-1.2M180.97 852.6v1.2M41.5 823.41h-1.2M185.38 852.6v1.2M41.5 827.84h-1.2M189.8 852.6v1.2M41.5 832.27h-1.2M194.22 852.6v1.2M41.5 836.7h-1.2M198.64 852.6v1.2M41.5 841.13h-1.2M203.06 852.6v1.2M41.5 845.56h-1.2M207.47 852.6v1.2M41.5 849.99h-1.2M211.89 852.6v1.2" stroke="#777" stroke-width="0.5" fill="none"/>
<g class="tl" font-size="2.85" text-anchor="end"><text transform="translate(39.9 682.66) rotate(0.1)">WikiGene</text><text transform="translate(39.9 687.09) rotate(0.1)">Uniprot Swiss-prot</text><text transform="translate(39.9 691.52) rotate(0.1)">Uniprot TrEMBL</text><text transform="translate(39.9 695.95) rotate(0.1)">Uniprot isoform</text><text transform="translate(39.9 700.38) rotate(0.1)">Uniprot gene</text><text transform="translate(39.9 704.81) rotate(0.1)">Uniprot archive</text><text transform="translate(39.9 709.24) rotate(0.1)">UCSC</text><text transform="translate(39.9 713.67) rotate(0.1)">TIGRFAMs</text><text transform="translate(39.9 718.1) rotate(0.1)">SUPERFAMILY</text><text transform="translate(39.9 722.53) rotate(0.1)">SMART</text><text transform="translate(39.9 726.96) rotate(0.1)">SFLD</text><text transform="translate(39.9 731.39) rotate(0.1)">RoseProtein</text><text transform="translate(39.9 735.82) rotate(0.1)">RNAcentral</text><text transform="translate(39.9 740.25) rotate(0.1)">RNA transcript</text><text transform="translate(39.9 744.68) rotate(0.1)">Rfam</text><text transform="translate(39.9 749.1) rotate(0.1)">Refseq peptide</text><text transform="translate(39.9 753.53) rotate(0.1)">Refseq mrna</text><text transform="translate(39.9 757.96) rotate(0.1)">Refseq ncrna</text><text transform="translate(39.9 762.39) rotate(0.1)">Reactome</text><text transform="translate(39.9 766.82) rotate(0.1)">PANDC</text><text transform="translate(39.9 771.25) rotate(0.1)">PROSITE</text><text transform="translate(39.9 775.68) rotate(0.1)">PRINTS</text><text transform="translate(39.9 780.11) rotate(0.1)">pfScan</text><text transform="translate(39.9 784.54) rotate(0.1)">Pfam</text><text transform="translate(39.9 788.97) rotate(0.1)">PDB</text><text transform="translate(39.9 793.4) rotate(0.1)">miRBase</text><text transform="translate(39.9 797.83) rotate(0.1)">Merops</text><text transform="translate(39.9 802.26) rotate(0.1)">Interpro</text><text transform="translate(39.9 806.69) rotate(0.1)">PANTHER</text><text transform="translate(39.9 811.12) rotate(0.1)">HGNC Transcript</text><text transform="translate(39.9 815.55) rotate(0.1)">HGNC</text><text transform="translate(39.9 819.98) rotate(0.1)">HAMAP</text><text transform="translate(39.9 824.41) rotate(0.1)">Entrez Gene</text><text transform="translate(39.9 828.84) rotate(0.1)">Ensembl gene</text><text transform="translate(39.9 833.26) rotate(0.1)">Ensembl exon</text><text transform="translate(39.9 837.69) rotate(0.1)">EMBL</text><text transform="translate(39.9 842.12) rotate(0.1)">ChEMBL</text><text transform="translate(39.9 846.55) rotate(0.1)">CDD</text><text transform="translate(39.9 850.98) rotate(0.1)">CCDS</text></g>
<g class="tl" font-size="2.85" text-anchor="end"><text transform="translate(45.41 855.5) rotate(-46)">CCDS</text><text transform="translate(49.83 855.5) rotate(-46)">CDD</text><text transform="translate(54.24 855.5) rotate(-46)">ChEMBL</text><text transform="translate(58.66 855.5) rotate(-46)">EMBL</text><text transform="translate(63.08 855.5) rotate(-46)">Ensembl exon</text><text transform="translate(67.5 855.5) rotate(-46)">Ensembl gene</text><text transform="translate(71.92 855.5) rotate(-46)">Entrez Gene</text><text transform="translate(76.33 855.5) rotate(-46)">HAMAP</text><text transform="translate(80.75 855.5) rotate(-46)">HGNC</text><text transform="translate(85.17 855.5) rotate(-46)">HGNC Transcript</text><text transform="translate(89.59 855.5) rotate(-46)">PANTHER</text><text transform="translate(94.01 855.5) rotate(-46)">Interpro</text><text transform="translate(98.42 855.5) rotate(-46)">Merops</text><text transform="translate(102.84 855.5) rotate(-46)">miRBase</text><text transform="translate(107.26 855.5) rotate(-46)">PDB</text><text transform="translate(111.68 855.5) rotate(-46)">Pfam</text><text transform="translate(116.1 855.5) rotate(-46)">pfScan</text><text transform="translate(120.51 855.5) rotate(-46)">PRINTS</text><text transform="translate(124.93 855.5) rotate(-46)">PROSITE</text><text transform="translate(129.35 855.5) rotate(-46)">PANDC</text><text transform="translate(133.77 855.5) rotate(-46)">Reactome</text><text transform="translate(138.19 855.5) rotate(-46)">Refseq ncrna</text><text transform="translate(142.6 855.5) rotate(-46)">Refseq mrna</text><text transform="translate(147.02 855.5) rotate(-46)">Refseq peptide</text><text transform="translate(151.44 855.5) rotate(-46)">Rfam</text><text transform="translate(155.86 855.5) rotate(-46)">RNA transcript</text><text transform="translate(160.28 855.5) rotate(-46)">RNAcentral</text><text transform="translate(164.69 855.5) rotate(-46)">RoseProtein</text><text transform="translate(169.11 855.5) rotate(-46)">SFLD</text><text transform="translate(173.53 855.5) rotate(-46)">SMART</text><text transform="translate(177.95 855.5) rotate(-46)">SUPERFAMILY</text><text transform="translate(182.37 855.5) rotate(-46)">TIGRFAMs</text><text transform="translate(186.78 855.5) rotate(-46)">UCSC</text><text transform="translate(191.2 855.5) rotate(-46)">Uniprot archive</text><text transform="translate(195.62 855.5) rotate(-46)">Uniprot gene</text><text transform="translate(200.04 855.5) rotate(-46)">Uniprot isoform</text><text transform="translate(204.46 855.5) rotate(-46)">Uniprot TrEMBL</text><text transform="translate(208.87 855.5) rotate(-46)">Uniprot Swiss-prot</text><text transform="translate(213.29 855.5) rotate(-46)">WikiGene</text></g>
<rect x="304.93" y="847.82" width="4.14" height="4.14" fill="#e29a44"/>
<path d="M306.15 849.05L307.85 850.75M307.85 849.05L306.15 850.75" stroke="#3c3028" stroke-opacity="0.32" stroke-width="0.7"/>
<rect x="309.34" y="843.42" width="4.14" height="4.14" fill="#eab954"/>
<path d="M310.56 844.64L312.26 846.34M312.26 844.64L310.56 846.34" stroke="#3c3028" stroke-opacity="0.32" stroke-width="0.7"/>
<rect x="313.75" y="839.01" width="4.14" height="4.14" fill="#eab954"/>
<path d="M314.97 840.23L316.67 841.93M316.67 840.23L314.97 841.93" stroke="#3c3028" stroke-opacity="0.32" stroke-width="0.7"/>
<rect x="318.16" y="834.61" width="4.14" height="4.14" fill="#cb2629"/>
<path d="M319.38 835.83L321.08 837.53M321.08 835.83L319.38 837.53" stroke="#3c3028" stroke-opacity="0.32" stroke-width="0.7"/>
<rect x="322.57" y="830.2" width="4.14" height="4.14" fill="#8f1228"/>
<path d="M323.79 831.42L325.49 833.12M325.49 831.42L323.79 833.12" stroke="#3c3028" stroke-opacity="0.32" stroke-width="0.7"/>
<rect x="326.98" y="825.79" width="4.14" height="4.14" fill="#d9603a"/>
<path d="M328.2 827.01L329.9 828.71M329.9 827.01L328.2 828.71" stroke="#3c3028" stroke-opacity="0.32" stroke-width="0.7"/>
<rect x="331.39" y="821.39" width="4.14" height="4.14" fill="#e29a44"/>
<path d="M332.61 822.61L334.31 824.31M334.31 822.61L332.61 824.31" stroke="#3c3028" stroke-opacity="0.32" stroke-width="0.7"/>
<rect x="335.8" y="816.98" width="4.14" height="4.14" fill="#f6f0a4"/>
<path d="M337.02 818.2L338.72 819.9M338.72 818.2L337.02 819.9" stroke="#3e4518" stroke-opacity="0.48" stroke-width="0.7"/>
<rect x="340.2" y="812.57" width="4.14" height="4.14" fill="#d9603a"/>
<path d="M341.43 813.8L343.13 815.5M343.13 813.8L341.43 815.5" stroke="#3c3028" stroke-opacity="0.32" stroke-width="0.7"/>
<rect x="346.14" y="681.9" width="1.1" height="1.1" fill="#6a7078" fill-opacity="0.35"/>
<rect x="346.14" y="699.53" width="1.1" height="1.1" fill="#6a7078" fill-opacity="0.35"/>
<rect x="346.14" y="739.19" width="1.1" height="1.1" fill="#6a7078" fill-opacity="0.35"/>
<rect x="346.14" y="796.47" width="1.1" height="1.1" fill="#6a7078" fill-opacity="0.35"/>
<rect x="344.61" y="808.17" width="4.14" height="4.14" fill="#cb2629"/>
<path d="M345.84 809.39L347.54 811.09M347.54 809.39L345.84 811.09" stroke="#3c3028" stroke-opacity="0.32" stroke-width="0.7"/>
<rect x="349.02" y="803.76" width="4.14" height="4.14" fill="#dc7a3c"/>
<path d="M350.24 804.98L351.94 806.68M351.94 804.98L350.24 806.68" stroke="#3c3028" stroke-opacity="0.32" stroke-width="0.7"/>
<rect x="353.43" y="799.35" width="4.14" height="4.14" fill="#e29a44"/>
<path d="M354.65 800.58L356.35 802.28M356.35 800.58L354.65 802.28" stroke="#3c3028" stroke-opacity="0.32" stroke-width="0.7"/>
<rect x="357.84" y="794.95" width="4.14" height="4.14" fill="#f6f0a4"/>
<path d="M359.06 796.17L360.76 797.87M360.76 796.17L359.06 797.87" stroke="#3e4518" stroke-opacity="0.48" stroke-width="0.7"/>
<rect x="362.25" y="790.54" width="4.14" height="4.14" fill="#f3d77c"/>
<path d="M363.47 791.76L365.17 793.46M365.17 791.76L363.47 793.46" stroke="#3e4518" stroke-opacity="0.32" stroke-width="0.7"/>
<rect x="366.66" y="786.13" width="4.14" height="4.14" fill="#d9603a"/>
<path d="M367.88 787.36L369.58 789.06M369.58 787.36L367.88 789.06" stroke="#3c3028" stroke-opacity="0.32" stroke-width="0.7"/>
<rect x="371.07" y="781.73" width="4.14" height="4.14" fill="#e29a44"/>
<path d="M372.29 782.95L373.99 784.65M373.99 782.95L372.29 784.65" stroke="#3c3028" stroke-opacity="0.32" stroke-width="0.7"/>
<rect x="375.48" y="777.32" width="4.14" height="4.14" fill="#f6f0a4"/>
<path d="M376.7 778.54L378.4 780.24M378.4 778.54L376.7 780.24" stroke="#3e4518" stroke-opacity="0.48" stroke-width="0.7"/>
<rect x="379.88" y="772.92" width="4.14" height="4.14" fill="#f6f0a4"/>
<path d="M381.11 774.14L382.81 775.84M382.81 774.14L381.11 775.84" stroke="#3e4518" stroke-opacity="0.48" stroke-width="0.7"/>
<rect x="384.29" y="768.51" width="4.14" height="4.14" fill="#f6f0a4"/>
<path d="M385.52 769.73L387.22 771.43M387.22 769.73L385.52 771.43" stroke="#3e4518" stroke-opacity="0.48" stroke-width="0.7"/>
<rect x="390.22" y="681.9" width="1.1" height="1.1" fill="#6a7078" fill-opacity="0.35"/>
<rect x="390.22" y="699.53" width="1.1" height="1.1" fill="#6a7078" fill-opacity="0.35"/>
<rect x="390.22" y="717.15" width="1.1" height="1.1" fill="#6a7078" fill-opacity="0.35"/>
<rect x="388.7" y="764.1" width="4.14" height="4.14" fill="#b5152a"/>
<path d="M389.92 765.32L391.62 767.02M391.62 765.32L389.92 767.02" stroke="#3c3028" stroke-opacity="0.32" stroke-width="0.7"/>
<rect x="393.11" y="759.7" width="4.14" height="4.14" fill="#f3d77c"/>
<path d="M394.33 760.92L396.03 762.62M396.03 760.92L394.33 762.62" stroke="#3e4518" stroke-opacity="0.32" stroke-width="0.7"/>
<rect x="397.52" y="755.29" width="4.14" height="4.14" fill="#d9603a"/>
<path d="M398.74 756.51L400.44 758.21M400.44 756.51L398.74 758.21" stroke="#3c3028" stroke-opacity="0.32" stroke-width="0.7"/>
<rect x="401.93" y="750.88" width="4.14" height="4.14" fill="#e29a44"/>
<path d="M403.15 752.11L404.85 753.81M404.85 752.11L403.15 753.81" stroke="#3c3028" stroke-opacity="0.32" stroke-width="0.7"/>
<rect x="406.34" y="746.48" width="4.14" height="4.14" fill="#d9603a"/>
<path d="M407.56 747.7L409.26 749.4M409.26 747.7L407.56 749.4" stroke="#3c3028" stroke-opacity="0.32" stroke-width="0.7"/>
<rect x="412.27" y="743.59" width="1.1" height="1.1" fill="#6a7078" fill-opacity="0.35"/>
<rect x="415.16" y="737.66" width="4.14" height="4.14" fill="#f6f0a4"/>
<path d="M416.38 738.89L418.08 740.59M418.08 738.89L416.38 740.59" stroke="#3e4518" stroke-opacity="0.48" stroke-width="0.7"/>
<rect x="419.57" y="733.26" width="4.14" height="4.14" fill="#d9603a"/>
<path d="M420.79 734.48L422.49 736.18M422.49 734.48L420.79 736.18" stroke="#3c3028" stroke-opacity="0.32" stroke-width="0.7"/>
<rect x="423.97" y="728.85" width="4.14" height="4.14" fill="#f6f0a4"/>
<path d="M425.2 730.07L426.9 731.77M426.9 730.07L425.2 731.77" stroke="#3e4518" stroke-opacity="0.48" stroke-width="0.7"/>
<rect x="429.91" y="725.97" width="1.1" height="1.1" fill="#6a7078" fill-opacity="0.35"/>
<rect x="432.79" y="720.04" width="4.14" height="4.14" fill="#f6f0a4"/>
<path d="M434.01 721.26L435.71 722.96M435.71 721.26L434.01 722.96" stroke="#3e4518" stroke-opacity="0.48" stroke-width="0.7"/>
<rect x="437.2" y="715.63" width="4.14" height="4.14" fill="#f6f0a4"/>
<path d="M438.42 716.85L440.12 718.55M440.12 716.85L438.42 718.55" stroke="#3e4518" stroke-opacity="0.48" stroke-width="0.7"/>
<rect x="441.61" y="711.23" width="4.14" height="4.14" fill="#f6f0a4"/>
<path d="M442.83 712.45L444.53 714.15M444.53 712.45L442.83 714.15" stroke="#3e4518" stroke-opacity="0.48" stroke-width="0.7"/>
<rect x="446.02" y="706.82" width="4.14" height="4.14" fill="#cb2629"/>
<path d="M447.24 708.04L448.94 709.74M448.94 708.04L447.24 709.74" stroke="#3c3028" stroke-opacity="0.32" stroke-width="0.7"/>
<rect x="450.43" y="702.41" width="4.14" height="4.14" fill="#d9603a"/>
<path d="M451.65 703.64L453.35 705.34M453.35 703.64L451.65 705.34" stroke="#3c3028" stroke-opacity="0.32" stroke-width="0.7"/>
<rect x="454.84" y="680.38" width="4.14" height="4.14" fill="#fbf8d6"/>
<path d="M456.06 681.6L457.76 683.3M457.76 681.6L456.06 683.3" stroke="#3e4518" stroke-opacity="0.48" stroke-width="0.7"/>
<rect x="456.36" y="690.72" width="1.1" height="1.1" fill="#6a7078" fill-opacity="0.35"/>
<rect x="454.84" y="698.01" width="4.14" height="4.14" fill="#e29a44"/>
<path d="M456.06 699.23L457.76 700.93M457.76 699.23L456.06 700.93" stroke="#3c3028" stroke-opacity="0.32" stroke-width="0.7"/>
<rect x="456.36" y="787.66" width="1.1" height="1.1" fill="#6a7078" fill-opacity="0.35"/>
<rect x="456.36" y="809.69" width="1.1" height="1.1" fill="#6a7078" fill-opacity="0.35"/>
<rect x="459.25" y="693.6" width="4.14" height="4.14" fill="#dc7a3c"/>
<path d="M460.47 694.82L462.17 696.52M462.17 694.82L460.47 696.52" stroke="#3c3028" stroke-opacity="0.32" stroke-width="0.7"/>
<rect x="463.66" y="684.79" width="4.14" height="4.14" fill="#eab954"/>
<path d="M464.88 686.01L466.58 687.71M466.58 686.01L464.88 687.71" stroke="#3c3028" stroke-opacity="0.32" stroke-width="0.7"/>
<rect x="463.66" y="689.19" width="4.14" height="4.14" fill="#d9603a"/>
<path d="M464.88 690.42L466.58 692.12M466.58 690.42L464.88 692.12" stroke="#3c3028" stroke-opacity="0.32" stroke-width="0.7"/>
<rect x="468.06" y="684.79" width="4.14" height="4.14" fill="#e29a44"/>
<path d="M469.29 686.01L470.99 687.71M470.99 686.01L469.29 687.71" stroke="#3c3028" stroke-opacity="0.32" stroke-width="0.7"/>
<rect x="468.06" y="689.19" width="4.14" height="4.14" fill="#f6f0a4"/>
<path d="M469.29 690.42L470.99 692.12M470.99 690.42L469.29 692.12" stroke="#3e4518" stroke-opacity="0.48" stroke-width="0.7"/>
<rect x="472.47" y="680.38" width="4.14" height="4.14" fill="#eab954"/>
<path d="M473.7 681.6L475.4 683.3M475.4 681.6L473.7 683.3" stroke="#3c3028" stroke-opacity="0.32" stroke-width="0.7"/>
<rect x="474" y="690.72" width="1.1" height="1.1" fill="#6a7078" fill-opacity="0.35"/>
<rect x="472.47" y="698.01" width="4.14" height="4.14" fill="#e29a44"/>
<path d="M473.7 699.23L475.4 700.93M475.4 699.23L473.7 700.93" stroke="#3c3028" stroke-opacity="0.32" stroke-width="0.7"/>
<rect x="304.5" y="680.2" width="172.5" height="172.3" fill="none" stroke="#a9a9a9" stroke-width="1.2"/>
<path d="M304.5 682.45h-1.2M307 852.5v1.2M304.5 686.86h-1.2M311.41 852.5v1.2M304.5 691.27h-1.2M315.82 852.5v1.2M304.5 695.67h-1.2M320.23 852.5v1.2M304.5 700.08h-1.2M324.64 852.5v1.2M304.5 704.49h-1.2M329.05 852.5v1.2M304.5 708.89h-1.2M333.46 852.5v1.2M304.5 713.3h-1.2M337.87 852.5v1.2M304.5 717.7h-1.2M342.28 852.5v1.2M304.5 722.11h-1.2M346.69 852.5v1.2M304.5 726.52h-1.2M351.09 852.5v1.2M304.5 730.92h-1.2M355.5 852.5v1.2M304.5 735.33h-1.2M359.91 852.5v1.2M304.5 739.74h-1.2M364.32 852.5v1.2M304.5 744.14h-1.2M368.73 852.5v1.2M304.5 748.55h-1.2M373.14 852.5v1.2M304.5 752.96h-1.2M377.55 852.5v1.2M304.5 757.36h-1.2M381.96 852.5v1.2M304.5 761.77h-1.2M386.37 852.5v1.2M304.5 766.17h-1.2M390.77 852.5v1.2M304.5 770.58h-1.2M395.18 852.5v1.2M304.5 774.99h-1.2M399.59 852.5v1.2M304.5 779.39h-1.2M404 852.5v1.2M304.5 783.8h-1.2M408.41 852.5v1.2M304.5 788.21h-1.2M412.82 852.5v1.2M304.5 792.61h-1.2M417.23 852.5v1.2M304.5 797.02h-1.2M421.64 852.5v1.2M304.5 801.43h-1.2M426.05 852.5v1.2M304.5 805.83h-1.2M430.46 852.5v1.2M304.5 810.24h-1.2M434.86 852.5v1.2M304.5 814.65h-1.2M439.27 852.5v1.2M304.5 819.05h-1.2M443.68 852.5v1.2M304.5 823.46h-1.2M448.09 852.5v1.2M304.5 827.86h-1.2M452.5 852.5v1.2M304.5 832.27h-1.2M456.91 852.5v1.2M304.5 836.68h-1.2M461.32 852.5v1.2M304.5 841.08h-1.2M465.73 852.5v1.2M304.5 845.49h-1.2M470.14 852.5v1.2M304.5 849.9h-1.2M474.55 852.5v1.2" stroke="#777" stroke-width="0.5" fill="none"/>
<g class="tl" font-size="2.85" text-anchor="end"><text transform="translate(302.9 683.45) rotate(0.1)">WikiGene</text><text transform="translate(302.9 687.86) rotate(0.1)">Uniprot Swiss-prot</text><text transform="translate(302.9 692.26) rotate(0.1)">Uniprot TrEMBL</text><text transform="translate(302.9 696.67) rotate(0.1)">Uniprot isoform</text><text transform="translate(302.9 701.08) rotate(0.1)">Uniprot gene</text><text transform="translate(302.9 705.48) rotate(0.1)">Uniprot archive</text><text transform="translate(302.9 709.89) rotate(0.1)">UCSC</text><text transform="translate(302.9 714.3) rotate(0.1)">TIGRFAMs</text><text transform="translate(302.9 718.7) rotate(0.1)">SUPERFAMILY</text><text transform="translate(302.9 723.11) rotate(0.1)">SMART</text><text transform="translate(302.9 727.51) rotate(0.1)">SFLD</text><text transform="translate(302.9 731.92) rotate(0.1)">RoseProtein</text><text transform="translate(302.9 736.33) rotate(0.1)">RNAcentral</text><text transform="translate(302.9 740.73) rotate(0.1)">RNA transcript</text><text transform="translate(302.9 745.14) rotate(0.1)">Rfam</text><text transform="translate(302.9 749.55) rotate(0.1)">Refseq peptide</text><text transform="translate(302.9 753.95) rotate(0.1)">Refseq mrna</text><text transform="translate(302.9 758.36) rotate(0.1)">Refseq ncrna</text><text transform="translate(302.9 762.77) rotate(0.1)">Reactome</text><text transform="translate(302.9 767.17) rotate(0.1)">PANDC</text><text transform="translate(302.9 771.58) rotate(0.1)">PROSITE</text><text transform="translate(302.9 775.99) rotate(0.1)">PRINTS</text><text transform="translate(302.9 780.39) rotate(0.1)">pfScan</text><text transform="translate(302.9 784.8) rotate(0.1)">Pfam</text><text transform="translate(302.9 789.2) rotate(0.1)">PDB</text><text transform="translate(302.9 793.61) rotate(0.1)">miRBase</text><text transform="translate(302.9 798.02) rotate(0.1)">Merops</text><text transform="translate(302.9 802.42) rotate(0.1)">Interpro</text><text transform="translate(302.9 806.83) rotate(0.1)">PANTHER</text><text transform="translate(302.9 811.24) rotate(0.1)">HGNC Transcript</text><text transform="translate(302.9 815.64) rotate(0.1)">HGNC</text><text transform="translate(302.9 820.05) rotate(0.1)">HAMAP</text><text transform="translate(302.9 824.46) rotate(0.1)">Entrez Gene</text><text transform="translate(302.9 828.86) rotate(0.1)">Ensembl gene</text><text transform="translate(302.9 833.27) rotate(0.1)">Ensembl exon</text><text transform="translate(302.9 837.68) rotate(0.1)">EMBL</text><text transform="translate(302.9 842.08) rotate(0.1)">ChEMBL</text><text transform="translate(302.9 846.49) rotate(0.1)">CDD</text><text transform="translate(302.9 850.89) rotate(0.1)">CCDS</text></g>
<g class="tl" font-size="2.85" text-anchor="end"><text transform="translate(308.4 855.4) rotate(-46)">CCDS</text><text transform="translate(312.81 855.4) rotate(-46)">CDD</text><text transform="translate(317.22 855.4) rotate(-46)">ChEMBL</text><text transform="translate(321.63 855.4) rotate(-46)">EMBL</text><text transform="translate(326.04 855.4) rotate(-46)">Ensembl exon</text><text transform="translate(330.45 855.4) rotate(-46)">Ensembl gene</text><text transform="translate(334.86 855.4) rotate(-46)">Entrez Gene</text><text transform="translate(339.27 855.4) rotate(-46)">HAMAP</text><text transform="translate(343.68 855.4) rotate(-46)">HGNC</text><text transform="translate(348.09 855.4) rotate(-46)">HGNC Transcript</text><text transform="translate(352.49 855.4) rotate(-46)">PANTHER</text><text transform="translate(356.9 855.4) rotate(-46)">Interpro</text><text transform="translate(361.31 855.4) rotate(-46)">Merops</text><text transform="translate(365.72 855.4) rotate(-46)">miRBase</text><text transform="translate(370.13 855.4) rotate(-46)">PDB</text><text transform="translate(374.54 855.4) rotate(-46)">Pfam</text><text transform="translate(378.95 855.4) rotate(-46)">pfScan</text><text transform="translate(383.36 855.4) rotate(-46)">PRINTS</text><text transform="translate(387.77 855.4) rotate(-46)">PROSITE</text><text transform="translate(392.17 855.4) rotate(-46)">PANDC</text><text transform="translate(396.58 855.4) rotate(-46)">Reactome</text><text transform="translate(400.99 855.4) rotate(-46)">Refseq ncrna</text><text transform="translate(405.4 855.4) rotate(-46)">Refseq mrna</text><text transform="translate(409.81 855.4) rotate(-46)">Refseq peptide</text><text transform="translate(414.22 855.4) rotate(-46)">Rfam</text><text transform="translate(418.63 855.4) rotate(-46)">RNA transcript</text><text transform="translate(423.04 855.4) rotate(-46)">RNAcentral</text><text transform="translate(427.45 855.4) rotate(-46)">RoseProtein</text><text transform="translate(431.86 855.4) rotate(-46)">SFLD</text><text transform="translate(436.26 855.4) rotate(-46)">SMART</text><text transform="translate(440.67 855.4) rotate(-46)">SUPERFAMILY</text><text transform="translate(445.08 855.4) rotate(-46)">TIGRFAMs</text><text transform="translate(449.49 855.4) rotate(-46)">UCSC</text><text transform="translate(453.9 855.4) rotate(-46)">Uniprot archive</text><text transform="translate(458.31 855.4) rotate(-46)">Uniprot gene</text><text transform="translate(462.72 855.4) rotate(-46)">Uniprot isoform</text><text transform="translate(467.13 855.4) rotate(-46)">Uniprot TrEMBL</text><text transform="translate(471.54 855.4) rotate(-46)">Uniprot Swiss-prot</text><text transform="translate(475.95 855.4) rotate(-46)">WikiGene</text></g>
<rect x="220.8" y="79.8" width="10.8" height="53.5" fill="url(#cb)"/>
<path d="M220.8 90.5h2M231.6 90.5h-2M220.8 101.2h2M231.6 101.2h-2M220.8 111.9h2M231.6 111.9h-2M220.8 122.6h2M231.6 122.6h-2" stroke="#fff" stroke-opacity="0.55" stroke-width="0.6"/>
<text class="lb" x="234.6" y="81.9" font-size="6">2.5<tspan dx="0.9">×</tspan><tspan dx="0.6">10</tspan><tspan font-size="3.8" dx="0.2" dy="-2.5">5</tspan></text>
<text class="lb" x="234.6" y="92.78" font-size="6">2.0<tspan dx="0.9">×</tspan><tspan dx="0.6">10</tspan><tspan font-size="3.8" dx="0.2" dy="-2.5">5</tspan></text>
<text class="lb" x="234.6" y="103.66" font-size="6">1.5<tspan dx="0.9">×</tspan><tspan dx="0.6">10</tspan><tspan font-size="3.8" dx="0.2" dy="-2.5">5</tspan></text>
<text class="lb" x="234.6" y="114.54" font-size="6">1.0<tspan dx="0.9">×</tspan><tspan dx="0.6">10</tspan><tspan font-size="3.8" dx="0.2" dy="-2.5">5</tspan></text>
<text class="lb" x="234.6" y="125.42" font-size="6">0.5<tspan dx="0.9">×</tspan><tspan dx="0.6">10</tspan><tspan font-size="3.8" dx="0.2" dy="-2.5">5</tspan></text>
<text class="lb" x="234.6" y="136.3" font-size="6">0</text>
<rect x="484.2" y="80" width="11" height="53.1" fill="url(#cb)"/>
<path d="M484.2 90.62h2M495.2 90.62h-2M484.2 101.24h2M495.2 101.24h-2M484.2 111.86h2M495.2 111.86h-2M484.2 122.48h2M495.2 122.48h-2" stroke="#fff" stroke-opacity="0.55" stroke-width="0.6"/>
<text class="lb" x="498.4" y="82.1" font-size="6">2.5<tspan dx="0.9">×</tspan><tspan dx="0.6">10</tspan><tspan font-size="3.8" dx="0.2" dy="-2.5">5</tspan></text>
<text class="lb" x="498.4" y="92.9" font-size="6">2.0<tspan dx="0.9">×</tspan><tspan dx="0.6">10</tspan><tspan font-size="3.8" dx="0.2" dy="-2.5">5</tspan></text>
<text class="lb" x="498.4" y="103.7" font-size="6">1.5<tspan dx="0.9">×</tspan><tspan dx="0.6">10</tspan><tspan font-size="3.8" dx="0.2" dy="-2.5">5</tspan></text>
<text class="lb" x="498.4" y="114.5" font-size="6">1.0<tspan dx="0.9">×</tspan><tspan dx="0.6">10</tspan><tspan font-size="3.8" dx="0.2" dy="-2.5">5</tspan></text>
<text class="lb" x="498.4" y="125.3" font-size="6">0.5<tspan dx="0.9">×</tspan><tspan dx="0.6">10</tspan><tspan font-size="3.8" dx="0.2" dy="-2.5">5</tspan></text>
<text class="lb" x="498.4" y="136.1" font-size="6">0</text>
<rect x="221" y="311.7" width="10.3" height="52.7" fill="url(#cb)"/>
<path d="M221 322.24h2M231.3 322.24h-2M221 332.78h2M231.3 332.78h-2M221 343.32h2M231.3 343.32h-2M221 353.86h2M231.3 353.86h-2" stroke="#fff" stroke-opacity="0.55" stroke-width="0.6"/>
<text class="lb" x="234.8" y="313.8" font-size="6">2.5<tspan dx="0.9">×</tspan><tspan dx="0.6">10</tspan><tspan font-size="3.8" dx="0.2" dy="-2.5">5</tspan></text>
<text class="lb" x="234.8" y="324.52" font-size="6">2.0<tspan dx="0.9">×</tspan><tspan dx="0.6">10</tspan><tspan font-size="3.8" dx="0.2" dy="-2.5">5</tspan></text>
<text class="lb" x="234.8" y="335.24" font-size="6">1.5<tspan dx="0.9">×</tspan><tspan dx="0.6">10</tspan><tspan font-size="3.8" dx="0.2" dy="-2.5">5</tspan></text>
<text class="lb" x="234.8" y="345.96" font-size="6">1.0<tspan dx="0.9">×</tspan><tspan dx="0.6">10</tspan><tspan font-size="3.8" dx="0.2" dy="-2.5">5</tspan></text>
<text class="lb" x="234.8" y="356.68" font-size="6">0.5<tspan dx="0.9">×</tspan><tspan dx="0.6">10</tspan><tspan font-size="3.8" dx="0.2" dy="-2.5">5</tspan></text>
<text class="lb" x="234.8" y="367.4" font-size="6">0</text>
<rect x="483.9" y="311.9" width="10.3" height="52.6" fill="url(#cb)"/>
<path d="M483.9 322.42h2M494.2 322.42h-2M483.9 332.94h2M494.2 332.94h-2M483.9 343.46h2M494.2 343.46h-2M483.9 353.98h2M494.2 353.98h-2" stroke="#fff" stroke-opacity="0.55" stroke-width="0.6"/>
<text class="lb" x="497.7" y="314" font-size="6">2.5<tspan dx="0.9">×</tspan><tspan dx="0.6">10</tspan><tspan font-size="3.8" dx="0.2" dy="-2.5">5</tspan></text>
<text class="lb" x="497.7" y="324.7" font-size="6">2.0<tspan dx="0.9">×</tspan><tspan dx="0.6">10</tspan><tspan font-size="3.8" dx="0.2" dy="-2.5">5</tspan></text>
<text class="lb" x="497.7" y="335.4" font-size="6">1.5<tspan dx="0.9">×</tspan><tspan dx="0.6">10</tspan><tspan font-size="3.8" dx="0.2" dy="-2.5">5</tspan></text>
<text class="lb" x="497.7" y="346.1" font-size="6">1.0<tspan dx="0.9">×</tspan><tspan dx="0.6">10</tspan><tspan font-size="3.8" dx="0.2" dy="-2.5">5</tspan></text>
<text class="lb" x="497.7" y="356.8" font-size="6">0.5<tspan dx="0.9">×</tspan><tspan dx="0.6">10</tspan><tspan font-size="3.8" dx="0.2" dy="-2.5">5</tspan></text>
<text class="lb" x="497.7" y="367.5" font-size="6">0</text>
<rect x="221" y="537.9" width="10.6" height="52.7" fill="url(#cb)"/>
<path d="M221 548.44h2M231.6 548.44h-2M221 558.98h2M231.6 558.98h-2M221 569.52h2M231.6 569.52h-2M221 580.06h2M231.6 580.06h-2" stroke="#fff" stroke-opacity="0.55" stroke-width="0.6"/>
<text class="lb" x="234.8" y="540" font-size="6">2.5<tspan dx="0.9">×</tspan><tspan dx="0.6">10</tspan><tspan font-size="3.8" dx="0.2" dy="-2.5">5</tspan></text>
<text class="lb" x="234.8" y="550.72" font-size="6">2.0<tspan dx="0.9">×</tspan><tspan dx="0.6">10</tspan><tspan font-size="3.8" dx="0.2" dy="-2.5">5</tspan></text>
<text class="lb" x="234.8" y="561.44" font-size="6">1.5<tspan dx="0.9">×</tspan><tspan dx="0.6">10</tspan><tspan font-size="3.8" dx="0.2" dy="-2.5">5</tspan></text>
<text class="lb" x="234.8" y="572.16" font-size="6">1.0<tspan dx="0.9">×</tspan><tspan dx="0.6">10</tspan><tspan font-size="3.8" dx="0.2" dy="-2.5">5</tspan></text>
<text class="lb" x="234.8" y="582.88" font-size="6">0.5<tspan dx="0.9">×</tspan><tspan dx="0.6">10</tspan><tspan font-size="3.8" dx="0.2" dy="-2.5">5</tspan></text>
<text class="lb" x="234.8" y="593.6" font-size="6">0</text>
<rect x="483.5" y="538.1" width="10.5" height="53.2" fill="url(#cb)"/>
<path d="M483.5 548.74h2M494 548.74h-2M483.5 559.38h2M494 559.38h-2M483.5 570.02h2M494 570.02h-2M483.5 580.66h2M494 580.66h-2" stroke="#fff" stroke-opacity="0.55" stroke-width="0.6"/>
<text class="lb" x="497.4" y="540.2" font-size="6">2.5<tspan dx="0.9">×</tspan><tspan dx="0.6">10</tspan><tspan font-size="3.8" dx="0.2" dy="-2.5">5</tspan></text>
<text class="lb" x="497.4" y="551.02" font-size="6">2.0<tspan dx="0.9">×</tspan><tspan dx="0.6">10</tspan><tspan font-size="3.8" dx="0.2" dy="-2.5">5</tspan></text>
<text class="lb" x="497.4" y="561.84" font-size="6">1.5<tspan dx="0.9">×</tspan><tspan dx="0.6">10</tspan><tspan font-size="3.8" dx="0.2" dy="-2.5">5</tspan></text>
<text class="lb" x="497.4" y="572.66" font-size="6">1.0<tspan dx="0.9">×</tspan><tspan dx="0.6">10</tspan><tspan font-size="3.8" dx="0.2" dy="-2.5">5</tspan></text>
<text class="lb" x="497.4" y="583.48" font-size="6">0.5<tspan dx="0.9">×</tspan><tspan dx="0.6">10</tspan><tspan font-size="3.8" dx="0.2" dy="-2.5">5</tspan></text>
<text class="lb" x="497.4" y="594.3" font-size="6">0</text>
<rect x="221" y="747.5" width="10.6" height="52.7" fill="url(#cb)"/>
<path d="M221 758.04h2M231.6 758.04h-2M221 768.58h2M231.6 768.58h-2M221 779.12h2M231.6 779.12h-2M221 789.66h2M231.6 789.66h-2" stroke="#fff" stroke-opacity="0.55" stroke-width="0.6"/>
<text class="lb" x="234.8" y="749.6" font-size="6">2.5<tspan dx="0.9">×</tspan><tspan dx="0.6">10</tspan><tspan font-size="3.8" dx="0.2" dy="-2.5">5</tspan></text>
<text class="lb" x="234.8" y="760.32" font-size="6">2.0<tspan dx="0.9">×</tspan><tspan dx="0.6">10</tspan><tspan font-size="3.8" dx="0.2" dy="-2.5">5</tspan></text>
<text class="lb" x="234.8" y="771.04" font-size="6">1.5<tspan dx="0.9">×</tspan><tspan dx="0.6">10</tspan><tspan font-size="3.8" dx="0.2" dy="-2.5">5</tspan></text>
<text class="lb" x="234.8" y="781.76" font-size="6">1.0<tspan dx="0.9">×</tspan><tspan dx="0.6">10</tspan><tspan font-size="3.8" dx="0.2" dy="-2.5">5</tspan></text>
<text class="lb" x="234.8" y="792.48" font-size="6">0.5<tspan dx="0.9">×</tspan><tspan dx="0.6">10</tspan><tspan font-size="3.8" dx="0.2" dy="-2.5">5</tspan></text>
<text class="lb" x="234.8" y="803.2" font-size="6">0</text>
<rect x="482.7" y="747.8" width="10.9" height="53.2" fill="url(#cb)"/>
<path d="M482.7 758.44h2M493.6 758.44h-2M482.7 769.08h2M493.6 769.08h-2M482.7 779.72h2M493.6 779.72h-2M482.7 790.36h2M493.6 790.36h-2" stroke="#fff" stroke-opacity="0.55" stroke-width="0.6"/>
<text class="lb" x="496.7" y="749.9" font-size="6">2.5<tspan dx="0.9">×</tspan><tspan dx="0.6">10</tspan><tspan font-size="3.8" dx="0.2" dy="-2.5">5</tspan></text>
<text class="lb" x="496.7" y="760.72" font-size="6">2.0<tspan dx="0.9">×</tspan><tspan dx="0.6">10</tspan><tspan font-size="3.8" dx="0.2" dy="-2.5">5</tspan></text>
<text class="lb" x="496.7" y="771.54" font-size="6">1.5<tspan dx="0.9">×</tspan><tspan dx="0.6">10</tspan><tspan font-size="3.8" dx="0.2" dy="-2.5">5</tspan></text>
<text class="lb" x="496.7" y="782.36" font-size="6">1.0<tspan dx="0.9">×</tspan><tspan dx="0.6">10</tspan><tspan font-size="3.8" dx="0.2" dy="-2.5">5</tspan></text>
<text class="lb" x="496.7" y="793.18" font-size="6">0.5<tspan dx="0.9">×</tspan><tspan dx="0.6">10</tspan><tspan font-size="3.8" dx="0.2" dy="-2.5">5</tspan></text>
<text class="lb" x="496.7" y="804" font-size="6">0</text>
</svg>
</body></html>
